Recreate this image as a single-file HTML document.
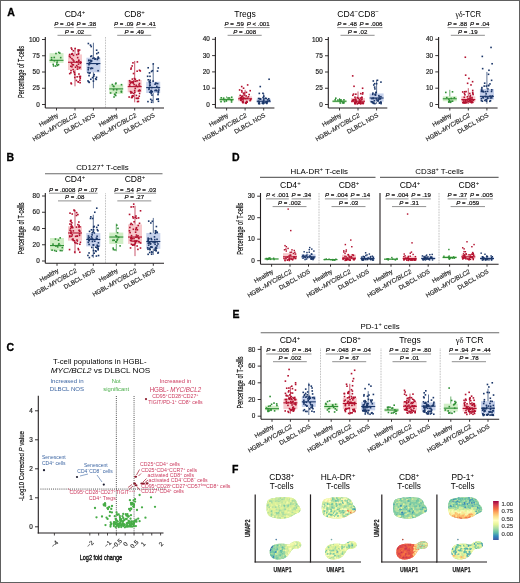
<!DOCTYPE html>
<html><head><meta charset="utf-8"><style>
html,body{margin:0;padding:0;background:#fff;}
body{width:520px;height:583px;overflow:hidden;}
svg{display:block;font-family:"Liberation Sans", sans-serif;will-change:transform;}
</style></head><body>
<svg width="520" height="583" viewBox="0 0 520 583">
<rect x="0" y="0" width="520" height="583" fill="#fff"/>
<defs><clipPath id="ctop"><path d="M13,500 C17,497.5 28,496.8 36,497.8 C40,498.5 42,501.5 42.5,505 C45.5,506.5 46.5,511 43.5,512.5 C41,513.5 39.5,514 37,516 C32,519 22,520 14,516 C10.5,513.5 10.5,503 13,500 Z"/></clipPath><clipPath id="cbot"><path d="M14.5,552 C14.5,547 18,544 24,543.8 C28,543.6 31,544 34,544.5 C36,542.5 38,541.2 41,541.2 C44.5,541.2 46.5,543 46,545.5 C45.5,548 42,549.2 38,549 C36,550 35,553 32.5,556 C30,558.5 26,559.6 22,559.5 C17.5,559.2 14.5,556.5 14.5,552 Z"/></clipPath><linearGradient id="cbar" x1="0" y1="1" x2="0" y2="0"><stop offset="0.0" stop-color="#3e56a3"/><stop offset="0.1" stop-color="#3288bd"/><stop offset="0.2" stop-color="#66c2a5"/><stop offset="0.3" stop-color="#abdda4"/><stop offset="0.4" stop-color="#e6f598"/><stop offset="0.5" stop-color="#ffffbf"/><stop offset="0.6" stop-color="#fee08b"/><stop offset="0.7" stop-color="#fdae61"/><stop offset="0.8" stop-color="#f46d43"/><stop offset="0.9" stop-color="#d53e4f"/><stop offset="1.0" stop-color="#9e0142"/></linearGradient></defs>
<text x="7.2" y="16" font-size="10.5" font-weight="bold" fill="#000" stroke="#000" stroke-width="0.3">A</text>
<text x="6.5" y="161" font-size="10.5" font-weight="bold" fill="#000" stroke="#000" stroke-width="0.3">B</text>
<text x="6.5" y="350.5" font-size="10.5" font-weight="bold" fill="#000" stroke="#000" stroke-width="0.3">C</text>
<text x="232" y="161" font-size="10.5" font-weight="bold" fill="#000" stroke="#000" stroke-width="0.3">D</text>
<text x="232.5" y="318" font-size="10.5" font-weight="bold" fill="#000" stroke="#000" stroke-width="0.3">E</text>
<text x="232" y="473" font-size="10.5" font-weight="bold" fill="#000" stroke="#000" stroke-width="0.3">F</text>
<line x1="45.3" y1="37" x2="45.3" y2="108" stroke="#231f20" stroke-width="1.1"/>
<line x1="42" y1="104.5" x2="45.3" y2="104.5" stroke="#231f20" stroke-width="0.9"/>
<text x="39.7" y="106.6" font-size="6.4" text-anchor="end" fill="#222" stroke="#222" stroke-width="0.18">0</text>
<line x1="42" y1="88.25" x2="45.3" y2="88.25" stroke="#231f20" stroke-width="0.9"/>
<text x="39.7" y="90.35" font-size="6.4" text-anchor="end" fill="#222" stroke="#222" stroke-width="0.18">25</text>
<line x1="42" y1="72" x2="45.3" y2="72" stroke="#231f20" stroke-width="0.9"/>
<text x="39.7" y="74.1" font-size="6.4" text-anchor="end" fill="#222" stroke="#222" stroke-width="0.18">50</text>
<line x1="42" y1="55.75" x2="45.3" y2="55.75" stroke="#231f20" stroke-width="0.9"/>
<text x="39.7" y="57.85" font-size="6.4" text-anchor="end" fill="#222" stroke="#222" stroke-width="0.18">75</text>
<line x1="42" y1="39.5" x2="45.3" y2="39.5" stroke="#231f20" stroke-width="0.9"/>
<text x="39.7" y="41.6" font-size="6.4" text-anchor="end" fill="#222" stroke="#222" stroke-width="0.18">100</text>
<line x1="45.3" y1="108" x2="164" y2="108" stroke="#231f20" stroke-width="1.1"/>
<line x1="56.5" y1="108" x2="56.5" y2="110.5" stroke="#231f20" stroke-width="0.9"/>
<line x1="75" y1="108" x2="75" y2="110.5" stroke="#231f20" stroke-width="0.9"/>
<line x1="93.4" y1="108" x2="93.4" y2="110.5" stroke="#231f20" stroke-width="0.9"/>
<line x1="116.2" y1="108" x2="116.2" y2="110.5" stroke="#231f20" stroke-width="0.9"/>
<line x1="134.7" y1="108" x2="134.7" y2="110.5" stroke="#231f20" stroke-width="0.9"/>
<line x1="153.2" y1="108" x2="153.2" y2="110.5" stroke="#231f20" stroke-width="0.9"/>
<line x1="105.5" y1="37" x2="105.5" y2="108" stroke="#6e6e6e" stroke-width="0.6" stroke-dasharray="0.7 0.9"/>
<text x="58.7" y="116.5" font-size="6.2" text-anchor="end" fill="#2a2a2a" transform="rotate(-30 58.7 116.5)" stroke="#2a2a2a" stroke-width="0.18">Healthy</text>
<text x="77.2" y="116.5" font-size="6.2" text-anchor="end" fill="#2a2a2a" transform="rotate(-30 77.2 116.5)" stroke="#2a2a2a" stroke-width="0.18">HGBL-<tspan font-style="italic">MYC/BLC2</tspan></text>
<text x="95.6" y="116.5" font-size="6.2" text-anchor="end" fill="#2a2a2a" transform="rotate(-30 95.6 116.5)" stroke="#2a2a2a" stroke-width="0.18">DLBCL NOS</text>
<text x="118.4" y="116.5" font-size="6.2" text-anchor="end" fill="#2a2a2a" transform="rotate(-30 118.4 116.5)" stroke="#2a2a2a" stroke-width="0.18">Healthy</text>
<text x="136.9" y="116.5" font-size="6.2" text-anchor="end" fill="#2a2a2a" transform="rotate(-30 136.9 116.5)" stroke="#2a2a2a" stroke-width="0.18">HGBL-<tspan font-style="italic">MYC/BLC2</tspan></text>
<text x="155.4" y="116.5" font-size="6.2" text-anchor="end" fill="#2a2a2a" transform="rotate(-30 155.4 116.5)" stroke="#2a2a2a" stroke-width="0.18">DLBCL NOS</text>
<text x="23.5" y="72" font-size="8.2" text-anchor="middle" fill="#111" transform="rotate(-90 23.5 72)" textLength="52" lengthAdjust="spacingAndGlyphs" stroke="#111" stroke-width="0.2">Percentage of T-cells</text>
<text x="75" y="16.6" font-size="8.6" text-anchor="middle">CD4<tspan baseline-shift="super" font-size="70%">+</tspan></text>
<text x="134.5" y="16.6" font-size="8.6" text-anchor="middle">CD8<tspan baseline-shift="super" font-size="70%">+</tspan></text>
<text x="73.8" y="26" font-size="6.1" text-anchor="end" stroke="#231f20" stroke-width="0.18"><tspan font-style="italic">P</tspan> = .04</text>
<text x="76.6" y="26" font-size="6.1" stroke="#231f20" stroke-width="0.18"><tspan font-style="italic">P</tspan> = .38</text>
<line x1="54.3" y1="27.6" x2="73.8" y2="27.6" stroke="#444" stroke-width="0.6"/>
<line x1="76.6" y1="27.6" x2="96.1" y2="27.6" stroke="#444" stroke-width="0.6"/>
<text x="74.45" y="33.6" font-size="6.1" text-anchor="middle" stroke="#231f20" stroke-width="0.18"><tspan font-style="italic">P</tspan> = .02</text>
<line x1="57.5" y1="35.3" x2="91.4" y2="35.3" stroke="#444" stroke-width="0.6"/>
<text x="133.5" y="26" font-size="6.1" text-anchor="end" stroke="#231f20" stroke-width="0.18"><tspan font-style="italic">P</tspan> = .09</text>
<text x="136.3" y="26" font-size="6.1" stroke="#231f20" stroke-width="0.18"><tspan font-style="italic">P</tspan> = .41</text>
<line x1="114" y1="27.6" x2="133.5" y2="27.6" stroke="#444" stroke-width="0.6"/>
<line x1="136.3" y1="27.6" x2="155.8" y2="27.6" stroke="#444" stroke-width="0.6"/>
<text x="134.2" y="33.6" font-size="6.1" text-anchor="middle" stroke="#231f20" stroke-width="0.18"><tspan font-style="italic">P</tspan> = .49</text>
<line x1="117.2" y1="35.3" x2="151.2" y2="35.3" stroke="#444" stroke-width="0.6"/>
<rect x="49.5" y="53.15" width="14" height="9.75" fill="#d0eec6"/>
<g fill="#2f8f35"><rect x="56.23" y="61.71" width="1.6" height="1.6"/><rect x="50.8" y="58.98" width="1.6" height="1.6"/><rect x="50.77" y="56.89" width="1.6" height="1.6"/><rect x="52.41" y="63.57" width="1.6" height="1.6"/><rect x="57.72" y="63.83" width="1.6" height="1.6"/><rect x="54.89" y="65.27" width="1.6" height="1.6"/><rect x="53.62" y="59.95" width="1.6" height="1.6"/><rect x="56.66" y="64.63" width="1.6" height="1.6"/><rect x="55.18" y="52.72" width="1.6" height="1.6"/><rect x="53.46" y="56.66" width="1.6" height="1.6"/><rect x="59" y="52.31" width="1.6" height="1.6"/><rect x="57.93" y="51.63" width="1.6" height="1.6"/><rect x="52.83" y="65.13" width="1.6" height="1.6"/><rect x="56.53" y="59.98" width="1.6" height="1.6"/><rect x="55.98" y="63.33" width="1.6" height="1.6"/><rect x="59.9" y="56.84" width="1.6" height="1.6"/></g>
<line x1="49.5" y1="60.3" x2="63.5" y2="60.3" stroke="#2f8f35" stroke-width="1.1"/>
<rect x="68" y="54.45" width="14" height="15.6" fill="#f7c8cc"/>
<line x1="75" y1="54.45" x2="75" y2="47.95" stroke="#b3102e" stroke-width="0.7"/>
<line x1="75" y1="70.05" x2="75" y2="86.3" stroke="#b3102e" stroke-width="0.7"/>
<g fill="#b3102e"><rect x="72.29" y="59.2" width="1.6" height="1.6"/><rect x="71.1" y="53.44" width="1.6" height="1.6"/><rect x="77.69" y="63.34" width="1.6" height="1.6"/><rect x="79.63" y="75.65" width="1.6" height="1.6"/><rect x="78.15" y="73.25" width="1.6" height="1.6"/><rect x="77.63" y="50.98" width="1.6" height="1.6"/><rect x="77.77" y="52.63" width="1.6" height="1.6"/><rect x="76.89" y="56.81" width="1.6" height="1.6"/><rect x="71.14" y="57.89" width="1.6" height="1.6"/><rect x="74.4" y="47.72" width="1.6" height="1.6"/><rect x="72.58" y="64.07" width="1.6" height="1.6"/><rect x="68.92" y="72.82" width="1.6" height="1.6"/><rect x="68.91" y="53.7" width="1.6" height="1.6"/><rect x="71.73" y="52.78" width="1.6" height="1.6"/><rect x="71.5" y="64.03" width="1.6" height="1.6"/><rect x="76.36" y="76.04" width="1.6" height="1.6"/><rect x="79.31" y="81.88" width="1.6" height="1.6"/><rect x="73.61" y="71.99" width="1.6" height="1.6"/><rect x="79.09" y="79.38" width="1.6" height="1.6"/><rect x="79.67" y="62.45" width="1.6" height="1.6"/><rect x="79.3" y="76.22" width="1.6" height="1.6"/><rect x="72.68" y="54.56" width="1.6" height="1.6"/><rect x="71.07" y="48.51" width="1.6" height="1.6"/><rect x="71.14" y="66.01" width="1.6" height="1.6"/><rect x="70.8" y="62.35" width="1.6" height="1.6"/><rect x="70.89" y="53.33" width="1.6" height="1.6"/><rect x="75.59" y="79.66" width="1.6" height="1.6"/><rect x="78.68" y="75.71" width="1.6" height="1.6"/><rect x="78.01" y="59.4" width="1.6" height="1.6"/><rect x="73.97" y="76.66" width="1.6" height="1.6"/><rect x="75.91" y="64.83" width="1.6" height="1.6"/><rect x="77.56" y="50.06" width="1.6" height="1.6"/><rect x="69.55" y="56.63" width="1.6" height="1.6"/><rect x="76" y="61.03" width="1.6" height="1.6"/><rect x="78.79" y="49.28" width="1.6" height="1.6"/><rect x="77.36" y="49.12" width="1.6" height="1.6"/><rect x="77" y="66.14" width="1.6" height="1.6"/><rect x="73.95" y="73.68" width="1.6" height="1.6"/><rect x="70.6" y="83.04" width="1.6" height="1.6"/><rect x="77.44" y="80.95" width="1.6" height="1.6"/><rect x="72.32" y="68.84" width="1.6" height="1.6"/><rect x="77.57" y="81.17" width="1.6" height="1.6"/><rect x="79.48" y="77.5" width="1.6" height="1.6"/><rect x="73.03" y="70.71" width="1.6" height="1.6"/><rect x="73.1" y="60.29" width="1.6" height="1.6"/><rect x="79.2" y="66.54" width="1.6" height="1.6"/><rect x="76.72" y="68.29" width="1.6" height="1.6"/><rect x="70.5" y="47.22" width="1.6" height="1.6"/><rect x="70.02" y="65.48" width="1.6" height="1.6"/><rect x="70.29" y="82.21" width="1.6" height="1.6"/><rect x="78.73" y="67.18" width="1.6" height="1.6"/><rect x="77.63" y="53.3" width="1.6" height="1.6"/><rect x="70.24" y="69.81" width="1.6" height="1.6"/><rect x="77.86" y="60.31" width="1.6" height="1.6"/><rect x="79.58" y="61.24" width="1.6" height="1.6"/><rect x="75.96" y="53.82" width="1.6" height="1.6"/><rect x="72.52" y="50.01" width="1.6" height="1.6"/><rect x="74.74" y="66.39" width="1.6" height="1.6"/><rect x="70.07" y="71.94" width="1.6" height="1.6"/><rect x="68.76" y="55.37" width="1.6" height="1.6"/></g>
<line x1="68" y1="62.25" x2="82" y2="62.25" stroke="#b3102e" stroke-width="1.1"/>
<rect x="86.4" y="57.7" width="14" height="14.62" fill="#c6d1eb"/>
<line x1="93.4" y1="57.7" x2="93.4" y2="42.75" stroke="#1a3669" stroke-width="0.7"/>
<line x1="93.4" y1="72.32" x2="93.4" y2="88.25" stroke="#1a3669" stroke-width="0.7"/>
<g fill="#1a3669"><rect x="95.83" y="49.4" width="1.6" height="1.6"/><rect x="97.88" y="57.29" width="1.6" height="1.6"/><rect x="88.17" y="63.88" width="1.6" height="1.6"/><rect x="89.97" y="55.66" width="1.6" height="1.6"/><rect x="87.44" y="68.95" width="1.6" height="1.6"/><rect x="95.72" y="76.49" width="1.6" height="1.6"/><rect x="90.03" y="67.85" width="1.6" height="1.6"/><rect x="88.45" y="72.54" width="1.6" height="1.6"/><rect x="91.73" y="67.5" width="1.6" height="1.6"/><rect x="97.21" y="57.46" width="1.6" height="1.6"/><rect x="96.17" y="63.47" width="1.6" height="1.6"/><rect x="89.9" y="59.64" width="1.6" height="1.6"/><rect x="88.67" y="62.64" width="1.6" height="1.6"/><rect x="97.29" y="69.92" width="1.6" height="1.6"/><rect x="93.39" y="73.84" width="1.6" height="1.6"/><rect x="94.84" y="78.01" width="1.6" height="1.6"/><rect x="88" y="59.49" width="1.6" height="1.6"/><rect x="87.64" y="66.98" width="1.6" height="1.6"/><rect x="94.71" y="58.16" width="1.6" height="1.6"/><rect x="91.76" y="76.83" width="1.6" height="1.6"/><rect x="87.81" y="80.97" width="1.6" height="1.6"/><rect x="97.51" y="51.85" width="1.6" height="1.6"/><rect x="94.11" y="58.3" width="1.6" height="1.6"/><rect x="95.98" y="52.83" width="1.6" height="1.6"/><rect x="87.94" y="59.79" width="1.6" height="1.6"/><rect x="96.59" y="58.7" width="1.6" height="1.6"/><rect x="87.75" y="66.85" width="1.6" height="1.6"/><rect x="96.66" y="63.26" width="1.6" height="1.6"/><rect x="92.08" y="57.62" width="1.6" height="1.6"/><rect x="90.8" y="55.17" width="1.6" height="1.6"/><rect x="93.19" y="57.23" width="1.6" height="1.6"/><rect x="97.38" y="56.28" width="1.6" height="1.6"/><rect x="90" y="78.46" width="1.6" height="1.6"/><rect x="88.45" y="81.57" width="1.6" height="1.6"/><rect x="92.9" y="75.42" width="1.6" height="1.6"/><rect x="89.67" y="44.34" width="1.6" height="1.6"/><rect x="88.23" y="74.84" width="1.6" height="1.6"/><rect x="88.81" y="61.91" width="1.6" height="1.6"/><rect x="87.56" y="42.72" width="1.6" height="1.6"/><rect x="89.26" y="72.06" width="1.6" height="1.6"/><rect x="90.49" y="67.25" width="1.6" height="1.6"/><rect x="90.42" y="45.75" width="1.6" height="1.6"/><rect x="95.51" y="78.61" width="1.6" height="1.6"/><rect x="90.25" y="60.77" width="1.6" height="1.6"/><rect x="92.6" y="80.3" width="1.6" height="1.6"/><rect x="88.99" y="62.64" width="1.6" height="1.6"/><rect x="90.89" y="60.17" width="1.6" height="1.6"/><rect x="87.2" y="80.1" width="1.6" height="1.6"/><rect x="89.81" y="59.75" width="1.6" height="1.6"/><rect x="87.17" y="71.69" width="1.6" height="1.6"/></g>
<line x1="86.4" y1="63.55" x2="100.4" y2="63.55" stroke="#1a3669" stroke-width="1.1"/>
<rect x="109.2" y="84.61" width="14" height="9.17" fill="#d0eec6"/>
<g fill="#2f8f35"><rect x="113.08" y="85.74" width="1.6" height="1.6"/><rect x="114.95" y="94.69" width="1.6" height="1.6"/><rect x="111.56" y="83.73" width="1.6" height="1.6"/><rect x="114.79" y="83.06" width="1.6" height="1.6"/><rect x="112.75" y="88.91" width="1.6" height="1.6"/><rect x="120.57" y="90.5" width="1.6" height="1.6"/><rect x="120.69" y="83.89" width="1.6" height="1.6"/><rect x="115.93" y="88.92" width="1.6" height="1.6"/><rect x="112.54" y="85.37" width="1.6" height="1.6"/><rect x="120.62" y="91.28" width="1.6" height="1.6"/><rect x="113.27" y="96.19" width="1.6" height="1.6"/><rect x="113.79" y="93.78" width="1.6" height="1.6"/><rect x="109.81" y="92.18" width="1.6" height="1.6"/><rect x="114.07" y="93.46" width="1.6" height="1.6"/><rect x="115.12" y="82.3" width="1.6" height="1.6"/><rect x="115.43" y="91.79" width="1.6" height="1.6"/></g>
<line x1="109.2" y1="88.9" x2="123.2" y2="88.9" stroke="#2f8f35" stroke-width="1.1"/>
<rect x="127.7" y="80" width="14" height="12.28" fill="#f7c8cc"/>
<line x1="134.7" y1="80" x2="134.7" y2="60.95" stroke="#b3102e" stroke-width="0.7"/>
<line x1="134.7" y1="92.28" x2="134.7" y2="102.29" stroke="#b3102e" stroke-width="0.7"/>
<g fill="#b3102e"><rect x="131.84" y="95.29" width="1.6" height="1.6"/><rect x="137.71" y="97.55" width="1.6" height="1.6"/><rect x="128.32" y="96.22" width="1.6" height="1.6"/><rect x="136.71" y="100.79" width="1.6" height="1.6"/><rect x="137.7" y="90.16" width="1.6" height="1.6"/><rect x="129.64" y="82.32" width="1.6" height="1.6"/><rect x="138.68" y="69.46" width="1.6" height="1.6"/><rect x="136.29" y="80" width="1.6" height="1.6"/><rect x="138.4" y="89.64" width="1.6" height="1.6"/><rect x="131.55" y="78.29" width="1.6" height="1.6"/><rect x="132.47" y="81.56" width="1.6" height="1.6"/><rect x="132.7" y="92.66" width="1.6" height="1.6"/><rect x="139.49" y="70.16" width="1.6" height="1.6"/><rect x="134.9" y="80.44" width="1.6" height="1.6"/><rect x="132.34" y="95.12" width="1.6" height="1.6"/><rect x="133.09" y="80.29" width="1.6" height="1.6"/><rect x="131.38" y="65.16" width="1.6" height="1.6"/><rect x="128.84" y="79.91" width="1.6" height="1.6"/><rect x="129.44" y="81.23" width="1.6" height="1.6"/><rect x="137.65" y="100.61" width="1.6" height="1.6"/><rect x="131.5" y="96.59" width="1.6" height="1.6"/><rect x="138.78" y="92.66" width="1.6" height="1.6"/><rect x="131.09" y="81.66" width="1.6" height="1.6"/><rect x="131.28" y="81.31" width="1.6" height="1.6"/><rect x="134.02" y="91.46" width="1.6" height="1.6"/><rect x="130.43" y="67.22" width="1.6" height="1.6"/><rect x="132.48" y="82.28" width="1.6" height="1.6"/><rect x="139.01" y="85.39" width="1.6" height="1.6"/><rect x="138.2" y="84.15" width="1.6" height="1.6"/><rect x="137.39" y="97.53" width="1.6" height="1.6"/><rect x="135.37" y="84.46" width="1.6" height="1.6"/><rect x="138.53" y="79.36" width="1.6" height="1.6"/><rect x="138.84" y="89.32" width="1.6" height="1.6"/><rect x="134.45" y="87.61" width="1.6" height="1.6"/><rect x="136.36" y="70.4" width="1.6" height="1.6"/><rect x="128.85" y="85.31" width="1.6" height="1.6"/><rect x="136.5" y="97.66" width="1.6" height="1.6"/><rect x="133.35" y="83.81" width="1.6" height="1.6"/><rect x="136.73" y="85.74" width="1.6" height="1.6"/><rect x="135.52" y="97.5" width="1.6" height="1.6"/><rect x="131.51" y="81.24" width="1.6" height="1.6"/><rect x="128.85" y="83.9" width="1.6" height="1.6"/><rect x="138.68" y="82.74" width="1.6" height="1.6"/><rect x="129.73" y="90.81" width="1.6" height="1.6"/><rect x="133.59" y="77.75" width="1.6" height="1.6"/><rect x="132.15" y="62.05" width="1.6" height="1.6"/><rect x="131.64" y="95.69" width="1.6" height="1.6"/><rect x="136.58" y="61.11" width="1.6" height="1.6"/><rect x="139.23" y="89.96" width="1.6" height="1.6"/><rect x="131.21" y="91.86" width="1.6" height="1.6"/><rect x="135.65" y="94.64" width="1.6" height="1.6"/><rect x="131.67" y="95.12" width="1.6" height="1.6"/><rect x="134.54" y="78.44" width="1.6" height="1.6"/><rect x="132.72" y="72.74" width="1.6" height="1.6"/><rect x="130.17" y="68.35" width="1.6" height="1.6"/><rect x="130.11" y="92.21" width="1.6" height="1.6"/><rect x="130.63" y="91.34" width="1.6" height="1.6"/><rect x="138.45" y="95.4" width="1.6" height="1.6"/><rect x="133.87" y="89.77" width="1.6" height="1.6"/><rect x="130.76" y="96.75" width="1.6" height="1.6"/></g>
<line x1="127.7" y1="86.62" x2="141.7" y2="86.62" stroke="#b3102e" stroke-width="1.1"/>
<rect x="146.2" y="81.75" width="14" height="11.25" fill="#c6d1eb"/>
<line x1="153.2" y1="81.75" x2="153.2" y2="63.81" stroke="#1a3669" stroke-width="0.7"/>
<line x1="153.2" y1="93" x2="153.2" y2="103.2" stroke="#1a3669" stroke-width="0.7"/>
<g fill="#1a3669"><rect x="152.45" y="63.11" width="1.6" height="1.6"/><rect x="149.1" y="91.44" width="1.6" height="1.6"/><rect x="157.66" y="100.5" width="1.6" height="1.6"/><rect x="150.29" y="91.7" width="1.6" height="1.6"/><rect x="155.98" y="98.44" width="1.6" height="1.6"/><rect x="149.39" y="81.61" width="1.6" height="1.6"/><rect x="149.28" y="84.39" width="1.6" height="1.6"/><rect x="155.32" y="89.37" width="1.6" height="1.6"/><rect x="150.1" y="90.37" width="1.6" height="1.6"/><rect x="157.46" y="98.24" width="1.6" height="1.6"/><rect x="152.35" y="80.3" width="1.6" height="1.6"/><rect x="148.9" y="83.12" width="1.6" height="1.6"/><rect x="149.3" y="79.41" width="1.6" height="1.6"/><rect x="151.47" y="90.85" width="1.6" height="1.6"/><rect x="154.25" y="89.79" width="1.6" height="1.6"/><rect x="157.43" y="67.15" width="1.6" height="1.6"/><rect x="148.44" y="80.91" width="1.6" height="1.6"/><rect x="151.21" y="94.37" width="1.6" height="1.6"/><rect x="149.19" y="75.53" width="1.6" height="1.6"/><rect x="157.71" y="86.8" width="1.6" height="1.6"/><rect x="148.39" y="87.19" width="1.6" height="1.6"/><rect x="147.38" y="66.98" width="1.6" height="1.6"/><rect x="147.47" y="79.02" width="1.6" height="1.6"/><rect x="151.21" y="99.64" width="1.6" height="1.6"/><rect x="156.86" y="82.81" width="1.6" height="1.6"/><rect x="156.7" y="70.3" width="1.6" height="1.6"/><rect x="155.01" y="82.33" width="1.6" height="1.6"/><rect x="157.97" y="89.22" width="1.6" height="1.6"/><rect x="157.23" y="93.81" width="1.6" height="1.6"/><rect x="150.49" y="92.77" width="1.6" height="1.6"/><rect x="148.88" y="85.02" width="1.6" height="1.6"/><rect x="157.28" y="98.51" width="1.6" height="1.6"/><rect x="155.16" y="82.71" width="1.6" height="1.6"/><rect x="147.16" y="100.81" width="1.6" height="1.6"/><rect x="154.24" y="83.39" width="1.6" height="1.6"/><rect x="151.04" y="90.99" width="1.6" height="1.6"/><rect x="150.99" y="86.74" width="1.6" height="1.6"/><rect x="150.52" y="89.71" width="1.6" height="1.6"/><rect x="148.7" y="72.06" width="1.6" height="1.6"/><rect x="146.83" y="75.49" width="1.6" height="1.6"/><rect x="149.93" y="98.56" width="1.6" height="1.6"/><rect x="150.74" y="70.7" width="1.6" height="1.6"/><rect x="157.5" y="92.08" width="1.6" height="1.6"/><rect x="148.19" y="88.56" width="1.6" height="1.6"/><rect x="157.6" y="90.81" width="1.6" height="1.6"/><rect x="149.12" y="81.39" width="1.6" height="1.6"/><rect x="150.79" y="101.44" width="1.6" height="1.6"/><rect x="156" y="89.93" width="1.6" height="1.6"/><rect x="156.01" y="85.64" width="1.6" height="1.6"/><rect x="151.64" y="69.89" width="1.6" height="1.6"/></g>
<line x1="146.2" y1="87.6" x2="160.2" y2="87.6" stroke="#1a3669" stroke-width="1.1"/>
<line x1="215.4" y1="37" x2="215.4" y2="108" stroke="#231f20" stroke-width="1.1"/>
<line x1="212.1" y1="104.5" x2="215.4" y2="104.5" stroke="#231f20" stroke-width="0.9"/>
<text x="209.8" y="106.6" font-size="6.4" text-anchor="end" fill="#222" stroke="#222" stroke-width="0.18">0</text>
<line x1="212.1" y1="88.2" x2="215.4" y2="88.2" stroke="#231f20" stroke-width="0.9"/>
<text x="209.8" y="90.3" font-size="6.4" text-anchor="end" fill="#222" stroke="#222" stroke-width="0.18">10</text>
<line x1="212.1" y1="71.9" x2="215.4" y2="71.9" stroke="#231f20" stroke-width="0.9"/>
<text x="209.8" y="74" font-size="6.4" text-anchor="end" fill="#222" stroke="#222" stroke-width="0.18">20</text>
<line x1="212.1" y1="55.6" x2="215.4" y2="55.6" stroke="#231f20" stroke-width="0.9"/>
<text x="209.8" y="57.7" font-size="6.4" text-anchor="end" fill="#222" stroke="#222" stroke-width="0.18">30</text>
<line x1="212.1" y1="39.3" x2="215.4" y2="39.3" stroke="#231f20" stroke-width="0.9"/>
<text x="209.8" y="41.4" font-size="6.4" text-anchor="end" fill="#222" stroke="#222" stroke-width="0.18">40</text>
<line x1="215.4" y1="108" x2="274.4" y2="108" stroke="#231f20" stroke-width="1.1"/>
<line x1="226.6" y1="108" x2="226.6" y2="110.5" stroke="#231f20" stroke-width="0.9"/>
<line x1="245.1" y1="108" x2="245.1" y2="110.5" stroke="#231f20" stroke-width="0.9"/>
<line x1="263.7" y1="108" x2="263.7" y2="110.5" stroke="#231f20" stroke-width="0.9"/>
<text x="228.8" y="116.5" font-size="6.2" text-anchor="end" fill="#2a2a2a" transform="rotate(-30 228.8 116.5)" stroke="#2a2a2a" stroke-width="0.18">Healthy</text>
<text x="247.3" y="116.5" font-size="6.2" text-anchor="end" fill="#2a2a2a" transform="rotate(-30 247.3 116.5)" stroke="#2a2a2a" stroke-width="0.18">HGBL-<tspan font-style="italic">MYC/BLC2</tspan></text>
<text x="265.9" y="116.5" font-size="6.2" text-anchor="end" fill="#2a2a2a" transform="rotate(-30 265.9 116.5)" stroke="#2a2a2a" stroke-width="0.18">DLBCL NOS</text>
<text x="245.1" y="16.7" font-size="8.6" text-anchor="middle">Tregs</text>
<text x="243.9" y="26" font-size="6.1" text-anchor="end" stroke="#231f20" stroke-width="0.18"><tspan font-style="italic">P</tspan> = .59</text>
<text x="246.7" y="26" font-size="6.1" stroke="#231f20" stroke-width="0.18"><tspan font-style="italic">P</tspan> &lt; .001</text>
<line x1="224.4" y1="27.6" x2="243.9" y2="27.6" stroke="#444" stroke-width="0.6"/>
<line x1="246.7" y1="27.6" x2="269.59" y2="27.6" stroke="#444" stroke-width="0.6"/>
<text x="244.65" y="33.6" font-size="6.1" text-anchor="middle" stroke="#231f20" stroke-width="0.18"><tspan font-style="italic">P</tspan> = .008</text>
<line x1="227.6" y1="35.3" x2="261.7" y2="35.3" stroke="#444" stroke-width="0.6"/>
<rect x="219.6" y="97.98" width="14" height="3.26" fill="#d0eec6"/>
<line x1="226.6" y1="97.98" x2="226.6" y2="96.35" stroke="#2f8f35" stroke-width="0.7"/>
<line x1="226.6" y1="101.24" x2="226.6" y2="102.06" stroke="#2f8f35" stroke-width="0.7"/>
<g fill="#2f8f35"><rect x="223.74" y="100.77" width="1.6" height="1.6"/><rect x="223.29" y="98.94" width="1.6" height="1.6"/><rect x="220.24" y="100.85" width="1.6" height="1.6"/><rect x="228.66" y="97.17" width="1.6" height="1.6"/><rect x="230.46" y="99.12" width="1.6" height="1.6"/><rect x="227.3" y="97.17" width="1.6" height="1.6"/><rect x="230.76" y="101.14" width="1.6" height="1.6"/><rect x="220.47" y="96.99" width="1.6" height="1.6"/><rect x="222.82" y="97.35" width="1.6" height="1.6"/><rect x="225.52" y="100" width="1.6" height="1.6"/><rect x="230.92" y="96.43" width="1.6" height="1.6"/><rect x="230.88" y="99.27" width="1.6" height="1.6"/></g>
<line x1="219.6" y1="99.61" x2="233.6" y2="99.61" stroke="#2f8f35" stroke-width="1.1"/>
<rect x="238.1" y="96.35" width="14" height="4.89" fill="#f7c8cc"/>
<line x1="245.1" y1="96.35" x2="245.1" y2="89.83" stroke="#b3102e" stroke-width="0.7"/>
<line x1="245.1" y1="101.24" x2="245.1" y2="103.69" stroke="#b3102e" stroke-width="0.7"/>
<g fill="#b3102e"><rect x="249.29" y="99.83" width="1.6" height="1.6"/><rect x="239.88" y="99.23" width="1.6" height="1.6"/><rect x="245.38" y="95.12" width="1.6" height="1.6"/><rect x="245.64" y="91.54" width="1.6" height="1.6"/><rect x="241.14" y="91.23" width="1.6" height="1.6"/><rect x="242.83" y="97.19" width="1.6" height="1.6"/><rect x="240.28" y="99.56" width="1.6" height="1.6"/><rect x="240.98" y="95.44" width="1.6" height="1.6"/><rect x="241.56" y="100.88" width="1.6" height="1.6"/><rect x="245.41" y="102.53" width="1.6" height="1.6"/><rect x="246" y="101.27" width="1.6" height="1.6"/><rect x="240.98" y="98.04" width="1.6" height="1.6"/><rect x="238.83" y="89.16" width="1.6" height="1.6"/><rect x="242.37" y="100.23" width="1.6" height="1.6"/><rect x="246.3" y="101.38" width="1.6" height="1.6"/><rect x="240.77" y="96.9" width="1.6" height="1.6"/><rect x="242.2" y="101.56" width="1.6" height="1.6"/><rect x="240.98" y="96.35" width="1.6" height="1.6"/><rect x="247.61" y="95.92" width="1.6" height="1.6"/><rect x="244.84" y="97.7" width="1.6" height="1.6"/><rect x="239.41" y="94.63" width="1.6" height="1.6"/><rect x="239.84" y="97.08" width="1.6" height="1.6"/><rect x="243.13" y="97.51" width="1.6" height="1.6"/><rect x="244.86" y="101.97" width="1.6" height="1.6"/><rect x="245.86" y="100.64" width="1.6" height="1.6"/><rect x="239.72" y="97.2" width="1.6" height="1.6"/><rect x="240.53" y="98.01" width="1.6" height="1.6"/><rect x="246.49" y="97.43" width="1.6" height="1.6"/><rect x="243.29" y="92.25" width="1.6" height="1.6"/><rect x="241.87" y="95.38" width="1.6" height="1.6"/><rect x="242.15" y="98.44" width="1.6" height="1.6"/><rect x="249.38" y="89.9" width="1.6" height="1.6"/><rect x="242.2" y="101.85" width="1.6" height="1.6"/><rect x="245.05" y="102.12" width="1.6" height="1.6"/><rect x="242.7" y="92.8" width="1.6" height="1.6"/><rect x="243.36" y="94.21" width="1.6" height="1.6"/><rect x="248.38" y="93.74" width="1.6" height="1.6"/><rect x="249.86" y="98.54" width="1.6" height="1.6"/><rect x="242.77" y="87.4" width="1.6" height="1.6"/><rect x="240.91" y="85.77" width="1.6" height="1.6"/><rect x="246.85" y="84.14" width="1.6" height="1.6"/><rect x="240.98" y="89.84" width="1.6" height="1.6"/></g>
<line x1="238.1" y1="98.8" x2="252.1" y2="98.8" stroke="#b3102e" stroke-width="1.1"/>
<rect x="256.7" y="98.8" width="14" height="4.08" fill="#c6d1eb"/>
<line x1="263.7" y1="98.8" x2="263.7" y2="93.09" stroke="#1a3669" stroke-width="0.7"/>
<line x1="263.7" y1="102.87" x2="263.7" y2="104.01" stroke="#1a3669" stroke-width="0.7"/>
<g fill="#1a3669"><rect x="262.3" y="102.15" width="1.6" height="1.6"/><rect x="262.21" y="100.73" width="1.6" height="1.6"/><rect x="257.56" y="100.63" width="1.6" height="1.6"/><rect x="264.23" y="101.81" width="1.6" height="1.6"/><rect x="262.78" y="102.46" width="1.6" height="1.6"/><rect x="259.93" y="98.22" width="1.6" height="1.6"/><rect x="265.85" y="102.39" width="1.6" height="1.6"/><rect x="266.04" y="101.25" width="1.6" height="1.6"/><rect x="262.43" y="102.74" width="1.6" height="1.6"/><rect x="259.31" y="98.18" width="1.6" height="1.6"/><rect x="262.6" y="102.52" width="1.6" height="1.6"/><rect x="258.5" y="92.59" width="1.6" height="1.6"/><rect x="258.74" y="102.94" width="1.6" height="1.6"/><rect x="262.12" y="92.51" width="1.6" height="1.6"/><rect x="258.33" y="101.98" width="1.6" height="1.6"/><rect x="262.25" y="96.74" width="1.6" height="1.6"/><rect x="263.01" y="95.34" width="1.6" height="1.6"/><rect x="257.76" y="97.69" width="1.6" height="1.6"/><rect x="264.43" y="97.48" width="1.6" height="1.6"/><rect x="258.22" y="100.69" width="1.6" height="1.6"/><rect x="265.51" y="97.62" width="1.6" height="1.6"/><rect x="266.01" y="102.61" width="1.6" height="1.6"/><rect x="263.03" y="99.5" width="1.6" height="1.6"/><rect x="257.91" y="102.78" width="1.6" height="1.6"/><rect x="262.94" y="98.25" width="1.6" height="1.6"/><rect x="261.53" y="102.45" width="1.6" height="1.6"/><rect x="267.95" y="97.96" width="1.6" height="1.6"/><rect x="258.83" y="97.81" width="1.6" height="1.6"/><rect x="266.9" y="99.1" width="1.6" height="1.6"/><rect x="268.46" y="99.69" width="1.6" height="1.6"/><rect x="265.5" y="101.12" width="1.6" height="1.6"/><rect x="266.43" y="101" width="1.6" height="1.6"/><rect x="259.47" y="85.77" width="1.6" height="1.6"/><rect x="268.3" y="78.44" width="1.6" height="1.6"/></g>
<line x1="256.7" y1="101.24" x2="270.7" y2="101.24" stroke="#1a3669" stroke-width="1.1"/>
<line x1="328.3" y1="37" x2="328.3" y2="108" stroke="#231f20" stroke-width="1.1"/>
<line x1="325" y1="104.5" x2="328.3" y2="104.5" stroke="#231f20" stroke-width="0.9"/>
<text x="322.7" y="106.6" font-size="6.4" text-anchor="end" fill="#222" stroke="#222" stroke-width="0.18">0</text>
<line x1="325" y1="88.25" x2="328.3" y2="88.25" stroke="#231f20" stroke-width="0.9"/>
<text x="322.7" y="90.35" font-size="6.4" text-anchor="end" fill="#222" stroke="#222" stroke-width="0.18">25</text>
<line x1="325" y1="72" x2="328.3" y2="72" stroke="#231f20" stroke-width="0.9"/>
<text x="322.7" y="74.1" font-size="6.4" text-anchor="end" fill="#222" stroke="#222" stroke-width="0.18">50</text>
<line x1="325" y1="55.75" x2="328.3" y2="55.75" stroke="#231f20" stroke-width="0.9"/>
<text x="322.7" y="57.85" font-size="6.4" text-anchor="end" fill="#222" stroke="#222" stroke-width="0.18">75</text>
<line x1="325" y1="39.5" x2="328.3" y2="39.5" stroke="#231f20" stroke-width="0.9"/>
<text x="322.7" y="41.6" font-size="6.4" text-anchor="end" fill="#222" stroke="#222" stroke-width="0.18">100</text>
<line x1="328.3" y1="108" x2="387.3" y2="108" stroke="#231f20" stroke-width="1.1"/>
<line x1="339.5" y1="108" x2="339.5" y2="110.5" stroke="#231f20" stroke-width="0.9"/>
<line x1="358" y1="108" x2="358" y2="110.5" stroke="#231f20" stroke-width="0.9"/>
<line x1="376.6" y1="108" x2="376.6" y2="110.5" stroke="#231f20" stroke-width="0.9"/>
<text x="341.7" y="116.5" font-size="6.2" text-anchor="end" fill="#2a2a2a" transform="rotate(-30 341.7 116.5)" stroke="#2a2a2a" stroke-width="0.18">Healthy</text>
<text x="360.2" y="116.5" font-size="6.2" text-anchor="end" fill="#2a2a2a" transform="rotate(-30 360.2 116.5)" stroke="#2a2a2a" stroke-width="0.18">HGBL-<tspan font-style="italic">MYC/BLC2</tspan></text>
<text x="378.8" y="116.5" font-size="6.2" text-anchor="end" fill="#2a2a2a" transform="rotate(-30 378.8 116.5)" stroke="#2a2a2a" stroke-width="0.18">DLBCL NOS</text>
<text x="358" y="16.7" font-size="8.6" text-anchor="middle">CD4<tspan baseline-shift="super" font-size="70%">−</tspan>CD8<tspan baseline-shift="super" font-size="70%">−</tspan></text>
<text x="356.8" y="26" font-size="6.1" text-anchor="end" stroke="#231f20" stroke-width="0.18"><tspan font-style="italic">P</tspan> = .48</text>
<text x="359.6" y="26" font-size="6.1" stroke="#231f20" stroke-width="0.18"><tspan font-style="italic">P</tspan> = .006</text>
<line x1="337.3" y1="27.6" x2="356.8" y2="27.6" stroke="#444" stroke-width="0.6"/>
<line x1="359.6" y1="27.6" x2="382.49" y2="27.6" stroke="#444" stroke-width="0.6"/>
<text x="357.55" y="33.6" font-size="6.1" text-anchor="middle" stroke="#231f20" stroke-width="0.18"><tspan font-style="italic">P</tspan> = .02</text>
<line x1="340.5" y1="35.3" x2="374.6" y2="35.3" stroke="#444" stroke-width="0.6"/>
<rect x="332.5" y="99.95" width="14" height="2.6" fill="#d0eec6"/>
<line x1="339.5" y1="99.95" x2="339.5" y2="98" stroke="#2f8f35" stroke-width="0.7"/>
<line x1="339.5" y1="102.55" x2="339.5" y2="103.2" stroke="#2f8f35" stroke-width="0.7"/>
<g fill="#2f8f35"><rect x="340.71" y="100.51" width="1.6" height="1.6"/><rect x="343.13" y="99.04" width="1.6" height="1.6"/><rect x="334.99" y="97.41" width="1.6" height="1.6"/><rect x="341.89" y="102.09" width="1.6" height="1.6"/><rect x="334.39" y="99.05" width="1.6" height="1.6"/><rect x="339.04" y="98.9" width="1.6" height="1.6"/><rect x="340.23" y="99.06" width="1.6" height="1.6"/><rect x="337.13" y="99.25" width="1.6" height="1.6"/><rect x="342.88" y="102.14" width="1.6" height="1.6"/><rect x="339.32" y="100.04" width="1.6" height="1.6"/><rect x="339.6" y="102.2" width="1.6" height="1.6"/><rect x="342.98" y="101.78" width="1.6" height="1.6"/></g>
<line x1="332.5" y1="101.25" x2="346.5" y2="101.25" stroke="#2f8f35" stroke-width="1.1"/>
<rect x="351" y="98" width="14" height="4.88" fill="#f7c8cc"/>
<line x1="358" y1="98" x2="358" y2="91.5" stroke="#b3102e" stroke-width="0.7"/>
<line x1="358" y1="102.88" x2="358" y2="104.17" stroke="#b3102e" stroke-width="0.7"/>
<g fill="#b3102e"><rect x="354.13" y="102.08" width="1.6" height="1.6"/><rect x="352.78" y="99.17" width="1.6" height="1.6"/><rect x="354.2" y="96.42" width="1.6" height="1.6"/><rect x="352.03" y="94.5" width="1.6" height="1.6"/><rect x="355.36" y="100.83" width="1.6" height="1.6"/><rect x="360" y="101.79" width="1.6" height="1.6"/><rect x="359.39" y="100.29" width="1.6" height="1.6"/><rect x="361.07" y="96.48" width="1.6" height="1.6"/><rect x="359.57" y="97.25" width="1.6" height="1.6"/><rect x="354.58" y="98.29" width="1.6" height="1.6"/><rect x="357.8" y="102.07" width="1.6" height="1.6"/><rect x="356.48" y="103.03" width="1.6" height="1.6"/><rect x="360.43" y="99.05" width="1.6" height="1.6"/><rect x="357.46" y="97.54" width="1.6" height="1.6"/><rect x="354.57" y="102.91" width="1.6" height="1.6"/><rect x="358.79" y="100.38" width="1.6" height="1.6"/><rect x="362.41" y="102.75" width="1.6" height="1.6"/><rect x="354.03" y="102.74" width="1.6" height="1.6"/><rect x="361.46" y="102.48" width="1.6" height="1.6"/><rect x="351.77" y="99.79" width="1.6" height="1.6"/><rect x="354.52" y="98.91" width="1.6" height="1.6"/><rect x="354.24" y="102.13" width="1.6" height="1.6"/><rect x="359.93" y="103.03" width="1.6" height="1.6"/><rect x="362.18" y="102.43" width="1.6" height="1.6"/><rect x="359.96" y="92.81" width="1.6" height="1.6"/><rect x="355.26" y="101.65" width="1.6" height="1.6"/><rect x="361.46" y="102.42" width="1.6" height="1.6"/><rect x="355.28" y="99.31" width="1.6" height="1.6"/><rect x="354.28" y="99.01" width="1.6" height="1.6"/><rect x="361.76" y="93.24" width="1.6" height="1.6"/><rect x="358.66" y="102.16" width="1.6" height="1.6"/><rect x="359.36" y="102.54" width="1.6" height="1.6"/><rect x="359.05" y="101.69" width="1.6" height="1.6"/><rect x="362.56" y="102.28" width="1.6" height="1.6"/><rect x="356.86" y="102.52" width="1.6" height="1.6"/><rect x="361" y="96.91" width="1.6" height="1.6"/><rect x="359.41" y="102.46" width="1.6" height="1.6"/><rect x="361.2" y="98.36" width="1.6" height="1.6"/><rect x="356.5" y="96.8" width="1.6" height="1.6"/><rect x="359.72" y="101.59" width="1.6" height="1.6"/><rect x="357.99" y="102.18" width="1.6" height="1.6"/><rect x="355.05" y="93.4" width="1.6" height="1.6"/><rect x="353.97" y="102.22" width="1.6" height="1.6"/><rect x="358.57" y="98.94" width="1.6" height="1.6"/><rect x="352.47" y="98.98" width="1.6" height="1.6"/><rect x="361.8" y="87.45" width="1.6" height="1.6"/><rect x="353.22" y="85.5" width="1.6" height="1.6"/><rect x="351.9" y="75.1" width="1.6" height="1.6"/><rect x="352.79" y="93.3" width="1.6" height="1.6"/><rect x="362" y="92" width="1.6" height="1.6"/></g>
<line x1="351" y1="101.25" x2="365" y2="101.25" stroke="#b3102e" stroke-width="1.1"/>
<rect x="369.6" y="93.45" width="14" height="8.12" fill="#c6d1eb"/>
<line x1="376.6" y1="93.45" x2="376.6" y2="79.8" stroke="#1a3669" stroke-width="0.7"/>
<line x1="376.6" y1="101.58" x2="376.6" y2="103.85" stroke="#1a3669" stroke-width="0.7"/>
<g fill="#1a3669"><rect x="377.23" y="100.27" width="1.6" height="1.6"/><rect x="374.18" y="102.8" width="1.6" height="1.6"/><rect x="374.69" y="94.32" width="1.6" height="1.6"/><rect x="374.62" y="93.85" width="1.6" height="1.6"/><rect x="380.17" y="101.48" width="1.6" height="1.6"/><rect x="371.17" y="97.85" width="1.6" height="1.6"/><rect x="380.15" y="81.3" width="1.6" height="1.6"/><rect x="370.48" y="100.99" width="1.6" height="1.6"/><rect x="372.51" y="80.2" width="1.6" height="1.6"/><rect x="373.15" y="102.3" width="1.6" height="1.6"/><rect x="380.29" y="102.83" width="1.6" height="1.6"/><rect x="375.81" y="82.87" width="1.6" height="1.6"/><rect x="374.45" y="93.45" width="1.6" height="1.6"/><rect x="380.1" y="95.89" width="1.6" height="1.6"/><rect x="372.82" y="102.6" width="1.6" height="1.6"/><rect x="375.36" y="91.57" width="1.6" height="1.6"/><rect x="376.15" y="99.26" width="1.6" height="1.6"/><rect x="378.65" y="102.17" width="1.6" height="1.6"/><rect x="378.63" y="98.22" width="1.6" height="1.6"/><rect x="377.44" y="99.63" width="1.6" height="1.6"/><rect x="374.1" y="88.09" width="1.6" height="1.6"/><rect x="373.86" y="86.33" width="1.6" height="1.6"/><rect x="371.94" y="101.83" width="1.6" height="1.6"/><rect x="379.64" y="98.01" width="1.6" height="1.6"/><rect x="377.62" y="98.26" width="1.6" height="1.6"/><rect x="378.51" y="96.21" width="1.6" height="1.6"/><rect x="372.1" y="92.36" width="1.6" height="1.6"/><rect x="375.11" y="91.85" width="1.6" height="1.6"/><rect x="378.86" y="102.31" width="1.6" height="1.6"/><rect x="376.69" y="79.48" width="1.6" height="1.6"/><rect x="371.61" y="101.67" width="1.6" height="1.6"/><rect x="375.37" y="97.93" width="1.6" height="1.6"/><rect x="380.11" y="101.66" width="1.6" height="1.6"/><rect x="372.86" y="97.8" width="1.6" height="1.6"/><rect x="372.35" y="97.4" width="1.6" height="1.6"/><rect x="373.58" y="100.01" width="1.6" height="1.6"/><rect x="378.08" y="94.93" width="1.6" height="1.6"/><rect x="379.65" y="101.39" width="1.6" height="1.6"/><rect x="371.93" y="101.12" width="1.6" height="1.6"/><rect x="371.95" y="93.62" width="1.6" height="1.6"/><rect x="372.97" y="84.2" width="1.6" height="1.6"/><rect x="373.86" y="82.9" width="1.6" height="1.6"/></g>
<line x1="369.6" y1="98" x2="383.6" y2="98" stroke="#1a3669" stroke-width="1.1"/>
<line x1="438.6" y1="37" x2="438.6" y2="108" stroke="#231f20" stroke-width="1.1"/>
<line x1="435.3" y1="104.5" x2="438.6" y2="104.5" stroke="#231f20" stroke-width="0.9"/>
<text x="433" y="106.6" font-size="6.4" text-anchor="end" fill="#222" stroke="#222" stroke-width="0.18">0</text>
<line x1="435.3" y1="88.2" x2="438.6" y2="88.2" stroke="#231f20" stroke-width="0.9"/>
<text x="433" y="90.3" font-size="6.4" text-anchor="end" fill="#222" stroke="#222" stroke-width="0.18">10</text>
<line x1="435.3" y1="71.9" x2="438.6" y2="71.9" stroke="#231f20" stroke-width="0.9"/>
<text x="433" y="74" font-size="6.4" text-anchor="end" fill="#222" stroke="#222" stroke-width="0.18">20</text>
<line x1="435.3" y1="55.6" x2="438.6" y2="55.6" stroke="#231f20" stroke-width="0.9"/>
<text x="433" y="57.7" font-size="6.4" text-anchor="end" fill="#222" stroke="#222" stroke-width="0.18">30</text>
<line x1="435.3" y1="39.3" x2="438.6" y2="39.3" stroke="#231f20" stroke-width="0.9"/>
<text x="433" y="41.4" font-size="6.4" text-anchor="end" fill="#222" stroke="#222" stroke-width="0.18">40</text>
<line x1="438.6" y1="108" x2="497.6" y2="108" stroke="#231f20" stroke-width="1.1"/>
<line x1="449.8" y1="108" x2="449.8" y2="110.5" stroke="#231f20" stroke-width="0.9"/>
<line x1="468.3" y1="108" x2="468.3" y2="110.5" stroke="#231f20" stroke-width="0.9"/>
<line x1="486.9" y1="108" x2="486.9" y2="110.5" stroke="#231f20" stroke-width="0.9"/>
<text x="452" y="116.5" font-size="6.2" text-anchor="end" fill="#2a2a2a" transform="rotate(-30 452 116.5)" stroke="#2a2a2a" stroke-width="0.18">Healthy</text>
<text x="470.5" y="116.5" font-size="6.2" text-anchor="end" fill="#2a2a2a" transform="rotate(-30 470.5 116.5)" stroke="#2a2a2a" stroke-width="0.18">HGBL-<tspan font-style="italic">MYC/BLC2</tspan></text>
<text x="489.1" y="116.5" font-size="6.2" text-anchor="end" fill="#2a2a2a" transform="rotate(-30 489.1 116.5)" stroke="#2a2a2a" stroke-width="0.18">DLBCL NOS</text>
<text x="468.3" y="16.7" font-size="8.6" text-anchor="middle" textLength="25.5" lengthAdjust="spacingAndGlyphs"><tspan font-family="Liberation Serif">γδ</tspan>-TCR</text>
<text x="467.1" y="26" font-size="6.1" text-anchor="end" stroke="#231f20" stroke-width="0.18"><tspan font-style="italic">P</tspan> = .88</text>
<text x="469.9" y="26" font-size="6.1" stroke="#231f20" stroke-width="0.18"><tspan font-style="italic">P</tspan> = .04</text>
<line x1="447.6" y1="27.6" x2="467.1" y2="27.6" stroke="#444" stroke-width="0.6"/>
<line x1="469.9" y1="27.6" x2="489.4" y2="27.6" stroke="#444" stroke-width="0.6"/>
<text x="467.85" y="33.6" font-size="6.1" text-anchor="middle" stroke="#231f20" stroke-width="0.18"><tspan font-style="italic">P</tspan> = .19</text>
<line x1="450.8" y1="35.3" x2="484.9" y2="35.3" stroke="#444" stroke-width="0.6"/>
<rect x="442.8" y="96.35" width="14" height="4.89" fill="#d0eec6"/>
<line x1="449.8" y1="96.35" x2="449.8" y2="89.83" stroke="#2f8f35" stroke-width="0.7"/>
<line x1="449.8" y1="101.24" x2="449.8" y2="102.87" stroke="#2f8f35" stroke-width="0.7"/>
<g fill="#2f8f35"><rect x="450.48" y="97.6" width="1.6" height="1.6"/><rect x="448.59" y="99.98" width="1.6" height="1.6"/><rect x="444.99" y="91.62" width="1.6" height="1.6"/><rect x="450.16" y="100.48" width="1.6" height="1.6"/><rect x="447.93" y="101.24" width="1.6" height="1.6"/><rect x="451.7" y="91.03" width="1.6" height="1.6"/><rect x="453.57" y="96.93" width="1.6" height="1.6"/><rect x="448.22" y="100.88" width="1.6" height="1.6"/><rect x="449.83" y="101.53" width="1.6" height="1.6"/><rect x="451.79" y="100.36" width="1.6" height="1.6"/><rect x="448.12" y="98.51" width="1.6" height="1.6"/><rect x="445.96" y="96.77" width="1.6" height="1.6"/></g>
<line x1="442.8" y1="98.8" x2="456.8" y2="98.8" stroke="#2f8f35" stroke-width="1.1"/>
<rect x="461.3" y="96.35" width="14" height="5.71" fill="#f7c8cc"/>
<line x1="468.3" y1="96.35" x2="468.3" y2="88.2" stroke="#b3102e" stroke-width="0.7"/>
<line x1="468.3" y1="102.06" x2="468.3" y2="104.01" stroke="#b3102e" stroke-width="0.7"/>
<g fill="#b3102e"><rect x="466.67" y="95.94" width="1.6" height="1.6"/><rect x="463.98" y="90.94" width="1.6" height="1.6"/><rect x="461.93" y="91.16" width="1.6" height="1.6"/><rect x="469.98" y="97.33" width="1.6" height="1.6"/><rect x="465.05" y="99.72" width="1.6" height="1.6"/><rect x="464.64" y="102.15" width="1.6" height="1.6"/><rect x="465.28" y="90.8" width="1.6" height="1.6"/><rect x="467.27" y="97.99" width="1.6" height="1.6"/><rect x="466.7" y="100.14" width="1.6" height="1.6"/><rect x="469.04" y="97.48" width="1.6" height="1.6"/><rect x="469.28" y="95.78" width="1.6" height="1.6"/><rect x="465.96" y="101.76" width="1.6" height="1.6"/><rect x="472.3" y="93.75" width="1.6" height="1.6"/><rect x="471.47" y="98.87" width="1.6" height="1.6"/><rect x="462.54" y="101.93" width="1.6" height="1.6"/><rect x="471.17" y="101.56" width="1.6" height="1.6"/><rect x="472.05" y="92.69" width="1.6" height="1.6"/><rect x="470.68" y="101.88" width="1.6" height="1.6"/><rect x="463.47" y="96.47" width="1.6" height="1.6"/><rect x="471.21" y="96.73" width="1.6" height="1.6"/><rect x="468.99" y="92.67" width="1.6" height="1.6"/><rect x="462.07" y="98.94" width="1.6" height="1.6"/><rect x="462.03" y="101.71" width="1.6" height="1.6"/><rect x="472.56" y="99.39" width="1.6" height="1.6"/><rect x="469.25" y="101.28" width="1.6" height="1.6"/><rect x="464.7" y="101.12" width="1.6" height="1.6"/><rect x="463.04" y="100.28" width="1.6" height="1.6"/><rect x="463.5" y="102.15" width="1.6" height="1.6"/><rect x="464.52" y="99.55" width="1.6" height="1.6"/><rect x="470.59" y="100.61" width="1.6" height="1.6"/><rect x="465.78" y="101.62" width="1.6" height="1.6"/><rect x="463.61" y="92.62" width="1.6" height="1.6"/><rect x="472.03" y="101.54" width="1.6" height="1.6"/><rect x="470.77" y="100.74" width="1.6" height="1.6"/><rect x="463.78" y="101.57" width="1.6" height="1.6"/><rect x="471.88" y="91.62" width="1.6" height="1.6"/><rect x="468.71" y="99.88" width="1.6" height="1.6"/><rect x="470.65" y="101.3" width="1.6" height="1.6"/><rect x="469.39" y="99.69" width="1.6" height="1.6"/><rect x="471.91" y="89.66" width="1.6" height="1.6"/><rect x="470.73" y="100.54" width="1.6" height="1.6"/><rect x="471.29" y="98.4" width="1.6" height="1.6"/><rect x="464.11" y="94" width="1.6" height="1.6"/><rect x="469.66" y="94.56" width="1.6" height="1.6"/><rect x="467.84" y="100.64" width="1.6" height="1.6"/><rect x="470.21" y="84.14" width="1.6" height="1.6"/><rect x="466.81" y="82.51" width="1.6" height="1.6"/><rect x="471.79" y="80.88" width="1.6" height="1.6"/><rect x="468.12" y="77.62" width="1.6" height="1.6"/><rect x="464.86" y="74.36" width="1.6" height="1.6"/><rect x="464.52" y="56.43" width="1.6" height="1.6"/></g>
<line x1="461.3" y1="99.61" x2="475.3" y2="99.61" stroke="#b3102e" stroke-width="1.1"/>
<rect x="479.9" y="89.02" width="14" height="10.59" fill="#c6d1eb"/>
<line x1="486.9" y1="89.02" x2="486.9" y2="71.9" stroke="#1a3669" stroke-width="0.7"/>
<line x1="486.9" y1="99.61" x2="486.9" y2="103.69" stroke="#1a3669" stroke-width="0.7"/>
<g fill="#1a3669"><rect x="485.63" y="100.4" width="1.6" height="1.6"/><rect x="489.04" y="100.49" width="1.6" height="1.6"/><rect x="481.64" y="100.41" width="1.6" height="1.6"/><rect x="482.53" y="97.05" width="1.6" height="1.6"/><rect x="480.91" y="88.21" width="1.6" height="1.6"/><rect x="489.17" y="83.14" width="1.6" height="1.6"/><rect x="490.74" y="90.67" width="1.6" height="1.6"/><rect x="487.84" y="84.65" width="1.6" height="1.6"/><rect x="484.63" y="95.68" width="1.6" height="1.6"/><rect x="489.71" y="99.91" width="1.6" height="1.6"/><rect x="489.31" y="95.34" width="1.6" height="1.6"/><rect x="486.8" y="90.54" width="1.6" height="1.6"/><rect x="483.39" y="85.3" width="1.6" height="1.6"/><rect x="483.88" y="82.38" width="1.6" height="1.6"/><rect x="485.22" y="95.88" width="1.6" height="1.6"/><rect x="484.07" y="99.65" width="1.6" height="1.6"/><rect x="485.32" y="93.07" width="1.6" height="1.6"/><rect x="487.69" y="84.79" width="1.6" height="1.6"/><rect x="490.96" y="97.1" width="1.6" height="1.6"/><rect x="481.11" y="86.8" width="1.6" height="1.6"/><rect x="486.86" y="97.43" width="1.6" height="1.6"/><rect x="480.94" y="89.49" width="1.6" height="1.6"/><rect x="481.83" y="96.11" width="1.6" height="1.6"/><rect x="489.58" y="97.17" width="1.6" height="1.6"/><rect x="486.94" y="97.16" width="1.6" height="1.6"/><rect x="490.79" y="79.53" width="1.6" height="1.6"/><rect x="485.5" y="85.3" width="1.6" height="1.6"/><rect x="480.66" y="97.83" width="1.6" height="1.6"/><rect x="484.84" y="90.89" width="1.6" height="1.6"/><rect x="487.13" y="88.12" width="1.6" height="1.6"/><rect x="491" y="89.05" width="1.6" height="1.6"/><rect x="491.48" y="95.19" width="1.6" height="1.6"/><rect x="485.83" y="98.79" width="1.6" height="1.6"/><rect x="485.12" y="99.04" width="1.6" height="1.6"/><rect x="481.64" y="90.72" width="1.6" height="1.6"/><rect x="487.72" y="73.5" width="1.6" height="1.6"/><rect x="482.88" y="91.03" width="1.6" height="1.6"/><rect x="482.2" y="90.44" width="1.6" height="1.6"/><rect x="480.67" y="90.56" width="1.6" height="1.6"/><rect x="480.55" y="99.82" width="1.6" height="1.6"/><rect x="488.16" y="69.47" width="1.6" height="1.6"/><rect x="481.86" y="67.84" width="1.6" height="1.6"/><rect x="491.32" y="62.95" width="1.6" height="1.6"/><rect x="481.49" y="55.62" width="1.6" height="1.6"/><rect x="490.24" y="46.65" width="1.6" height="1.6"/></g>
<line x1="479.9" y1="96.35" x2="493.9" y2="96.35" stroke="#1a3669" stroke-width="1.1"/>
<line x1="45.3" y1="193" x2="45.3" y2="263.3" stroke="#231f20" stroke-width="1.1"/>
<line x1="42" y1="261" x2="45.3" y2="261" stroke="#231f20" stroke-width="0.9"/>
<text x="39.7" y="263.1" font-size="6.4" text-anchor="end" fill="#222" stroke="#222" stroke-width="0.18">0</text>
<line x1="42" y1="244.75" x2="45.3" y2="244.75" stroke="#231f20" stroke-width="0.9"/>
<text x="39.7" y="246.85" font-size="6.4" text-anchor="end" fill="#222" stroke="#222" stroke-width="0.18">20</text>
<line x1="42" y1="228.5" x2="45.3" y2="228.5" stroke="#231f20" stroke-width="0.9"/>
<text x="39.7" y="230.6" font-size="6.4" text-anchor="end" fill="#222" stroke="#222" stroke-width="0.18">40</text>
<line x1="42" y1="212.25" x2="45.3" y2="212.25" stroke="#231f20" stroke-width="0.9"/>
<text x="39.7" y="214.35" font-size="6.4" text-anchor="end" fill="#222" stroke="#222" stroke-width="0.18">60</text>
<line x1="42" y1="196" x2="45.3" y2="196" stroke="#231f20" stroke-width="0.9"/>
<text x="39.7" y="198.1" font-size="6.4" text-anchor="end" fill="#222" stroke="#222" stroke-width="0.18">80</text>
<line x1="45.3" y1="263.3" x2="164" y2="263.3" stroke="#231f20" stroke-width="1.1"/>
<line x1="57" y1="263.3" x2="57" y2="265.8" stroke="#231f20" stroke-width="0.9"/>
<line x1="75" y1="263.3" x2="75" y2="265.8" stroke="#231f20" stroke-width="0.9"/>
<line x1="93.3" y1="263.3" x2="93.3" y2="265.8" stroke="#231f20" stroke-width="0.9"/>
<line x1="116.3" y1="263.3" x2="116.3" y2="265.8" stroke="#231f20" stroke-width="0.9"/>
<line x1="135" y1="263.3" x2="135" y2="265.8" stroke="#231f20" stroke-width="0.9"/>
<line x1="153.3" y1="263.3" x2="153.3" y2="265.8" stroke="#231f20" stroke-width="0.9"/>
<line x1="105.5" y1="193.5" x2="105.5" y2="263.3" stroke="#6e6e6e" stroke-width="0.6" stroke-dasharray="0.7 0.9"/>
<text x="59.2" y="271.8" font-size="6.2" text-anchor="end" fill="#2a2a2a" transform="rotate(-30 59.2 271.8)" stroke="#2a2a2a" stroke-width="0.18">Healthy</text>
<text x="77.2" y="271.8" font-size="6.2" text-anchor="end" fill="#2a2a2a" transform="rotate(-30 77.2 271.8)" stroke="#2a2a2a" stroke-width="0.18">HGBL-<tspan font-style="italic">MYC/BLC2</tspan></text>
<text x="95.5" y="271.8" font-size="6.2" text-anchor="end" fill="#2a2a2a" transform="rotate(-30 95.5 271.8)" stroke="#2a2a2a" stroke-width="0.18">DLBCL NOS</text>
<text x="118.5" y="271.8" font-size="6.2" text-anchor="end" fill="#2a2a2a" transform="rotate(-30 118.5 271.8)" stroke="#2a2a2a" stroke-width="0.18">Healthy</text>
<text x="137.2" y="271.8" font-size="6.2" text-anchor="end" fill="#2a2a2a" transform="rotate(-30 137.2 271.8)" stroke="#2a2a2a" stroke-width="0.18">HGBL-<tspan font-style="italic">MYC/BLC2</tspan></text>
<text x="155.5" y="271.8" font-size="6.2" text-anchor="end" fill="#2a2a2a" transform="rotate(-30 155.5 271.8)" stroke="#2a2a2a" stroke-width="0.18">DLBCL NOS</text>
<text x="23.5" y="228.5" font-size="8.2" text-anchor="middle" fill="#111" transform="rotate(-90 23.5 228.5)" textLength="52" lengthAdjust="spacingAndGlyphs" stroke="#111" stroke-width="0.2">Percentage of T-cells</text>
<text x="102.5" y="170" font-size="7.9" text-anchor="middle">CD127<tspan baseline-shift="super" font-size="70%">+</tspan> T-cells</text>
<line x1="45" y1="173.8" x2="162.5" y2="173.8" stroke="#6a6a6a" stroke-width="1.1"/>
<text x="75" y="182" font-size="8.6" text-anchor="middle">CD4<tspan baseline-shift="super" font-size="70%">+</tspan></text>
<text x="135" y="182" font-size="8.6" text-anchor="middle">CD8<tspan baseline-shift="super" font-size="70%">+</tspan></text>
<text x="75.3" y="191.6" font-size="6.1" text-anchor="end" stroke="#231f20" stroke-width="0.18"><tspan font-style="italic">P</tspan> = .0008</text>
<text x="78.1" y="191.6" font-size="6.1" stroke="#231f20" stroke-width="0.18"><tspan font-style="italic">P</tspan> = .07</text>
<line x1="49.02" y1="193.2" x2="75.3" y2="193.2" stroke="#444" stroke-width="0.6"/>
<line x1="78.1" y1="193.2" x2="97.6" y2="193.2" stroke="#444" stroke-width="0.6"/>
<text x="74.65" y="199.2" font-size="6.1" text-anchor="middle" stroke="#231f20" stroke-width="0.18"><tspan font-style="italic">P</tspan> = .08</text>
<line x1="58" y1="200.9" x2="91.3" y2="200.9" stroke="#444" stroke-width="0.6"/>
<text x="133.8" y="191.6" font-size="6.1" text-anchor="end" stroke="#231f20" stroke-width="0.18"><tspan font-style="italic">P</tspan> = .54</text>
<text x="136.6" y="191.6" font-size="6.1" stroke="#231f20" stroke-width="0.18"><tspan font-style="italic">P</tspan> = .03</text>
<line x1="114.3" y1="193.2" x2="133.8" y2="193.2" stroke="#444" stroke-width="0.6"/>
<line x1="136.6" y1="193.2" x2="156.1" y2="193.2" stroke="#444" stroke-width="0.6"/>
<text x="134.3" y="199.2" font-size="6.1" text-anchor="middle" stroke="#231f20" stroke-width="0.18"><tspan font-style="italic">P</tspan> = .27</text>
<line x1="117.3" y1="200.9" x2="151.3" y2="200.9" stroke="#444" stroke-width="0.6"/>
<rect x="50" y="238.01" width="14" height="12.43" fill="#d0eec6"/>
<g fill="#2f8f35"><rect x="55.51" y="250.4" width="1.6" height="1.6"/><rect x="58.18" y="242.93" width="1.6" height="1.6"/><rect x="52.22" y="243.35" width="1.6" height="1.6"/><rect x="59.53" y="249.77" width="1.6" height="1.6"/><rect x="54.67" y="238.3" width="1.6" height="1.6"/><rect x="57.82" y="244.13" width="1.6" height="1.6"/><rect x="57.65" y="239.4" width="1.6" height="1.6"/><rect x="55.28" y="245.09" width="1.6" height="1.6"/><rect x="54.92" y="244.94" width="1.6" height="1.6"/><rect x="59.41" y="244.68" width="1.6" height="1.6"/><rect x="61.18" y="249.85" width="1.6" height="1.6"/><rect x="59.39" y="237.11" width="1.6" height="1.6"/><rect x="56.95" y="246.08" width="1.6" height="1.6"/><rect x="53.87" y="249.72" width="1.6" height="1.6"/><rect x="51.28" y="249.35" width="1.6" height="1.6"/><rect x="61.51" y="246.83" width="1.6" height="1.6"/></g>
<line x1="50" y1="245.56" x2="64" y2="245.56" stroke="#2f8f35" stroke-width="1.1"/>
<rect x="68" y="226.22" width="14" height="14.46" fill="#f7c8cc"/>
<line x1="75" y1="226.22" x2="75" y2="209.81" stroke="#b3102e" stroke-width="0.7"/>
<line x1="75" y1="240.69" x2="75" y2="253.69" stroke="#b3102e" stroke-width="0.7"/>
<g fill="#b3102e"><rect x="71.08" y="226.59" width="1.6" height="1.6"/><rect x="69.03" y="235.21" width="1.6" height="1.6"/><rect x="71.47" y="213.21" width="1.6" height="1.6"/><rect x="72.54" y="230.09" width="1.6" height="1.6"/><rect x="78.71" y="233.03" width="1.6" height="1.6"/><rect x="78.73" y="234.6" width="1.6" height="1.6"/><rect x="77.98" y="226.13" width="1.6" height="1.6"/><rect x="69.13" y="223.24" width="1.6" height="1.6"/><rect x="77.41" y="247.78" width="1.6" height="1.6"/><rect x="76.55" y="235.36" width="1.6" height="1.6"/><rect x="75.84" y="211.87" width="1.6" height="1.6"/><rect x="79.64" y="241.45" width="1.6" height="1.6"/><rect x="69.22" y="212.36" width="1.6" height="1.6"/><rect x="70.22" y="230.32" width="1.6" height="1.6"/><rect x="77.06" y="213.78" width="1.6" height="1.6"/><rect x="79.12" y="226.01" width="1.6" height="1.6"/><rect x="76.18" y="239.23" width="1.6" height="1.6"/><rect x="71.95" y="226.79" width="1.6" height="1.6"/><rect x="75.22" y="242.26" width="1.6" height="1.6"/><rect x="77.09" y="223.82" width="1.6" height="1.6"/><rect x="69.78" y="227.6" width="1.6" height="1.6"/><rect x="72.23" y="238.29" width="1.6" height="1.6"/><rect x="71.48" y="234.09" width="1.6" height="1.6"/><rect x="69.99" y="220.69" width="1.6" height="1.6"/><rect x="73.99" y="241.7" width="1.6" height="1.6"/><rect x="70.49" y="223.83" width="1.6" height="1.6"/><rect x="71.27" y="226.12" width="1.6" height="1.6"/><rect x="70.2" y="219.63" width="1.6" height="1.6"/><rect x="76.19" y="235.34" width="1.6" height="1.6"/><rect x="68.74" y="248.79" width="1.6" height="1.6"/><rect x="76.63" y="242.75" width="1.6" height="1.6"/><rect x="70.79" y="235.53" width="1.6" height="1.6"/><rect x="69" y="235.9" width="1.6" height="1.6"/><rect x="78.99" y="251.41" width="1.6" height="1.6"/><rect x="71.07" y="222.02" width="1.6" height="1.6"/><rect x="79.06" y="243.45" width="1.6" height="1.6"/><rect x="78.31" y="224.58" width="1.6" height="1.6"/><rect x="78.55" y="229.84" width="1.6" height="1.6"/><rect x="70.17" y="232.03" width="1.6" height="1.6"/><rect x="73.61" y="239.97" width="1.6" height="1.6"/><rect x="69.69" y="220.25" width="1.6" height="1.6"/><rect x="79" y="230.4" width="1.6" height="1.6"/><rect x="78.03" y="221.24" width="1.6" height="1.6"/><rect x="75.64" y="214.68" width="1.6" height="1.6"/><rect x="73.67" y="209.96" width="1.6" height="1.6"/><rect x="72.41" y="239.6" width="1.6" height="1.6"/><rect x="77.82" y="248.96" width="1.6" height="1.6"/><rect x="73.95" y="251.27" width="1.6" height="1.6"/><rect x="75.64" y="226.3" width="1.6" height="1.6"/><rect x="70.2" y="232.58" width="1.6" height="1.6"/><rect x="71.08" y="225.22" width="1.6" height="1.6"/><rect x="69.24" y="229.49" width="1.6" height="1.6"/><rect x="76.59" y="240.26" width="1.6" height="1.6"/><rect x="74.8" y="235.53" width="1.6" height="1.6"/><rect x="70.22" y="225.72" width="1.6" height="1.6"/><rect x="78.35" y="229.52" width="1.6" height="1.6"/><rect x="71.58" y="238.65" width="1.6" height="1.6"/><rect x="73.21" y="209.23" width="1.6" height="1.6"/></g>
<line x1="68" y1="232.97" x2="82" y2="232.97" stroke="#b3102e" stroke-width="1.1"/>
<rect x="86.3" y="232.97" width="14" height="13.41" fill="#c6d1eb"/>
<line x1="93.3" y1="232.97" x2="93.3" y2="214.69" stroke="#1a3669" stroke-width="0.7"/>
<line x1="93.3" y1="246.38" x2="93.3" y2="257.75" stroke="#1a3669" stroke-width="0.7"/>
<g fill="#1a3669"><rect x="93.36" y="252.39" width="1.6" height="1.6"/><rect x="92.76" y="229" width="1.6" height="1.6"/><rect x="94.77" y="250.04" width="1.6" height="1.6"/><rect x="88.05" y="239.34" width="1.6" height="1.6"/><rect x="96.64" y="245.75" width="1.6" height="1.6"/><rect x="94.93" y="246.42" width="1.6" height="1.6"/><rect x="87.41" y="237.3" width="1.6" height="1.6"/><rect x="88.28" y="243.6" width="1.6" height="1.6"/><rect x="92.43" y="244.18" width="1.6" height="1.6"/><rect x="92.51" y="238.73" width="1.6" height="1.6"/><rect x="90.03" y="216.03" width="1.6" height="1.6"/><rect x="88.27" y="252.17" width="1.6" height="1.6"/><rect x="91.44" y="231.98" width="1.6" height="1.6"/><rect x="88.43" y="236.76" width="1.6" height="1.6"/><rect x="93.53" y="232.14" width="1.6" height="1.6"/><rect x="96.54" y="228.9" width="1.6" height="1.6"/><rect x="88.55" y="256.81" width="1.6" height="1.6"/><rect x="93.32" y="225.62" width="1.6" height="1.6"/><rect x="95.26" y="250.6" width="1.6" height="1.6"/><rect x="88.74" y="230.57" width="1.6" height="1.6"/><rect x="96.15" y="237.77" width="1.6" height="1.6"/><rect x="97.4" y="247.47" width="1.6" height="1.6"/><rect x="91.25" y="237.39" width="1.6" height="1.6"/><rect x="91.61" y="254.88" width="1.6" height="1.6"/><rect x="96.3" y="235.45" width="1.6" height="1.6"/><rect x="92.79" y="244.15" width="1.6" height="1.6"/><rect x="91.33" y="234.07" width="1.6" height="1.6"/><rect x="97.44" y="224.46" width="1.6" height="1.6"/><rect x="95.6" y="255.26" width="1.6" height="1.6"/><rect x="90.69" y="236.02" width="1.6" height="1.6"/><rect x="89.59" y="238.31" width="1.6" height="1.6"/><rect x="90.65" y="228.99" width="1.6" height="1.6"/><rect x="91.78" y="217.69" width="1.6" height="1.6"/><rect x="97.89" y="245.47" width="1.6" height="1.6"/><rect x="95.91" y="226.58" width="1.6" height="1.6"/><rect x="97.12" y="229.97" width="1.6" height="1.6"/><rect x="96.03" y="246.95" width="1.6" height="1.6"/><rect x="96.39" y="244.45" width="1.6" height="1.6"/><rect x="87.5" y="241.47" width="1.6" height="1.6"/><rect x="92.69" y="249.75" width="1.6" height="1.6"/><rect x="97.63" y="242.01" width="1.6" height="1.6"/><rect x="97.36" y="247.96" width="1.6" height="1.6"/><rect x="89.69" y="217.66" width="1.6" height="1.6"/><rect x="91.63" y="240.66" width="1.6" height="1.6"/><rect x="93.99" y="240.39" width="1.6" height="1.6"/><rect x="90.98" y="246.61" width="1.6" height="1.6"/><rect x="92.84" y="226.24" width="1.6" height="1.6"/><rect x="87.68" y="235.22" width="1.6" height="1.6"/><rect x="91.75" y="238.53" width="1.6" height="1.6"/><rect x="92.55" y="230.5" width="1.6" height="1.6"/><rect x="87.13" y="254.64" width="1.6" height="1.6"/><rect x="88.46" y="239.93" width="1.6" height="1.6"/><rect x="97.76" y="254.74" width="1.6" height="1.6"/><rect x="95.6" y="237.4" width="1.6" height="1.6"/><rect x="97.39" y="249" width="1.6" height="1.6"/><rect x="93.99" y="211.45" width="1.6" height="1.6"/><rect x="95.96" y="207.39" width="1.6" height="1.6"/></g>
<line x1="86.3" y1="239.47" x2="100.3" y2="239.47" stroke="#1a3669" stroke-width="1.1"/>
<rect x="109.3" y="232.56" width="14" height="11.38" fill="#d0eec6"/>
<line x1="116.3" y1="232.56" x2="116.3" y2="223.62" stroke="#2f8f35" stroke-width="0.7"/>
<line x1="116.3" y1="243.94" x2="116.3" y2="251.25" stroke="#2f8f35" stroke-width="0.7"/>
<g fill="#2f8f35"><rect x="116.02" y="224.42" width="1.6" height="1.6"/><rect x="119.31" y="245.09" width="1.6" height="1.6"/><rect x="116.73" y="238.45" width="1.6" height="1.6"/><rect x="116.29" y="239.39" width="1.6" height="1.6"/><rect x="117.18" y="227.59" width="1.6" height="1.6"/><rect x="112.15" y="239.54" width="1.6" height="1.6"/><rect x="117.86" y="236.57" width="1.6" height="1.6"/><rect x="115.06" y="241.03" width="1.6" height="1.6"/><rect x="116.04" y="235.69" width="1.6" height="1.6"/><rect x="116.76" y="231.96" width="1.6" height="1.6"/><rect x="115.15" y="235.03" width="1.6" height="1.6"/><rect x="113.38" y="239.45" width="1.6" height="1.6"/><rect x="112.61" y="248.75" width="1.6" height="1.6"/><rect x="112.38" y="247.35" width="1.6" height="1.6"/><rect x="115.64" y="241.15" width="1.6" height="1.6"/><rect x="114.19" y="249.12" width="1.6" height="1.6"/></g>
<line x1="109.3" y1="237.03" x2="123.3" y2="237.03" stroke="#2f8f35" stroke-width="1.1"/>
<rect x="128" y="224.44" width="14" height="19.5" fill="#f7c8cc"/>
<line x1="135" y1="224.44" x2="135" y2="205.75" stroke="#b3102e" stroke-width="0.7"/>
<line x1="135" y1="243.94" x2="135" y2="256.12" stroke="#b3102e" stroke-width="0.7"/>
<g fill="#b3102e"><rect x="136.33" y="236.08" width="1.6" height="1.6"/><rect x="137.79" y="237.19" width="1.6" height="1.6"/><rect x="139.69" y="247.24" width="1.6" height="1.6"/><rect x="138.55" y="241.17" width="1.6" height="1.6"/><rect x="133.31" y="220.98" width="1.6" height="1.6"/><rect x="130.35" y="222.66" width="1.6" height="1.6"/><rect x="131.85" y="244.26" width="1.6" height="1.6"/><rect x="134.33" y="242.71" width="1.6" height="1.6"/><rect x="134.25" y="240.1" width="1.6" height="1.6"/><rect x="130.71" y="234.86" width="1.6" height="1.6"/><rect x="130.64" y="243.49" width="1.6" height="1.6"/><rect x="135.66" y="234.29" width="1.6" height="1.6"/><rect x="135.36" y="240.7" width="1.6" height="1.6"/><rect x="132.56" y="228.47" width="1.6" height="1.6"/><rect x="139.73" y="210" width="1.6" height="1.6"/><rect x="135.73" y="226.93" width="1.6" height="1.6"/><rect x="129.07" y="226.66" width="1.6" height="1.6"/><rect x="133.21" y="237.72" width="1.6" height="1.6"/><rect x="137.42" y="224.71" width="1.6" height="1.6"/><rect x="132.04" y="244.26" width="1.6" height="1.6"/><rect x="136.34" y="245.22" width="1.6" height="1.6"/><rect x="128.64" y="229.96" width="1.6" height="1.6"/><rect x="132.01" y="215.99" width="1.6" height="1.6"/><rect x="138.03" y="237.73" width="1.6" height="1.6"/><rect x="135.17" y="215.22" width="1.6" height="1.6"/><rect x="136.08" y="240.01" width="1.6" height="1.6"/><rect x="130.8" y="238.14" width="1.6" height="1.6"/><rect x="134.18" y="240.44" width="1.6" height="1.6"/><rect x="134.8" y="231.39" width="1.6" height="1.6"/><rect x="131.58" y="237.7" width="1.6" height="1.6"/><rect x="135.84" y="217.48" width="1.6" height="1.6"/><rect x="134.55" y="241.87" width="1.6" height="1.6"/><rect x="139.77" y="242.14" width="1.6" height="1.6"/><rect x="135.03" y="228.91" width="1.6" height="1.6"/><rect x="133.2" y="243.83" width="1.6" height="1.6"/><rect x="129.96" y="237.31" width="1.6" height="1.6"/><rect x="130.36" y="206.17" width="1.6" height="1.6"/><rect x="137.11" y="248.61" width="1.6" height="1.6"/><rect x="129.79" y="223.62" width="1.6" height="1.6"/><rect x="129.72" y="247.15" width="1.6" height="1.6"/><rect x="130.51" y="236.78" width="1.6" height="1.6"/><rect x="134.45" y="216.7" width="1.6" height="1.6"/><rect x="137.82" y="217.13" width="1.6" height="1.6"/><rect x="135.47" y="227.6" width="1.6" height="1.6"/><rect x="137.63" y="240.67" width="1.6" height="1.6"/><rect x="129.3" y="231.81" width="1.6" height="1.6"/><rect x="128.74" y="213.64" width="1.6" height="1.6"/><rect x="137.23" y="234.98" width="1.6" height="1.6"/><rect x="132.22" y="240.37" width="1.6" height="1.6"/><rect x="136.61" y="229" width="1.6" height="1.6"/><rect x="132.56" y="206" width="1.6" height="1.6"/><rect x="130.5" y="240.1" width="1.6" height="1.6"/><rect x="131.59" y="223.69" width="1.6" height="1.6"/><rect x="129.71" y="239.48" width="1.6" height="1.6"/><rect x="138.72" y="222.53" width="1.6" height="1.6"/><rect x="135.12" y="236.38" width="1.6" height="1.6"/><rect x="132.51" y="217.22" width="1.6" height="1.6"/><rect x="133.64" y="244.05" width="1.6" height="1.6"/><rect x="132.92" y="203.32" width="1.6" height="1.6"/></g>
<line x1="128" y1="237.03" x2="142" y2="237.03" stroke="#b3102e" stroke-width="1.1"/>
<rect x="146.3" y="232.97" width="14" height="15.84" fill="#c6d1eb"/>
<line x1="153.3" y1="232.97" x2="153.3" y2="217.94" stroke="#1a3669" stroke-width="0.7"/>
<line x1="153.3" y1="248.81" x2="153.3" y2="254.91" stroke="#1a3669" stroke-width="0.7"/>
<g fill="#1a3669"><rect x="147.23" y="248.49" width="1.6" height="1.6"/><rect x="154.51" y="232.51" width="1.6" height="1.6"/><rect x="154.33" y="243.48" width="1.6" height="1.6"/><rect x="150.84" y="253.42" width="1.6" height="1.6"/><rect x="151.52" y="220.48" width="1.6" height="1.6"/><rect x="154.28" y="241.44" width="1.6" height="1.6"/><rect x="154.73" y="229.94" width="1.6" height="1.6"/><rect x="149.68" y="232.51" width="1.6" height="1.6"/><rect x="156.38" y="241.07" width="1.6" height="1.6"/><rect x="150.84" y="250.96" width="1.6" height="1.6"/><rect x="153.94" y="238.81" width="1.6" height="1.6"/><rect x="148.93" y="241.61" width="1.6" height="1.6"/><rect x="148.19" y="242.22" width="1.6" height="1.6"/><rect x="157.12" y="252.32" width="1.6" height="1.6"/><rect x="155.12" y="246.65" width="1.6" height="1.6"/><rect x="154.88" y="230.09" width="1.6" height="1.6"/><rect x="147.35" y="239.72" width="1.6" height="1.6"/><rect x="147.35" y="237.41" width="1.6" height="1.6"/><rect x="148.71" y="247.53" width="1.6" height="1.6"/><rect x="149.12" y="248.78" width="1.6" height="1.6"/><rect x="150.29" y="246.22" width="1.6" height="1.6"/><rect x="151.16" y="251.58" width="1.6" height="1.6"/><rect x="147.34" y="253.52" width="1.6" height="1.6"/><rect x="150.38" y="237.79" width="1.6" height="1.6"/><rect x="154.05" y="249.33" width="1.6" height="1.6"/><rect x="148.91" y="251.67" width="1.6" height="1.6"/><rect x="156.3" y="231.61" width="1.6" height="1.6"/><rect x="153.29" y="241.9" width="1.6" height="1.6"/><rect x="154.93" y="231.37" width="1.6" height="1.6"/><rect x="149.75" y="242.73" width="1.6" height="1.6"/><rect x="151.77" y="241" width="1.6" height="1.6"/><rect x="154.56" y="248.22" width="1.6" height="1.6"/><rect x="150.81" y="238.76" width="1.6" height="1.6"/><rect x="146.91" y="247.05" width="1.6" height="1.6"/><rect x="156.24" y="238.48" width="1.6" height="1.6"/><rect x="155.6" y="225.75" width="1.6" height="1.6"/><rect x="150.11" y="246.21" width="1.6" height="1.6"/><rect x="147.38" y="238.89" width="1.6" height="1.6"/><rect x="156.47" y="231.64" width="1.6" height="1.6"/><rect x="153.7" y="236.07" width="1.6" height="1.6"/><rect x="147.43" y="242.37" width="1.6" height="1.6"/><rect x="149.64" y="243.2" width="1.6" height="1.6"/><rect x="148.15" y="238.05" width="1.6" height="1.6"/><rect x="155.76" y="247.38" width="1.6" height="1.6"/><rect x="149.25" y="248.66" width="1.6" height="1.6"/><rect x="157.14" y="243.17" width="1.6" height="1.6"/><rect x="155.29" y="250.04" width="1.6" height="1.6"/><rect x="147.86" y="244.35" width="1.6" height="1.6"/><rect x="154.68" y="247.53" width="1.6" height="1.6"/><rect x="151.31" y="246.36" width="1.6" height="1.6"/><rect x="155.27" y="249.28" width="1.6" height="1.6"/><rect x="156.18" y="245.06" width="1.6" height="1.6"/><rect x="150.05" y="222.17" width="1.6" height="1.6"/><rect x="147.91" y="220.33" width="1.6" height="1.6"/><rect x="157.5" y="251.63" width="1.6" height="1.6"/></g>
<line x1="146.3" y1="241.5" x2="160.3" y2="241.5" stroke="#1a3669" stroke-width="1.1"/>
<line x1="260.5" y1="193" x2="260.5" y2="264.2" stroke="#231f20" stroke-width="1.1"/>
<line x1="257.2" y1="260.7" x2="260.5" y2="260.7" stroke="#231f20" stroke-width="0.9"/>
<text x="254.9" y="262.8" font-size="6.4" text-anchor="end" fill="#222" stroke="#222" stroke-width="0.18">0</text>
<line x1="257.2" y1="239.2" x2="260.5" y2="239.2" stroke="#231f20" stroke-width="0.9"/>
<text x="254.9" y="241.3" font-size="6.4" text-anchor="end" fill="#222" stroke="#222" stroke-width="0.18">10</text>
<line x1="257.2" y1="217.7" x2="260.5" y2="217.7" stroke="#231f20" stroke-width="0.9"/>
<text x="254.9" y="219.8" font-size="6.4" text-anchor="end" fill="#222" stroke="#222" stroke-width="0.18">20</text>
<line x1="257.2" y1="196.2" x2="260.5" y2="196.2" stroke="#231f20" stroke-width="0.9"/>
<text x="254.9" y="198.3" font-size="6.4" text-anchor="end" fill="#222" stroke="#222" stroke-width="0.18">30</text>
<line x1="380" y1="193" x2="380" y2="264.2" stroke="#231f20" stroke-width="1.1"/>
<line x1="260.5" y1="264.2" x2="498.6" y2="264.2" stroke="#231f20" stroke-width="1.1"/>
<line x1="271.6" y1="264.2" x2="271.6" y2="266.7" stroke="#231f20" stroke-width="0.9"/>
<line x1="290" y1="264.2" x2="290" y2="266.7" stroke="#231f20" stroke-width="0.9"/>
<line x1="308.5" y1="264.2" x2="308.5" y2="266.7" stroke="#231f20" stroke-width="0.9"/>
<line x1="330.5" y1="264.2" x2="330.5" y2="266.7" stroke="#231f20" stroke-width="0.9"/>
<line x1="349" y1="264.2" x2="349" y2="266.7" stroke="#231f20" stroke-width="0.9"/>
<line x1="367.5" y1="264.2" x2="367.5" y2="266.7" stroke="#231f20" stroke-width="0.9"/>
<line x1="391" y1="264.2" x2="391" y2="266.7" stroke="#231f20" stroke-width="0.9"/>
<line x1="409.7" y1="264.2" x2="409.7" y2="266.7" stroke="#231f20" stroke-width="0.9"/>
<line x1="428.2" y1="264.2" x2="428.2" y2="266.7" stroke="#231f20" stroke-width="0.9"/>
<line x1="449.6" y1="264.2" x2="449.6" y2="266.7" stroke="#231f20" stroke-width="0.9"/>
<line x1="468.3" y1="264.2" x2="468.3" y2="266.7" stroke="#231f20" stroke-width="0.9"/>
<line x1="487" y1="264.2" x2="487" y2="266.7" stroke="#231f20" stroke-width="0.9"/>
<line x1="319" y1="193" x2="319" y2="264.2" stroke="#6e6e6e" stroke-width="0.6" stroke-dasharray="0.7 0.9"/>
<line x1="439" y1="193" x2="439" y2="264.2" stroke="#6e6e6e" stroke-width="0.6" stroke-dasharray="0.7 0.9"/>
<text x="273.8" y="272.7" font-size="6.2" text-anchor="end" fill="#2a2a2a" transform="rotate(-30 273.8 272.7)" stroke="#2a2a2a" stroke-width="0.18">Healthy</text>
<text x="292.2" y="272.7" font-size="6.2" text-anchor="end" fill="#2a2a2a" transform="rotate(-30 292.2 272.7)" stroke="#2a2a2a" stroke-width="0.18">HGBL-<tspan font-style="italic">MYC/BLC2</tspan></text>
<text x="310.7" y="272.7" font-size="6.2" text-anchor="end" fill="#2a2a2a" transform="rotate(-30 310.7 272.7)" stroke="#2a2a2a" stroke-width="0.18">DLBCL NOS</text>
<text x="332.7" y="272.7" font-size="6.2" text-anchor="end" fill="#2a2a2a" transform="rotate(-30 332.7 272.7)" stroke="#2a2a2a" stroke-width="0.18">Healthy</text>
<text x="351.2" y="272.7" font-size="6.2" text-anchor="end" fill="#2a2a2a" transform="rotate(-30 351.2 272.7)" stroke="#2a2a2a" stroke-width="0.18">HGBL-<tspan font-style="italic">MYC/BLC2</tspan></text>
<text x="369.7" y="272.7" font-size="6.2" text-anchor="end" fill="#2a2a2a" transform="rotate(-30 369.7 272.7)" stroke="#2a2a2a" stroke-width="0.18">DLBCL NOS</text>
<text x="393.2" y="272.7" font-size="6.2" text-anchor="end" fill="#2a2a2a" transform="rotate(-30 393.2 272.7)" stroke="#2a2a2a" stroke-width="0.18">Healthy</text>
<text x="411.9" y="272.7" font-size="6.2" text-anchor="end" fill="#2a2a2a" transform="rotate(-30 411.9 272.7)" stroke="#2a2a2a" stroke-width="0.18">HGBL-<tspan font-style="italic">MYC/BLC2</tspan></text>
<text x="430.4" y="272.7" font-size="6.2" text-anchor="end" fill="#2a2a2a" transform="rotate(-30 430.4 272.7)" stroke="#2a2a2a" stroke-width="0.18">DLBCL NOS</text>
<text x="451.8" y="272.7" font-size="6.2" text-anchor="end" fill="#2a2a2a" transform="rotate(-30 451.8 272.7)" stroke="#2a2a2a" stroke-width="0.18">Healthy</text>
<text x="470.5" y="272.7" font-size="6.2" text-anchor="end" fill="#2a2a2a" transform="rotate(-30 470.5 272.7)" stroke="#2a2a2a" stroke-width="0.18">HGBL-<tspan font-style="italic">MYC/BLC2</tspan></text>
<text x="489.2" y="272.7" font-size="6.2" text-anchor="end" fill="#2a2a2a" transform="rotate(-30 489.2 272.7)" stroke="#2a2a2a" stroke-width="0.18">DLBCL NOS</text>
<text x="243.1" y="228.8" font-size="8.2" text-anchor="middle" fill="#111" transform="rotate(-90 243.1 228.8)" textLength="52" lengthAdjust="spacingAndGlyphs" stroke="#111" stroke-width="0.2">Percentage of T-cells</text>
<text x="319.2" y="174" font-size="7.9" text-anchor="middle">HLA-DR<tspan baseline-shift="super" font-size="70%">+</tspan> T-cells</text>
<text x="439.5" y="174" font-size="7.9" text-anchor="middle">CD38<tspan baseline-shift="super" font-size="70%">+</tspan> T-cells</text>
<line x1="260" y1="177.4" x2="375.5" y2="177.4" stroke="#6a6a6a" stroke-width="1.1"/>
<line x1="380" y1="177.4" x2="498.6" y2="177.4" stroke="#6a6a6a" stroke-width="1.1"/>
<text x="290.3" y="188" font-size="8.6" text-anchor="middle">CD4<tspan baseline-shift="super" font-size="70%">+</tspan></text>
<text x="349" y="188" font-size="8.6" text-anchor="middle">CD8<tspan baseline-shift="super" font-size="70%">+</tspan></text>
<text x="410" y="188" font-size="8.6" text-anchor="middle">CD4<tspan baseline-shift="super" font-size="70%">+</tspan></text>
<text x="468.8" y="188" font-size="8.6" text-anchor="middle">CD8<tspan baseline-shift="super" font-size="70%">+</tspan></text>
<text x="288.8" y="197.3" font-size="6.1" text-anchor="end" stroke="#231f20" stroke-width="0.18"><tspan font-style="italic">P</tspan> &lt; .001</text>
<text x="291.6" y="197.3" font-size="6.1" stroke="#231f20" stroke-width="0.18"><tspan font-style="italic">P</tspan> = .34</text>
<line x1="265.91" y1="198.9" x2="288.8" y2="198.9" stroke="#444" stroke-width="0.6"/>
<line x1="291.6" y1="198.9" x2="311.1" y2="198.9" stroke="#444" stroke-width="0.6"/>
<text x="289.55" y="204.9" font-size="6.1" text-anchor="middle" stroke="#231f20" stroke-width="0.18"><tspan font-style="italic">P</tspan> = .002</text>
<line x1="272.6" y1="206.6" x2="306.5" y2="206.6" stroke="#444" stroke-width="0.6"/>
<text x="347.8" y="197.3" font-size="6.1" text-anchor="end" stroke="#231f20" stroke-width="0.18"><tspan font-style="italic">P</tspan> = .004</text>
<text x="350.6" y="197.3" font-size="6.1" stroke="#231f20" stroke-width="0.18"><tspan font-style="italic">P</tspan> = .14</text>
<line x1="324.91" y1="198.9" x2="347.8" y2="198.9" stroke="#444" stroke-width="0.6"/>
<line x1="350.6" y1="198.9" x2="370.1" y2="198.9" stroke="#444" stroke-width="0.6"/>
<text x="348.5" y="204.9" font-size="6.1" text-anchor="middle" stroke="#231f20" stroke-width="0.18"><tspan font-style="italic">P</tspan> = .03</text>
<line x1="331.5" y1="206.6" x2="365.5" y2="206.6" stroke="#444" stroke-width="0.6"/>
<text x="408.5" y="197.3" font-size="6.1" text-anchor="end" stroke="#231f20" stroke-width="0.18"><tspan font-style="italic">P</tspan> = .004</text>
<text x="411.3" y="197.3" font-size="6.1" stroke="#231f20" stroke-width="0.18"><tspan font-style="italic">P</tspan> = .19</text>
<line x1="385.61" y1="198.9" x2="408.5" y2="198.9" stroke="#444" stroke-width="0.6"/>
<line x1="411.3" y1="198.9" x2="430.8" y2="198.9" stroke="#444" stroke-width="0.6"/>
<text x="409.1" y="204.9" font-size="6.1" text-anchor="middle" stroke="#231f20" stroke-width="0.18"><tspan font-style="italic">P</tspan> = .31</text>
<line x1="392" y1="206.6" x2="426.2" y2="206.6" stroke="#444" stroke-width="0.6"/>
<text x="467.1" y="197.3" font-size="6.1" text-anchor="end" stroke="#231f20" stroke-width="0.18"><tspan font-style="italic">P</tspan> = .37</text>
<text x="469.9" y="197.3" font-size="6.1" stroke="#231f20" stroke-width="0.18"><tspan font-style="italic">P</tspan> = .005</text>
<line x1="447.6" y1="198.9" x2="467.1" y2="198.9" stroke="#444" stroke-width="0.6"/>
<line x1="469.9" y1="198.9" x2="492.79" y2="198.9" stroke="#444" stroke-width="0.6"/>
<text x="467.8" y="204.9" font-size="6.1" text-anchor="middle" stroke="#231f20" stroke-width="0.18"><tspan font-style="italic">P</tspan> = .059</text>
<line x1="450.6" y1="206.6" x2="485" y2="206.6" stroke="#444" stroke-width="0.6"/>
<rect x="264.6" y="258.33" width="14" height="1.07" fill="#d0eec6"/>
<g fill="#2f8f35"><rect x="267.88" y="258.29" width="1.44" height="1.44"/><rect x="265.59" y="257.78" width="1.44" height="1.44"/><rect x="269.17" y="257.21" width="1.44" height="1.44"/><rect x="269.82" y="258.67" width="1.44" height="1.44"/><rect x="267.3" y="257.98" width="1.44" height="1.44"/><rect x="268.61" y="257.66" width="1.44" height="1.44"/><rect x="266.52" y="258.8" width="1.44" height="1.44"/><rect x="273.36" y="258.83" width="1.44" height="1.44"/><rect x="272.92" y="257.51" width="1.44" height="1.44"/><rect x="267.73" y="257.63" width="1.44" height="1.44"/><rect x="267.78" y="257.91" width="1.44" height="1.44"/></g>
<line x1="264.6" y1="258.98" x2="278.6" y2="258.98" stroke="#2f8f35" stroke-width="1.1"/>
<rect x="283" y="253.17" width="14" height="5.8" fill="#f7c8cc"/>
<g fill="#b3102e"><rect x="290.08" y="254.48" width="1.44" height="1.44"/><rect x="290.82" y="251.45" width="1.44" height="1.44"/><rect x="293.12" y="256.36" width="1.44" height="1.44"/><rect x="291.75" y="258.83" width="1.44" height="1.44"/><rect x="294.14" y="256.51" width="1.44" height="1.44"/><rect x="294.62" y="253.33" width="1.44" height="1.44"/><rect x="289.21" y="258.69" width="1.44" height="1.44"/><rect x="289.27" y="254.42" width="1.44" height="1.44"/><rect x="285.17" y="248.46" width="1.44" height="1.44"/><rect x="286.87" y="259.26" width="1.44" height="1.44"/><rect x="290.25" y="257.82" width="1.44" height="1.44"/><rect x="284.24" y="259.27" width="1.44" height="1.44"/><rect x="291.54" y="258.64" width="1.44" height="1.44"/><rect x="285.24" y="258.02" width="1.44" height="1.44"/><rect x="288.6" y="257.25" width="1.44" height="1.44"/><rect x="294.92" y="257.9" width="1.44" height="1.44"/><rect x="284.36" y="259.91" width="1.44" height="1.44"/><rect x="283.76" y="249.06" width="1.44" height="1.44"/><rect x="288.55" y="258.62" width="1.44" height="1.44"/><rect x="285.57" y="250.31" width="1.44" height="1.44"/><rect x="291.96" y="258.94" width="1.44" height="1.44"/><rect x="283.31" y="257.85" width="1.44" height="1.44"/><rect x="293.37" y="256.08" width="1.44" height="1.44"/><rect x="293.54" y="249.79" width="1.44" height="1.44"/><rect x="292.72" y="252.69" width="1.44" height="1.44"/><rect x="288.39" y="255.19" width="1.44" height="1.44"/><rect x="286.68" y="259.55" width="1.44" height="1.44"/><rect x="291.22" y="258.54" width="1.44" height="1.44"/><rect x="289.46" y="251.69" width="1.44" height="1.44"/><rect x="288.33" y="258.72" width="1.44" height="1.44"/><rect x="287.34" y="247.7" width="1.44" height="1.44"/><rect x="288.54" y="258.53" width="1.44" height="1.44"/><rect x="291.27" y="249.12" width="1.44" height="1.44"/><rect x="293.19" y="257.86" width="1.44" height="1.44"/><rect x="294.13" y="251.59" width="1.44" height="1.44"/><rect x="285.25" y="257.08" width="1.44" height="1.44"/><rect x="286.83" y="256.47" width="1.44" height="1.44"/><rect x="288.6" y="259.8" width="1.44" height="1.44"/><rect x="290.04" y="229.88" width="1.44" height="1.44"/><rect x="287.46" y="208.38" width="1.44" height="1.44"/><rect x="285.62" y="246" width="1.44" height="1.44"/><rect x="284.3" y="244.93" width="1.44" height="1.44"/></g>
<line x1="283" y1="256.83" x2="297" y2="256.83" stroke="#b3102e" stroke-width="1.1"/>
<rect x="301.5" y="254.25" width="14" height="4.3" fill="#c6d1eb"/>
<g fill="#1a3669"><rect x="313.3" y="257.04" width="1.44" height="1.44"/><rect x="308.54" y="248.92" width="1.44" height="1.44"/><rect x="311.08" y="248.37" width="1.44" height="1.44"/><rect x="303.42" y="251.03" width="1.44" height="1.44"/><rect x="311.09" y="253.47" width="1.44" height="1.44"/><rect x="302.47" y="254.54" width="1.44" height="1.44"/><rect x="304.62" y="256.85" width="1.44" height="1.44"/><rect x="306.25" y="251.86" width="1.44" height="1.44"/><rect x="301.96" y="255.34" width="1.44" height="1.44"/><rect x="308.91" y="256.31" width="1.44" height="1.44"/><rect x="304.34" y="258.87" width="1.44" height="1.44"/><rect x="305.38" y="254.96" width="1.44" height="1.44"/><rect x="310.27" y="258.21" width="1.44" height="1.44"/><rect x="306.89" y="256.83" width="1.44" height="1.44"/><rect x="312.44" y="256.92" width="1.44" height="1.44"/><rect x="309.23" y="255.09" width="1.44" height="1.44"/><rect x="312.25" y="258.88" width="1.44" height="1.44"/><rect x="308.54" y="251.48" width="1.44" height="1.44"/><rect x="312.79" y="257.98" width="1.44" height="1.44"/><rect x="312.23" y="257.67" width="1.44" height="1.44"/><rect x="303.8" y="255.46" width="1.44" height="1.44"/><rect x="310.73" y="256.88" width="1.44" height="1.44"/><rect x="305.88" y="258.32" width="1.44" height="1.44"/><rect x="310.94" y="258.39" width="1.44" height="1.44"/><rect x="309.95" y="255.9" width="1.44" height="1.44"/><rect x="311.69" y="257.7" width="1.44" height="1.44"/><rect x="303.25" y="256.34" width="1.44" height="1.44"/><rect x="306.26" y="254.27" width="1.44" height="1.44"/><rect x="310.63" y="253.36" width="1.44" height="1.44"/><rect x="313.16" y="250.34" width="1.44" height="1.44"/><rect x="310.44" y="258.01" width="1.44" height="1.44"/><rect x="302.3" y="257.54" width="1.44" height="1.44"/><rect x="309.03" y="246.86" width="1.44" height="1.44"/></g>
<line x1="301.5" y1="256.83" x2="315.5" y2="256.83" stroke="#1a3669" stroke-width="1.1"/>
<rect x="323.5" y="259.19" width="14" height="0.86" fill="#d0eec6"/>
<g fill="#2f8f35"><rect x="332.03" y="259.41" width="1.44" height="1.44"/><rect x="328.35" y="258.46" width="1.44" height="1.44"/><rect x="325.51" y="258.25" width="1.44" height="1.44"/><rect x="334.28" y="259.25" width="1.44" height="1.44"/><rect x="330.24" y="258.97" width="1.44" height="1.44"/><rect x="332.05" y="258.86" width="1.44" height="1.44"/><rect x="333.48" y="259.5" width="1.44" height="1.44"/><rect x="335.17" y="258.45" width="1.44" height="1.44"/><rect x="323.95" y="258.78" width="1.44" height="1.44"/></g>
<line x1="323.5" y1="259.62" x2="337.5" y2="259.62" stroke="#2f8f35" stroke-width="1.1"/>
<rect x="342" y="254.68" width="14" height="4.95" fill="#f7c8cc"/>
<g fill="#b3102e"><rect x="342.37" y="258.68" width="1.44" height="1.44"/><rect x="352.73" y="254.4" width="1.44" height="1.44"/><rect x="347.72" y="253.93" width="1.44" height="1.44"/><rect x="347.63" y="259.05" width="1.44" height="1.44"/><rect x="349.1" y="256.05" width="1.44" height="1.44"/><rect x="345.91" y="258.67" width="1.44" height="1.44"/><rect x="344.31" y="252.66" width="1.44" height="1.44"/><rect x="343.08" y="251.32" width="1.44" height="1.44"/><rect x="345.9" y="259.49" width="1.44" height="1.44"/><rect x="345.98" y="258.99" width="1.44" height="1.44"/><rect x="351" y="257.25" width="1.44" height="1.44"/><rect x="348.9" y="259.45" width="1.44" height="1.44"/><rect x="353.53" y="258.04" width="1.44" height="1.44"/><rect x="346.37" y="258.37" width="1.44" height="1.44"/><rect x="353.33" y="259.25" width="1.44" height="1.44"/><rect x="349.28" y="258.87" width="1.44" height="1.44"/><rect x="343.24" y="257.42" width="1.44" height="1.44"/><rect x="344.42" y="259.7" width="1.44" height="1.44"/><rect x="349.25" y="256.46" width="1.44" height="1.44"/><rect x="354.13" y="258.15" width="1.44" height="1.44"/><rect x="346.56" y="258.05" width="1.44" height="1.44"/><rect x="351.57" y="254.11" width="1.44" height="1.44"/><rect x="347.42" y="253.93" width="1.44" height="1.44"/><rect x="352.7" y="254.75" width="1.44" height="1.44"/><rect x="343.09" y="250.1" width="1.44" height="1.44"/><rect x="348.09" y="255.22" width="1.44" height="1.44"/><rect x="353.07" y="258.48" width="1.44" height="1.44"/><rect x="345.59" y="249.29" width="1.44" height="1.44"/><rect x="345.37" y="250.82" width="1.44" height="1.44"/><rect x="342.56" y="257.76" width="1.44" height="1.44"/><rect x="344.25" y="255.65" width="1.44" height="1.44"/><rect x="345.5" y="256.19" width="1.44" height="1.44"/><rect x="350.73" y="256" width="1.44" height="1.44"/><rect x="344.9" y="259.48" width="1.44" height="1.44"/><rect x="347.07" y="257.42" width="1.44" height="1.44"/><rect x="344.68" y="258.35" width="1.44" height="1.44"/><rect x="349.51" y="259.59" width="1.44" height="1.44"/><rect x="352.65" y="258.7" width="1.44" height="1.44"/><rect x="350.06" y="239.34" width="1.44" height="1.44"/><rect x="344.64" y="243.85" width="1.44" height="1.44"/><rect x="351.09" y="246" width="1.44" height="1.44"/></g>
<line x1="342" y1="258.12" x2="356" y2="258.12" stroke="#b3102e" stroke-width="1.1"/>
<rect x="360.5" y="256.4" width="14" height="3.23" fill="#c6d1eb"/>
<g fill="#1a3669"><rect x="368.64" y="253.3" width="1.44" height="1.44"/><rect x="370.07" y="258.99" width="1.44" height="1.44"/><rect x="365.13" y="254.72" width="1.44" height="1.44"/><rect x="372.65" y="259.35" width="1.44" height="1.44"/><rect x="363.52" y="255.95" width="1.44" height="1.44"/><rect x="369.86" y="255.85" width="1.44" height="1.44"/><rect x="361.86" y="259.26" width="1.44" height="1.44"/><rect x="361.12" y="256.43" width="1.44" height="1.44"/><rect x="362.39" y="258.18" width="1.44" height="1.44"/><rect x="361.5" y="258.84" width="1.44" height="1.44"/><rect x="366.8" y="258.86" width="1.44" height="1.44"/><rect x="367.44" y="257.11" width="1.44" height="1.44"/><rect x="362.96" y="258.26" width="1.44" height="1.44"/><rect x="372.06" y="258.41" width="1.44" height="1.44"/><rect x="365.17" y="258.94" width="1.44" height="1.44"/><rect x="362.57" y="255.71" width="1.44" height="1.44"/><rect x="362.91" y="259.09" width="1.44" height="1.44"/><rect x="369.63" y="257.12" width="1.44" height="1.44"/><rect x="371.84" y="259.37" width="1.44" height="1.44"/><rect x="362.72" y="259.01" width="1.44" height="1.44"/><rect x="361.13" y="258.99" width="1.44" height="1.44"/><rect x="370.12" y="258.33" width="1.44" height="1.44"/><rect x="363.69" y="256.64" width="1.44" height="1.44"/><rect x="372.57" y="256.54" width="1.44" height="1.44"/><rect x="366.77" y="258.11" width="1.44" height="1.44"/><rect x="368.41" y="258.14" width="1.44" height="1.44"/><rect x="364.91" y="252.1" width="1.44" height="1.44"/><rect x="370.39" y="258.07" width="1.44" height="1.44"/><rect x="366.3" y="254.17" width="1.44" height="1.44"/><rect x="364.67" y="258.34" width="1.44" height="1.44"/><rect x="371.62" y="255.47" width="1.44" height="1.44"/><rect x="362.07" y="259.17" width="1.44" height="1.44"/></g>
<line x1="360.5" y1="258.55" x2="374.5" y2="258.55" stroke="#1a3669" stroke-width="1.1"/>
<rect x="384" y="258.55" width="14" height="1.29" fill="#d0eec6"/>
<g fill="#2f8f35"><rect x="391.99" y="258.43" width="1.44" height="1.44"/><rect x="387.86" y="258.22" width="1.44" height="1.44"/><rect x="396.21" y="257.82" width="1.44" height="1.44"/><rect x="386.88" y="258.21" width="1.44" height="1.44"/><rect x="391.11" y="256.85" width="1.44" height="1.44"/><rect x="386.16" y="258.33" width="1.44" height="1.44"/><rect x="394.64" y="258.95" width="1.44" height="1.44"/><rect x="394.71" y="258.97" width="1.44" height="1.44"/><rect x="387.49" y="259.2" width="1.44" height="1.44"/></g>
<line x1="384" y1="259.19" x2="398" y2="259.19" stroke="#2f8f35" stroke-width="1.1"/>
<rect x="402.7" y="256.4" width="14" height="3.44" fill="#f7c8cc"/>
<g fill="#b3102e"><rect x="403.5" y="253.32" width="1.44" height="1.44"/><rect x="409.09" y="258.69" width="1.44" height="1.44"/><rect x="407.88" y="257.97" width="1.44" height="1.44"/><rect x="409.66" y="259.32" width="1.44" height="1.44"/><rect x="407.33" y="256.86" width="1.44" height="1.44"/><rect x="403.11" y="255.93" width="1.44" height="1.44"/><rect x="411.24" y="259.19" width="1.44" height="1.44"/><rect x="410.82" y="258.11" width="1.44" height="1.44"/><rect x="409.51" y="255.47" width="1.44" height="1.44"/><rect x="409.57" y="252.48" width="1.44" height="1.44"/><rect x="411.26" y="259.09" width="1.44" height="1.44"/><rect x="414.77" y="259.14" width="1.44" height="1.44"/><rect x="413.47" y="259.17" width="1.44" height="1.44"/><rect x="411.59" y="259.29" width="1.44" height="1.44"/><rect x="407.77" y="259.73" width="1.44" height="1.44"/><rect x="406.8" y="257.64" width="1.44" height="1.44"/><rect x="408.01" y="257.94" width="1.44" height="1.44"/><rect x="414.66" y="255.93" width="1.44" height="1.44"/><rect x="407.62" y="255.67" width="1.44" height="1.44"/><rect x="407.6" y="259.25" width="1.44" height="1.44"/><rect x="407.9" y="257.75" width="1.44" height="1.44"/><rect x="404.7" y="257.33" width="1.44" height="1.44"/><rect x="414.96" y="258.98" width="1.44" height="1.44"/><rect x="403.04" y="259.13" width="1.44" height="1.44"/><rect x="410.27" y="257.99" width="1.44" height="1.44"/><rect x="414.1" y="259.46" width="1.44" height="1.44"/><rect x="406.04" y="259.5" width="1.44" height="1.44"/><rect x="410.31" y="259.32" width="1.44" height="1.44"/><rect x="407.5" y="259.28" width="1.44" height="1.44"/><rect x="405.87" y="257.59" width="1.44" height="1.44"/><rect x="405.36" y="258.48" width="1.44" height="1.44"/><rect x="404.37" y="255.08" width="1.44" height="1.44"/><rect x="413.1" y="259.14" width="1.44" height="1.44"/><rect x="412.39" y="253.72" width="1.44" height="1.44"/><rect x="413.88" y="258.89" width="1.44" height="1.44"/><rect x="403.57" y="259.03" width="1.44" height="1.44"/><rect x="411.31" y="242.13" width="1.44" height="1.44"/><rect x="406.87" y="213.32" width="1.44" height="1.44"/><rect x="410.73" y="251.38" width="1.44" height="1.44"/></g>
<line x1="402.7" y1="258.55" x2="416.7" y2="258.55" stroke="#b3102e" stroke-width="1.1"/>
<rect x="421.2" y="256.83" width="14" height="2.8" fill="#c6d1eb"/>
<g fill="#1a3669"><rect x="426.87" y="257.29" width="1.44" height="1.44"/><rect x="427.22" y="256.11" width="1.44" height="1.44"/><rect x="431.06" y="256.36" width="1.44" height="1.44"/><rect x="430.59" y="256.81" width="1.44" height="1.44"/><rect x="423.28" y="255.81" width="1.44" height="1.44"/><rect x="429.64" y="256.55" width="1.44" height="1.44"/><rect x="425.88" y="258.14" width="1.44" height="1.44"/><rect x="427.73" y="258.34" width="1.44" height="1.44"/><rect x="424.33" y="256.67" width="1.44" height="1.44"/><rect x="425.93" y="258.23" width="1.44" height="1.44"/><rect x="425.56" y="257.45" width="1.44" height="1.44"/><rect x="426.05" y="257.37" width="1.44" height="1.44"/><rect x="421.69" y="255.2" width="1.44" height="1.44"/><rect x="423.89" y="256.93" width="1.44" height="1.44"/><rect x="428.33" y="258.67" width="1.44" height="1.44"/><rect x="422.17" y="258.93" width="1.44" height="1.44"/><rect x="423.62" y="256.93" width="1.44" height="1.44"/><rect x="430.1" y="256.43" width="1.44" height="1.44"/><rect x="424.78" y="259.21" width="1.44" height="1.44"/><rect x="425.37" y="255.24" width="1.44" height="1.44"/><rect x="424.38" y="256.41" width="1.44" height="1.44"/><rect x="431.49" y="253.71" width="1.44" height="1.44"/><rect x="422.58" y="259.12" width="1.44" height="1.44"/><rect x="429.11" y="253.93" width="1.44" height="1.44"/><rect x="431.79" y="259.22" width="1.44" height="1.44"/><rect x="423.9" y="258.79" width="1.44" height="1.44"/><rect x="426.56" y="258.04" width="1.44" height="1.44"/><rect x="430.99" y="257.05" width="1.44" height="1.44"/><rect x="428.89" y="259.11" width="1.44" height="1.44"/><rect x="425.94" y="254.43" width="1.44" height="1.44"/></g>
<line x1="421.2" y1="258.55" x2="435.2" y2="258.55" stroke="#1a3669" stroke-width="1.1"/>
<rect x="442.6" y="255.97" width="14" height="2.58" fill="#d0eec6"/>
<g fill="#2f8f35"><rect x="448.84" y="258.3" width="1.44" height="1.44"/><rect x="453.7" y="257.06" width="1.44" height="1.44"/><rect x="451.96" y="257.39" width="1.44" height="1.44"/><rect x="443.19" y="255.53" width="1.44" height="1.44"/><rect x="449.99" y="257.42" width="1.44" height="1.44"/><rect x="448.43" y="255.36" width="1.44" height="1.44"/><rect x="448.43" y="257.85" width="1.44" height="1.44"/><rect x="452.95" y="256.19" width="1.44" height="1.44"/><rect x="447.86" y="256.26" width="1.44" height="1.44"/><rect x="448.56" y="258.02" width="1.44" height="1.44"/><rect x="453.56" y="257.26" width="1.44" height="1.44"/><rect x="448.16" y="248.8" width="1.44" height="1.44"/></g>
<line x1="442.6" y1="257.47" x2="456.6" y2="257.47" stroke="#2f8f35" stroke-width="1.1"/>
<rect x="461.3" y="254.25" width="14" height="4.73" fill="#f7c8cc"/>
<g fill="#b3102e"><rect x="462.17" y="257.16" width="1.44" height="1.44"/><rect x="471.93" y="251.83" width="1.44" height="1.44"/><rect x="462.44" y="255.07" width="1.44" height="1.44"/><rect x="468.74" y="258.51" width="1.44" height="1.44"/><rect x="463.74" y="254.13" width="1.44" height="1.44"/><rect x="472.65" y="253.42" width="1.44" height="1.44"/><rect x="468.31" y="259.16" width="1.44" height="1.44"/><rect x="471.19" y="253.45" width="1.44" height="1.44"/><rect x="467.56" y="258.45" width="1.44" height="1.44"/><rect x="469.67" y="255.97" width="1.44" height="1.44"/><rect x="469.68" y="254.28" width="1.44" height="1.44"/><rect x="465.12" y="258.14" width="1.44" height="1.44"/><rect x="464.11" y="255.03" width="1.44" height="1.44"/><rect x="471.64" y="253.53" width="1.44" height="1.44"/><rect x="463.33" y="250.94" width="1.44" height="1.44"/><rect x="472.59" y="258.84" width="1.44" height="1.44"/><rect x="464.06" y="256.09" width="1.44" height="1.44"/><rect x="462.79" y="253.12" width="1.44" height="1.44"/><rect x="462.72" y="257.59" width="1.44" height="1.44"/><rect x="470.99" y="256.41" width="1.44" height="1.44"/><rect x="472.99" y="254.79" width="1.44" height="1.44"/><rect x="466.56" y="258.15" width="1.44" height="1.44"/><rect x="469.49" y="256.4" width="1.44" height="1.44"/><rect x="464.67" y="251.01" width="1.44" height="1.44"/><rect x="472.45" y="257.83" width="1.44" height="1.44"/><rect x="469.81" y="258.64" width="1.44" height="1.44"/><rect x="463.44" y="257.26" width="1.44" height="1.44"/><rect x="462.26" y="257" width="1.44" height="1.44"/><rect x="469.93" y="256.54" width="1.44" height="1.44"/><rect x="462.08" y="258.32" width="1.44" height="1.44"/><rect x="471.61" y="255.98" width="1.44" height="1.44"/><rect x="465.1" y="257.11" width="1.44" height="1.44"/><rect x="464.37" y="257.05" width="1.44" height="1.44"/><rect x="468.56" y="257.67" width="1.44" height="1.44"/><rect x="465.4" y="253.08" width="1.44" height="1.44"/><rect x="468.31" y="254.04" width="1.44" height="1.44"/><rect x="463.43" y="254.94" width="1.44" height="1.44"/><rect x="472.52" y="252.65" width="1.44" height="1.44"/><rect x="465.47" y="253.5" width="1.44" height="1.44"/><rect x="471.68" y="256.89" width="1.44" height="1.44"/><rect x="463.4" y="248.16" width="1.44" height="1.44"/><rect x="471.17" y="246" width="1.44" height="1.44"/><rect x="473.34" y="243.85" width="1.44" height="1.44"/><rect x="466.28" y="241.06" width="1.44" height="1.44"/><rect x="461.98" y="247.08" width="1.44" height="1.44"/></g>
<line x1="461.3" y1="256.83" x2="475.3" y2="256.83" stroke="#b3102e" stroke-width="1.1"/>
<rect x="480" y="256.83" width="14" height="2.8" fill="#c6d1eb"/>
<g fill="#1a3669"><rect x="484.51" y="258.22" width="1.44" height="1.44"/><rect x="484.78" y="259.13" width="1.44" height="1.44"/><rect x="488.24" y="259.17" width="1.44" height="1.44"/><rect x="482.25" y="257.09" width="1.44" height="1.44"/><rect x="482.32" y="257.63" width="1.44" height="1.44"/><rect x="491.58" y="256.02" width="1.44" height="1.44"/><rect x="484.26" y="253.55" width="1.44" height="1.44"/><rect x="490.39" y="255.19" width="1.44" height="1.44"/><rect x="490.76" y="258.53" width="1.44" height="1.44"/><rect x="486.04" y="255.27" width="1.44" height="1.44"/><rect x="482.07" y="256.05" width="1.44" height="1.44"/><rect x="481.41" y="257.98" width="1.44" height="1.44"/><rect x="490.83" y="256.9" width="1.44" height="1.44"/><rect x="481.68" y="259.39" width="1.44" height="1.44"/><rect x="486.23" y="257.94" width="1.44" height="1.44"/><rect x="486.71" y="255.87" width="1.44" height="1.44"/><rect x="481.69" y="256.1" width="1.44" height="1.44"/><rect x="485.89" y="256.17" width="1.44" height="1.44"/><rect x="482.25" y="257.89" width="1.44" height="1.44"/><rect x="486.71" y="257.74" width="1.44" height="1.44"/><rect x="486.36" y="258.42" width="1.44" height="1.44"/><rect x="484.68" y="259.03" width="1.44" height="1.44"/><rect x="482.65" y="259" width="1.44" height="1.44"/><rect x="485.12" y="258.83" width="1.44" height="1.44"/><rect x="482.72" y="257.67" width="1.44" height="1.44"/><rect x="481.81" y="256.47" width="1.44" height="1.44"/><rect x="483.16" y="257.04" width="1.44" height="1.44"/><rect x="490.74" y="259.15" width="1.44" height="1.44"/><rect x="486.3" y="259.07" width="1.44" height="1.44"/><rect x="490.97" y="259.11" width="1.44" height="1.44"/><rect x="480.46" y="252.45" width="1.44" height="1.44"/></g>
<line x1="480" y1="258.55" x2="494" y2="258.55" stroke="#1a3669" stroke-width="1.1"/>
<line x1="261" y1="346" x2="261" y2="419.3" stroke="#231f20" stroke-width="1.1"/>
<line x1="257.7" y1="416.2" x2="261" y2="416.2" stroke="#231f20" stroke-width="0.9"/>
<text x="255.4" y="418.3" font-size="6.4" text-anchor="end" fill="#222" stroke="#222" stroke-width="0.18">0</text>
<line x1="257.7" y1="399.5" x2="261" y2="399.5" stroke="#231f20" stroke-width="0.9"/>
<text x="255.4" y="401.6" font-size="6.4" text-anchor="end" fill="#222" stroke="#222" stroke-width="0.18">20</text>
<line x1="257.7" y1="382.8" x2="261" y2="382.8" stroke="#231f20" stroke-width="0.9"/>
<text x="255.4" y="384.9" font-size="6.4" text-anchor="end" fill="#222" stroke="#222" stroke-width="0.18">40</text>
<line x1="257.7" y1="366.1" x2="261" y2="366.1" stroke="#231f20" stroke-width="0.9"/>
<text x="255.4" y="368.2" font-size="6.4" text-anchor="end" fill="#222" stroke="#222" stroke-width="0.18">60</text>
<line x1="257.7" y1="349.4" x2="261" y2="349.4" stroke="#231f20" stroke-width="0.9"/>
<text x="255.4" y="351.5" font-size="6.4" text-anchor="end" fill="#222" stroke="#222" stroke-width="0.18">80</text>
<line x1="261" y1="419.3" x2="499.2" y2="419.3" stroke="#231f20" stroke-width="1.1"/>
<line x1="272" y1="419.3" x2="272" y2="421.8" stroke="#231f20" stroke-width="0.9"/>
<line x1="290.4" y1="419.3" x2="290.4" y2="421.8" stroke="#231f20" stroke-width="0.9"/>
<line x1="308.8" y1="419.3" x2="308.8" y2="421.8" stroke="#231f20" stroke-width="0.9"/>
<line x1="331.2" y1="419.3" x2="331.2" y2="421.8" stroke="#231f20" stroke-width="0.9"/>
<line x1="349.8" y1="419.3" x2="349.8" y2="421.8" stroke="#231f20" stroke-width="0.9"/>
<line x1="368.2" y1="419.3" x2="368.2" y2="421.8" stroke="#231f20" stroke-width="0.9"/>
<line x1="391.5" y1="419.3" x2="391.5" y2="421.8" stroke="#231f20" stroke-width="0.9"/>
<line x1="410" y1="419.3" x2="410" y2="421.8" stroke="#231f20" stroke-width="0.9"/>
<line x1="428.5" y1="419.3" x2="428.5" y2="421.8" stroke="#231f20" stroke-width="0.9"/>
<line x1="450.8" y1="419.3" x2="450.8" y2="421.8" stroke="#231f20" stroke-width="0.9"/>
<line x1="469.6" y1="419.3" x2="469.6" y2="421.8" stroke="#231f20" stroke-width="0.9"/>
<line x1="488" y1="419.3" x2="488" y2="421.8" stroke="#231f20" stroke-width="0.9"/>
<line x1="320.5" y1="348.7" x2="320.5" y2="419.3" stroke="#6e6e6e" stroke-width="0.6" stroke-dasharray="0.7 0.9"/>
<line x1="381" y1="348.7" x2="381" y2="419.3" stroke="#6e6e6e" stroke-width="0.6" stroke-dasharray="0.7 0.9"/>
<line x1="440.2" y1="348.7" x2="440.2" y2="419.3" stroke="#6e6e6e" stroke-width="0.6" stroke-dasharray="0.7 0.9"/>
<text x="274.2" y="427.8" font-size="6.2" text-anchor="end" fill="#2a2a2a" transform="rotate(-30 274.2 427.8)" stroke="#2a2a2a" stroke-width="0.18">Healthy</text>
<text x="292.6" y="427.8" font-size="6.2" text-anchor="end" fill="#2a2a2a" transform="rotate(-30 292.6 427.8)" stroke="#2a2a2a" stroke-width="0.18">HGBL-<tspan font-style="italic">MYC/BLC2</tspan></text>
<text x="311" y="427.8" font-size="6.2" text-anchor="end" fill="#2a2a2a" transform="rotate(-30 311 427.8)" stroke="#2a2a2a" stroke-width="0.18">DLBCL NOS</text>
<text x="333.4" y="427.8" font-size="6.2" text-anchor="end" fill="#2a2a2a" transform="rotate(-30 333.4 427.8)" stroke="#2a2a2a" stroke-width="0.18">Healthy</text>
<text x="352" y="427.8" font-size="6.2" text-anchor="end" fill="#2a2a2a" transform="rotate(-30 352 427.8)" stroke="#2a2a2a" stroke-width="0.18">HGBL-<tspan font-style="italic">MYC/BLC2</tspan></text>
<text x="370.4" y="427.8" font-size="6.2" text-anchor="end" fill="#2a2a2a" transform="rotate(-30 370.4 427.8)" stroke="#2a2a2a" stroke-width="0.18">DLBCL NOS</text>
<text x="393.7" y="427.8" font-size="6.2" text-anchor="end" fill="#2a2a2a" transform="rotate(-30 393.7 427.8)" stroke="#2a2a2a" stroke-width="0.18">Healthy</text>
<text x="412.2" y="427.8" font-size="6.2" text-anchor="end" fill="#2a2a2a" transform="rotate(-30 412.2 427.8)" stroke="#2a2a2a" stroke-width="0.18">HGBL-<tspan font-style="italic">MYC/BLC2</tspan></text>
<text x="430.7" y="427.8" font-size="6.2" text-anchor="end" fill="#2a2a2a" transform="rotate(-30 430.7 427.8)" stroke="#2a2a2a" stroke-width="0.18">DLBCL NOS</text>
<text x="453" y="427.8" font-size="6.2" text-anchor="end" fill="#2a2a2a" transform="rotate(-30 453 427.8)" stroke="#2a2a2a" stroke-width="0.18">Healthy</text>
<text x="471.8" y="427.8" font-size="6.2" text-anchor="end" fill="#2a2a2a" transform="rotate(-30 471.8 427.8)" stroke="#2a2a2a" stroke-width="0.18">HGBL-<tspan font-style="italic">MYC/BLC2</tspan></text>
<text x="490.2" y="427.8" font-size="6.2" text-anchor="end" fill="#2a2a2a" transform="rotate(-30 490.2 427.8)" stroke="#2a2a2a" stroke-width="0.18">DLBCL NOS</text>
<text x="243.1" y="382.5" font-size="8.2" text-anchor="middle" fill="#111" transform="rotate(-90 243.1 382.5)" textLength="52" lengthAdjust="spacingAndGlyphs" stroke="#111" stroke-width="0.2">Percentage of T-cells</text>
<text x="380" y="329.4" font-size="7.9" text-anchor="middle">PD-1<tspan baseline-shift="super" font-size="70%">+</tspan> cells</text>
<line x1="260.7" y1="332.7" x2="499.2" y2="332.7" stroke="#6a6a6a" stroke-width="1.1"/>
<text x="290" y="343" font-size="8.6" text-anchor="middle">CD4<tspan baseline-shift="super" font-size="70%">+</tspan></text>
<text x="350.5" y="343" font-size="8.6" text-anchor="middle">CD8<tspan baseline-shift="super" font-size="70%">+</tspan></text>
<text x="410" y="343" font-size="8.6" text-anchor="middle">Tregs</text>
<text x="469.6" y="343" font-size="8.6" text-anchor="middle"><tspan font-family="Liberation Serif">γδ</tspan> TCR</text>
<text x="289.2" y="352.4" font-size="6.1" text-anchor="end" stroke="#231f20" stroke-width="0.18"><tspan font-style="italic">P</tspan> = .006</text>
<text x="292" y="352.4" font-size="6.1" stroke="#231f20" stroke-width="0.18"><tspan font-style="italic">P</tspan> = .84</text>
<line x1="266.31" y1="354" x2="289.2" y2="354" stroke="#444" stroke-width="0.6"/>
<line x1="292" y1="354" x2="311.5" y2="354" stroke="#444" stroke-width="0.6"/>
<text x="289.9" y="360" font-size="6.1" text-anchor="middle" stroke="#231f20" stroke-width="0.18"><tspan font-style="italic">P</tspan> = .002</text>
<line x1="273" y1="361.7" x2="306.8" y2="361.7" stroke="#444" stroke-width="0.6"/>
<text x="348.6" y="352.4" font-size="6.1" text-anchor="end" stroke="#231f20" stroke-width="0.18"><tspan font-style="italic">P</tspan> = .048</text>
<text x="351.4" y="352.4" font-size="6.1" stroke="#231f20" stroke-width="0.18"><tspan font-style="italic">P</tspan> = .04</text>
<line x1="325.71" y1="354" x2="348.6" y2="354" stroke="#444" stroke-width="0.6"/>
<line x1="351.4" y1="354" x2="370.9" y2="354" stroke="#444" stroke-width="0.6"/>
<text x="349.2" y="360" font-size="6.1" text-anchor="middle" stroke="#231f20" stroke-width="0.18"><tspan font-style="italic">P</tspan> = .67</text>
<line x1="332.2" y1="361.7" x2="366.2" y2="361.7" stroke="#444" stroke-width="0.6"/>
<text x="408.8" y="352.4" font-size="6.1" text-anchor="end" stroke="#231f20" stroke-width="0.18"><tspan font-style="italic">P</tspan> = .02</text>
<text x="411.6" y="352.4" font-size="6.1" stroke="#231f20" stroke-width="0.18"><tspan font-style="italic">P</tspan> = .80</text>
<line x1="389.3" y1="354" x2="408.8" y2="354" stroke="#444" stroke-width="0.6"/>
<line x1="411.6" y1="354" x2="431.1" y2="354" stroke="#444" stroke-width="0.6"/>
<text x="409.5" y="360" font-size="6.1" text-anchor="middle" stroke="#231f20" stroke-width="0.18"><tspan font-style="italic">P</tspan> = .01</text>
<line x1="392.5" y1="361.7" x2="426.5" y2="361.7" stroke="#444" stroke-width="0.6"/>
<text x="468.4" y="352.4" font-size="6.1" text-anchor="end" stroke="#231f20" stroke-width="0.18"><tspan font-style="italic">P</tspan> = .94</text>
<text x="471.2" y="352.4" font-size="6.1" stroke="#231f20" stroke-width="0.18"><tspan font-style="italic">P</tspan> = .44</text>
<line x1="448.9" y1="354" x2="468.4" y2="354" stroke="#444" stroke-width="0.6"/>
<line x1="471.2" y1="354" x2="490.7" y2="354" stroke="#444" stroke-width="0.6"/>
<text x="468.9" y="360" font-size="6.1" text-anchor="middle" stroke="#231f20" stroke-width="0.18"><tspan font-style="italic">P</tspan> = .78</text>
<line x1="451.8" y1="361.7" x2="486" y2="361.7" stroke="#444" stroke-width="0.6"/>
<rect x="265" y="405.76" width="14" height="4.59" fill="#d0eec6"/>
<g fill="#2f8f35"><rect x="270.77" y="403.5" width="1.6" height="1.6"/><rect x="275.91" y="403.09" width="1.6" height="1.6"/><rect x="265.72" y="407.21" width="1.6" height="1.6"/><rect x="276.13" y="404.73" width="1.6" height="1.6"/><rect x="270.21" y="409.5" width="1.6" height="1.6"/><rect x="270.16" y="408.69" width="1.6" height="1.6"/><rect x="266.59" y="408.07" width="1.6" height="1.6"/><rect x="268.34" y="410.09" width="1.6" height="1.6"/><rect x="273.82" y="410.06" width="1.6" height="1.6"/><rect x="273.2" y="402.3" width="1.6" height="1.6"/><rect x="267.29" y="410.6" width="1.6" height="1.6"/><rect x="269.46" y="405.01" width="1.6" height="1.6"/><rect x="267.17" y="410.03" width="1.6" height="1.6"/><rect x="267.82" y="405.5" width="1.6" height="1.6"/><rect x="268.06" y="408.2" width="1.6" height="1.6"/><rect x="269.31" y="395.69" width="1.6" height="1.6"/></g>
<line x1="265" y1="408.69" x2="279" y2="408.69" stroke="#2f8f35" stroke-width="1.1"/>
<rect x="283.4" y="398.83" width="14" height="10.35" fill="#f7c8cc"/>
<line x1="290.4" y1="398.83" x2="290.4" y2="386.14" stroke="#b3102e" stroke-width="0.7"/>
<line x1="290.4" y1="409.19" x2="290.4" y2="413.69" stroke="#b3102e" stroke-width="0.7"/>
<g fill="#b3102e"><rect x="290.99" y="385.39" width="1.6" height="1.6"/><rect x="288.97" y="394.11" width="1.6" height="1.6"/><rect x="294.73" y="403.44" width="1.6" height="1.6"/><rect x="288.05" y="390" width="1.6" height="1.6"/><rect x="291.41" y="401.24" width="1.6" height="1.6"/><rect x="291.08" y="398.65" width="1.6" height="1.6"/><rect x="288.21" y="397.75" width="1.6" height="1.6"/><rect x="289.85" y="400.64" width="1.6" height="1.6"/><rect x="291.58" y="408.49" width="1.6" height="1.6"/><rect x="294.16" y="399.05" width="1.6" height="1.6"/><rect x="289.58" y="408.94" width="1.6" height="1.6"/><rect x="288.07" y="387.22" width="1.6" height="1.6"/><rect x="294.93" y="398.7" width="1.6" height="1.6"/><rect x="284.64" y="392.57" width="1.6" height="1.6"/><rect x="293.35" y="403.15" width="1.6" height="1.6"/><rect x="291.66" y="387.86" width="1.6" height="1.6"/><rect x="290.24" y="402.29" width="1.6" height="1.6"/><rect x="289.01" y="398.25" width="1.6" height="1.6"/><rect x="292.41" y="408.49" width="1.6" height="1.6"/><rect x="293.98" y="396.63" width="1.6" height="1.6"/><rect x="292.16" y="396.81" width="1.6" height="1.6"/><rect x="292.4" y="410.29" width="1.6" height="1.6"/><rect x="284.39" y="410.15" width="1.6" height="1.6"/><rect x="287.64" y="391.1" width="1.6" height="1.6"/><rect x="285.53" y="400.47" width="1.6" height="1.6"/><rect x="294.67" y="389.26" width="1.6" height="1.6"/><rect x="293.98" y="398.27" width="1.6" height="1.6"/><rect x="285.62" y="395.03" width="1.6" height="1.6"/><rect x="290.58" y="409.55" width="1.6" height="1.6"/><rect x="290.46" y="395.78" width="1.6" height="1.6"/><rect x="284.52" y="398.69" width="1.6" height="1.6"/><rect x="288.39" y="398.03" width="1.6" height="1.6"/><rect x="292.37" y="408.28" width="1.6" height="1.6"/><rect x="291.18" y="409" width="1.6" height="1.6"/><rect x="287.15" y="404.55" width="1.6" height="1.6"/><rect x="292.54" y="406.26" width="1.6" height="1.6"/><rect x="287.26" y="410.72" width="1.6" height="1.6"/><rect x="290.1" y="392.14" width="1.6" height="1.6"/><rect x="288.71" y="407.83" width="1.6" height="1.6"/><rect x="294.96" y="403.94" width="1.6" height="1.6"/><rect x="291.27" y="404.19" width="1.6" height="1.6"/><rect x="293.01" y="397.6" width="1.6" height="1.6"/><rect x="291.58" y="401.87" width="1.6" height="1.6"/><rect x="288.26" y="397.19" width="1.6" height="1.6"/><rect x="294.79" y="402.31" width="1.6" height="1.6"/><rect x="291.95" y="406.96" width="1.6" height="1.6"/><rect x="291.74" y="392.27" width="1.6" height="1.6"/><rect x="287.11" y="395.17" width="1.6" height="1.6"/><rect x="285.81" y="402.32" width="1.6" height="1.6"/><rect x="290.44" y="398.08" width="1.6" height="1.6"/><rect x="293.25" y="408.94" width="1.6" height="1.6"/><rect x="292.89" y="410.01" width="1.6" height="1.6"/><rect x="287.89" y="411.56" width="1.6" height="1.6"/><rect x="285.57" y="394.44" width="1.6" height="1.6"/><rect x="289.78" y="396.64" width="1.6" height="1.6"/><rect x="293.83" y="407.75" width="1.6" height="1.6"/><rect x="285.82" y="398.58" width="1.6" height="1.6"/><rect x="292.27" y="400.53" width="1.6" height="1.6"/><rect x="285.91" y="387.43" width="1.6" height="1.6"/><rect x="287.49" y="401.74" width="1.6" height="1.6"/><rect x="284.6" y="380.33" width="1.6" height="1.6"/><rect x="287.33" y="374.99" width="1.6" height="1.6"/><rect x="288.29" y="368.64" width="1.6" height="1.6"/><rect x="294.83" y="383.67" width="1.6" height="1.6"/><rect x="294.78" y="382" width="1.6" height="1.6"/></g>
<line x1="283.4" y1="402.84" x2="297.4" y2="402.84" stroke="#b3102e" stroke-width="1.1"/>
<rect x="301.8" y="396.49" width="14" height="10.44" fill="#c6d1eb"/>
<line x1="308.8" y1="396.49" x2="308.8" y2="382.8" stroke="#1a3669" stroke-width="0.7"/>
<line x1="308.8" y1="406.93" x2="308.8" y2="414.95" stroke="#1a3669" stroke-width="0.7"/>
<g fill="#1a3669"><rect x="304.91" y="410.62" width="1.6" height="1.6"/><rect x="303.45" y="394.67" width="1.6" height="1.6"/><rect x="309.97" y="403.9" width="1.6" height="1.6"/><rect x="313.32" y="411.02" width="1.6" height="1.6"/><rect x="311.38" y="404.17" width="1.6" height="1.6"/><rect x="306.43" y="394.04" width="1.6" height="1.6"/><rect x="310.23" y="406.65" width="1.6" height="1.6"/><rect x="303.21" y="401.87" width="1.6" height="1.6"/><rect x="311.79" y="396.88" width="1.6" height="1.6"/><rect x="306.04" y="405.36" width="1.6" height="1.6"/><rect x="302.44" y="391.6" width="1.6" height="1.6"/><rect x="309.45" y="397.45" width="1.6" height="1.6"/><rect x="303.95" y="393.95" width="1.6" height="1.6"/><rect x="305.48" y="401.46" width="1.6" height="1.6"/><rect x="303.06" y="399.5" width="1.6" height="1.6"/><rect x="307.39" y="399.65" width="1.6" height="1.6"/><rect x="308.62" y="395.61" width="1.6" height="1.6"/><rect x="311.44" y="390.18" width="1.6" height="1.6"/><rect x="302.84" y="401.34" width="1.6" height="1.6"/><rect x="311.67" y="404.89" width="1.6" height="1.6"/><rect x="303.64" y="408.88" width="1.6" height="1.6"/><rect x="304.91" y="388.34" width="1.6" height="1.6"/><rect x="309.45" y="402.02" width="1.6" height="1.6"/><rect x="306.21" y="410.64" width="1.6" height="1.6"/><rect x="306.11" y="395.87" width="1.6" height="1.6"/><rect x="308.77" y="397.34" width="1.6" height="1.6"/><rect x="304.84" y="392.6" width="1.6" height="1.6"/><rect x="311.29" y="387.19" width="1.6" height="1.6"/><rect x="304.74" y="404.13" width="1.6" height="1.6"/><rect x="311.8" y="393.14" width="1.6" height="1.6"/><rect x="311.46" y="406.87" width="1.6" height="1.6"/><rect x="308.42" y="398.25" width="1.6" height="1.6"/><rect x="302.74" y="396.22" width="1.6" height="1.6"/><rect x="311.11" y="410.39" width="1.6" height="1.6"/><rect x="302.72" y="409.83" width="1.6" height="1.6"/><rect x="308.05" y="396.49" width="1.6" height="1.6"/><rect x="307.15" y="397.95" width="1.6" height="1.6"/><rect x="303.11" y="403.21" width="1.6" height="1.6"/><rect x="309.46" y="401.83" width="1.6" height="1.6"/><rect x="310.51" y="385.37" width="1.6" height="1.6"/><rect x="308.95" y="408.08" width="1.6" height="1.6"/><rect x="306.88" y="391.17" width="1.6" height="1.6"/><rect x="308.14" y="384.15" width="1.6" height="1.6"/><rect x="308.99" y="396.65" width="1.6" height="1.6"/><rect x="304.93" y="396.34" width="1.6" height="1.6"/><rect x="312.12" y="407.88" width="1.6" height="1.6"/><rect x="313.55" y="397.77" width="1.6" height="1.6"/><rect x="311.41" y="405.79" width="1.6" height="1.6"/><rect x="313.17" y="396.63" width="1.6" height="1.6"/><rect x="306.09" y="405.05" width="1.6" height="1.6"/></g>
<line x1="301.8" y1="401.84" x2="315.8" y2="401.84" stroke="#1a3669" stroke-width="1.1"/>
<rect x="324.2" y="403.51" width="14" height="5.68" fill="#d0eec6"/>
<g fill="#2f8f35"><rect x="324.95" y="402.66" width="1.6" height="1.6"/><rect x="334.47" y="408.03" width="1.6" height="1.6"/><rect x="332.89" y="406.56" width="1.6" height="1.6"/><rect x="331.86" y="404.35" width="1.6" height="1.6"/><rect x="327.75" y="407.88" width="1.6" height="1.6"/><rect x="328.78" y="407.63" width="1.6" height="1.6"/><rect x="326.63" y="409.19" width="1.6" height="1.6"/><rect x="331.88" y="404.4" width="1.6" height="1.6"/><rect x="335.9" y="409.3" width="1.6" height="1.6"/><rect x="328.22" y="410.91" width="1.6" height="1.6"/><rect x="325.3" y="403.61" width="1.6" height="1.6"/><rect x="326.76" y="400.82" width="1.6" height="1.6"/><rect x="328.78" y="400.08" width="1.6" height="1.6"/><rect x="334.87" y="403.55" width="1.6" height="1.6"/><rect x="333.81" y="411.18" width="1.6" height="1.6"/></g>
<line x1="324.2" y1="406.51" x2="338.2" y2="406.51" stroke="#2f8f35" stroke-width="1.1"/>
<rect x="342.8" y="397.83" width="14" height="11.36" fill="#f7c8cc"/>
<line x1="349.8" y1="397.83" x2="349.8" y2="383.8" stroke="#b3102e" stroke-width="0.7"/>
<line x1="349.8" y1="409.19" x2="349.8" y2="414.95" stroke="#b3102e" stroke-width="0.7"/>
<g fill="#b3102e"><rect x="346.66" y="407.81" width="1.6" height="1.6"/><rect x="347.85" y="412.59" width="1.6" height="1.6"/><rect x="343.49" y="392.82" width="1.6" height="1.6"/><rect x="351.74" y="384.93" width="1.6" height="1.6"/><rect x="343.67" y="392.75" width="1.6" height="1.6"/><rect x="352.69" y="396.5" width="1.6" height="1.6"/><rect x="352.49" y="410.29" width="1.6" height="1.6"/><rect x="348.53" y="401.52" width="1.6" height="1.6"/><rect x="344.77" y="408.27" width="1.6" height="1.6"/><rect x="350.68" y="388.92" width="1.6" height="1.6"/><rect x="345.72" y="383.44" width="1.6" height="1.6"/><rect x="348.21" y="404.23" width="1.6" height="1.6"/><rect x="344.64" y="403.78" width="1.6" height="1.6"/><rect x="354.34" y="396.47" width="1.6" height="1.6"/><rect x="349.52" y="412.19" width="1.6" height="1.6"/><rect x="347.35" y="400.56" width="1.6" height="1.6"/><rect x="344.45" y="409.09" width="1.6" height="1.6"/><rect x="351.58" y="392.93" width="1.6" height="1.6"/><rect x="352.92" y="408.84" width="1.6" height="1.6"/><rect x="352.9" y="402.3" width="1.6" height="1.6"/><rect x="344.54" y="404.84" width="1.6" height="1.6"/><rect x="347.52" y="392.63" width="1.6" height="1.6"/><rect x="346.79" y="401.54" width="1.6" height="1.6"/><rect x="351.94" y="408.77" width="1.6" height="1.6"/><rect x="345.06" y="407.8" width="1.6" height="1.6"/><rect x="350.19" y="401.99" width="1.6" height="1.6"/><rect x="354.36" y="410.82" width="1.6" height="1.6"/><rect x="352.01" y="399.09" width="1.6" height="1.6"/><rect x="343.48" y="400.21" width="1.6" height="1.6"/><rect x="344.24" y="409.55" width="1.6" height="1.6"/><rect x="344.67" y="410.75" width="1.6" height="1.6"/><rect x="351.16" y="404.57" width="1.6" height="1.6"/><rect x="350.11" y="401.35" width="1.6" height="1.6"/><rect x="349.23" y="398.78" width="1.6" height="1.6"/><rect x="348.5" y="407.58" width="1.6" height="1.6"/><rect x="347.96" y="390.85" width="1.6" height="1.6"/><rect x="350.24" y="412.03" width="1.6" height="1.6"/><rect x="350.66" y="395.71" width="1.6" height="1.6"/><rect x="353.66" y="403.91" width="1.6" height="1.6"/><rect x="351.61" y="390.27" width="1.6" height="1.6"/><rect x="352.32" y="402.49" width="1.6" height="1.6"/><rect x="353.62" y="408.48" width="1.6" height="1.6"/><rect x="352.78" y="396.95" width="1.6" height="1.6"/><rect x="351.43" y="412.02" width="1.6" height="1.6"/><rect x="343.74" y="395.79" width="1.6" height="1.6"/><rect x="351.03" y="397.43" width="1.6" height="1.6"/><rect x="352.92" y="397.49" width="1.6" height="1.6"/><rect x="348.22" y="407.51" width="1.6" height="1.6"/><rect x="353.24" y="409.41" width="1.6" height="1.6"/><rect x="345.41" y="408.49" width="1.6" height="1.6"/><rect x="353.96" y="401.65" width="1.6" height="1.6"/><rect x="348.35" y="396.26" width="1.6" height="1.6"/><rect x="351.31" y="402.11" width="1.6" height="1.6"/><rect x="346.23" y="385.4" width="1.6" height="1.6"/><rect x="346.77" y="397.03" width="1.6" height="1.6"/><rect x="347.3" y="391.55" width="1.6" height="1.6"/><rect x="347.03" y="392.37" width="1.6" height="1.6"/><rect x="344.46" y="399.33" width="1.6" height="1.6"/><rect x="348.36" y="396.8" width="1.6" height="1.6"/><rect x="354.39" y="410.38" width="1.6" height="1.6"/><rect x="350.73" y="372.81" width="1.6" height="1.6"/><rect x="353.84" y="369.47" width="1.6" height="1.6"/><rect x="351.94" y="380.33" width="1.6" height="1.6"/><rect x="352.77" y="377.82" width="1.6" height="1.6"/></g>
<line x1="342.8" y1="403.51" x2="356.8" y2="403.51" stroke="#b3102e" stroke-width="1.1"/>
<rect x="361.2" y="401.84" width="14" height="8.52" fill="#c6d1eb"/>
<line x1="368.2" y1="401.84" x2="368.2" y2="391.15" stroke="#1a3669" stroke-width="0.7"/>
<line x1="368.2" y1="410.35" x2="368.2" y2="414.95" stroke="#1a3669" stroke-width="0.7"/>
<g fill="#1a3669"><rect x="368.18" y="394.25" width="1.6" height="1.6"/><rect x="364.3" y="408.6" width="1.6" height="1.6"/><rect x="362.53" y="409.47" width="1.6" height="1.6"/><rect x="361.97" y="409.93" width="1.6" height="1.6"/><rect x="371.35" y="399.24" width="1.6" height="1.6"/><rect x="363.26" y="393.93" width="1.6" height="1.6"/><rect x="372.59" y="393.64" width="1.6" height="1.6"/><rect x="365.87" y="405.22" width="1.6" height="1.6"/><rect x="369.89" y="399.37" width="1.6" height="1.6"/><rect x="363.35" y="404" width="1.6" height="1.6"/><rect x="370.63" y="401.2" width="1.6" height="1.6"/><rect x="364.62" y="411.2" width="1.6" height="1.6"/><rect x="365.9" y="403.2" width="1.6" height="1.6"/><rect x="367.66" y="398.5" width="1.6" height="1.6"/><rect x="363.05" y="395.14" width="1.6" height="1.6"/><rect x="364.58" y="400.81" width="1.6" height="1.6"/><rect x="370.71" y="412.23" width="1.6" height="1.6"/><rect x="365" y="401.03" width="1.6" height="1.6"/><rect x="366.06" y="406.81" width="1.6" height="1.6"/><rect x="370.37" y="400.37" width="1.6" height="1.6"/><rect x="364.31" y="406.92" width="1.6" height="1.6"/><rect x="363.97" y="402.23" width="1.6" height="1.6"/><rect x="364.25" y="399.89" width="1.6" height="1.6"/><rect x="366.1" y="409.45" width="1.6" height="1.6"/><rect x="365.89" y="404.74" width="1.6" height="1.6"/><rect x="368.98" y="405.85" width="1.6" height="1.6"/><rect x="367.08" y="402.95" width="1.6" height="1.6"/><rect x="371.54" y="402.92" width="1.6" height="1.6"/><rect x="362.37" y="404.29" width="1.6" height="1.6"/><rect x="369.23" y="413.46" width="1.6" height="1.6"/><rect x="371.17" y="411.89" width="1.6" height="1.6"/><rect x="364.43" y="413.15" width="1.6" height="1.6"/><rect x="362.13" y="405.83" width="1.6" height="1.6"/><rect x="366.71" y="404.44" width="1.6" height="1.6"/><rect x="363.1" y="400.36" width="1.6" height="1.6"/><rect x="366.95" y="412.16" width="1.6" height="1.6"/><rect x="369.77" y="406.91" width="1.6" height="1.6"/><rect x="362.85" y="406.76" width="1.6" height="1.6"/><rect x="363.12" y="409.77" width="1.6" height="1.6"/><rect x="367.17" y="406.36" width="1.6" height="1.6"/><rect x="363.75" y="410.12" width="1.6" height="1.6"/><rect x="364.38" y="410.03" width="1.6" height="1.6"/><rect x="366.73" y="395.4" width="1.6" height="1.6"/><rect x="363.13" y="409.52" width="1.6" height="1.6"/><rect x="362.56" y="409.87" width="1.6" height="1.6"/><rect x="365.84" y="410.72" width="1.6" height="1.6"/><rect x="367.05" y="402.62" width="1.6" height="1.6"/><rect x="372.29" y="412.97" width="1.6" height="1.6"/><rect x="368.01" y="409.61" width="1.6" height="1.6"/><rect x="362.6" y="407.05" width="1.6" height="1.6"/><rect x="364.29" y="387.84" width="1.6" height="1.6"/><rect x="370.14" y="385.34" width="1.6" height="1.6"/><rect x="368.1" y="383.67" width="1.6" height="1.6"/></g>
<line x1="361.2" y1="406.51" x2="375.2" y2="406.51" stroke="#1a3669" stroke-width="1.1"/>
<rect x="384.5" y="408.27" width="14" height="3.34" fill="#d0eec6"/>
<g fill="#2f8f35"><rect x="393.39" y="404.4" width="1.6" height="1.6"/><rect x="391.12" y="407.37" width="1.6" height="1.6"/><rect x="387.72" y="406.31" width="1.6" height="1.6"/><rect x="390.69" y="412.29" width="1.6" height="1.6"/><rect x="391.88" y="407.19" width="1.6" height="1.6"/><rect x="392.39" y="412.07" width="1.6" height="1.6"/><rect x="386.72" y="406.52" width="1.6" height="1.6"/><rect x="394.1" y="409.09" width="1.6" height="1.6"/><rect x="395.69" y="410.3" width="1.6" height="1.6"/><rect x="393.39" y="411.33" width="1.6" height="1.6"/><rect x="394.7" y="410.62" width="1.6" height="1.6"/><rect x="389.22" y="406.46" width="1.6" height="1.6"/><rect x="395.21" y="412.81" width="1.6" height="1.6"/><rect x="387.14" y="408.32" width="1.6" height="1.6"/><rect x="387.64" y="411.66" width="1.6" height="1.6"/></g>
<line x1="384.5" y1="410.02" x2="398.5" y2="410.02" stroke="#2f8f35" stroke-width="1.1"/>
<rect x="403" y="401.84" width="14" height="8.52" fill="#f7c8cc"/>
<line x1="410" y1="401.84" x2="410" y2="393.65" stroke="#b3102e" stroke-width="0.7"/>
<line x1="410" y1="410.35" x2="410" y2="413.69" stroke="#b3102e" stroke-width="0.7"/>
<g fill="#b3102e"><rect x="412.4" y="401.47" width="1.6" height="1.6"/><rect x="406.21" y="411.75" width="1.6" height="1.6"/><rect x="408.42" y="411.02" width="1.6" height="1.6"/><rect x="414.33" y="411.84" width="1.6" height="1.6"/><rect x="405.92" y="402.88" width="1.6" height="1.6"/><rect x="408.18" y="399.13" width="1.6" height="1.6"/><rect x="414.37" y="405.41" width="1.6" height="1.6"/><rect x="413.68" y="400.24" width="1.6" height="1.6"/><rect x="406.2" y="407.46" width="1.6" height="1.6"/><rect x="411.83" y="398.41" width="1.6" height="1.6"/><rect x="407.63" y="397.22" width="1.6" height="1.6"/><rect x="411.03" y="409.95" width="1.6" height="1.6"/><rect x="412.19" y="409.56" width="1.6" height="1.6"/><rect x="405.03" y="408.63" width="1.6" height="1.6"/><rect x="406.09" y="399.7" width="1.6" height="1.6"/><rect x="406.01" y="408.15" width="1.6" height="1.6"/><rect x="406.58" y="405.36" width="1.6" height="1.6"/><rect x="404" y="408.89" width="1.6" height="1.6"/><rect x="405.12" y="401.04" width="1.6" height="1.6"/><rect x="408.15" y="404.32" width="1.6" height="1.6"/><rect x="408.31" y="407.26" width="1.6" height="1.6"/><rect x="404.47" y="404.85" width="1.6" height="1.6"/><rect x="410.12" y="412.14" width="1.6" height="1.6"/><rect x="414.15" y="400.65" width="1.6" height="1.6"/><rect x="410.06" y="410.78" width="1.6" height="1.6"/><rect x="407.58" y="401.54" width="1.6" height="1.6"/><rect x="411.49" y="411.69" width="1.6" height="1.6"/><rect x="408.5" y="410.6" width="1.6" height="1.6"/><rect x="405.56" y="407.88" width="1.6" height="1.6"/><rect x="409" y="396.81" width="1.6" height="1.6"/><rect x="403.8" y="393.41" width="1.6" height="1.6"/><rect x="411.17" y="405.7" width="1.6" height="1.6"/><rect x="405.4" y="409.34" width="1.6" height="1.6"/><rect x="407.74" y="400.82" width="1.6" height="1.6"/><rect x="414.38" y="411.49" width="1.6" height="1.6"/><rect x="412.19" y="405.6" width="1.6" height="1.6"/><rect x="412.96" y="399" width="1.6" height="1.6"/><rect x="410.79" y="401.71" width="1.6" height="1.6"/><rect x="410.71" y="396.9" width="1.6" height="1.6"/><rect x="411.49" y="404.95" width="1.6" height="1.6"/><rect x="414.42" y="410.4" width="1.6" height="1.6"/><rect x="405.8" y="401.92" width="1.6" height="1.6"/><rect x="412.18" y="393.34" width="1.6" height="1.6"/><rect x="406.97" y="412.34" width="1.6" height="1.6"/><rect x="406.46" y="397.71" width="1.6" height="1.6"/><rect x="412.8" y="410.31" width="1.6" height="1.6"/><rect x="410.33" y="408.59" width="1.6" height="1.6"/><rect x="413.12" y="407.41" width="1.6" height="1.6"/><rect x="413.4" y="405.14" width="1.6" height="1.6"/><rect x="410.19" y="402.7" width="1.6" height="1.6"/><rect x="405.82" y="406.81" width="1.6" height="1.6"/><rect x="403.77" y="401.03" width="1.6" height="1.6"/><rect x="409.59" y="406.78" width="1.6" height="1.6"/><rect x="411.73" y="402.6" width="1.6" height="1.6"/><rect x="406.65" y="409.65" width="1.6" height="1.6"/><rect x="404.38" y="391.19" width="1.6" height="1.6"/><rect x="403.65" y="389.51" width="1.6" height="1.6"/><rect x="405.54" y="394.52" width="1.6" height="1.6"/></g>
<line x1="403" y1="406.26" x2="417" y2="406.26" stroke="#b3102e" stroke-width="1.1"/>
<rect x="421.5" y="402.42" width="14" height="7.93" fill="#c6d1eb"/>
<line x1="428.5" y1="402.42" x2="428.5" y2="394.49" stroke="#1a3669" stroke-width="0.7"/>
<line x1="428.5" y1="410.35" x2="428.5" y2="414.95" stroke="#1a3669" stroke-width="0.7"/>
<g fill="#1a3669"><rect x="426.43" y="405.37" width="1.6" height="1.6"/><rect x="427.52" y="412.33" width="1.6" height="1.6"/><rect x="424.93" y="401.67" width="1.6" height="1.6"/><rect x="429.59" y="413.14" width="1.6" height="1.6"/><rect x="424.59" y="394.07" width="1.6" height="1.6"/><rect x="425.66" y="412.01" width="1.6" height="1.6"/><rect x="427.44" y="404.18" width="1.6" height="1.6"/><rect x="430.08" y="407.56" width="1.6" height="1.6"/><rect x="430.73" y="409.33" width="1.6" height="1.6"/><rect x="426.26" y="412.86" width="1.6" height="1.6"/><rect x="427.1" y="410.85" width="1.6" height="1.6"/><rect x="432.49" y="404.39" width="1.6" height="1.6"/><rect x="432.56" y="396.84" width="1.6" height="1.6"/><rect x="429.03" y="407.5" width="1.6" height="1.6"/><rect x="423.28" y="409.79" width="1.6" height="1.6"/><rect x="427.2" y="405.19" width="1.6" height="1.6"/><rect x="429.23" y="410.6" width="1.6" height="1.6"/><rect x="425.22" y="406.56" width="1.6" height="1.6"/><rect x="422.52" y="410.23" width="1.6" height="1.6"/><rect x="433.09" y="401.44" width="1.6" height="1.6"/><rect x="432.29" y="404.66" width="1.6" height="1.6"/><rect x="423.54" y="402.36" width="1.6" height="1.6"/><rect x="427.32" y="400.86" width="1.6" height="1.6"/><rect x="429.04" y="410.7" width="1.6" height="1.6"/><rect x="425.46" y="404.86" width="1.6" height="1.6"/><rect x="422.87" y="411" width="1.6" height="1.6"/><rect x="430.51" y="410.81" width="1.6" height="1.6"/><rect x="430.73" y="412.37" width="1.6" height="1.6"/><rect x="427" y="407.33" width="1.6" height="1.6"/><rect x="423.06" y="405.26" width="1.6" height="1.6"/><rect x="426.51" y="404.55" width="1.6" height="1.6"/><rect x="423.15" y="406.88" width="1.6" height="1.6"/><rect x="432.89" y="403.07" width="1.6" height="1.6"/><rect x="422.67" y="401" width="1.6" height="1.6"/><rect x="425.33" y="406.79" width="1.6" height="1.6"/><rect x="430.7" y="408.9" width="1.6" height="1.6"/><rect x="423.61" y="410.32" width="1.6" height="1.6"/><rect x="423.29" y="396.97" width="1.6" height="1.6"/><rect x="422.89" y="396.13" width="1.6" height="1.6"/><rect x="423.94" y="408.24" width="1.6" height="1.6"/><rect x="428.06" y="405.17" width="1.6" height="1.6"/><rect x="431.43" y="405.05" width="1.6" height="1.6"/><rect x="423.99" y="411.27" width="1.6" height="1.6"/><rect x="424.05" y="409.78" width="1.6" height="1.6"/><rect x="430.67" y="399.32" width="1.6" height="1.6"/><rect x="426.87" y="413.11" width="1.6" height="1.6"/><rect x="425.89" y="403.42" width="1.6" height="1.6"/><rect x="423.48" y="406.56" width="1.6" height="1.6"/><rect x="424.82" y="402.47" width="1.6" height="1.6"/><rect x="432.98" y="413.43" width="1.6" height="1.6"/><rect x="423.41" y="392.02" width="1.6" height="1.6"/><rect x="425.01" y="390.02" width="1.6" height="1.6"/></g>
<line x1="421.5" y1="406.18" x2="435.5" y2="406.18" stroke="#1a3669" stroke-width="1.1"/>
<rect x="443.8" y="403.68" width="14" height="7.85" fill="#d0eec6"/>
<line x1="450.8" y1="403.68" x2="450.8" y2="396.49" stroke="#2f8f35" stroke-width="0.7"/>
<line x1="450.8" y1="411.52" x2="450.8" y2="414.11" stroke="#2f8f35" stroke-width="0.7"/>
<g fill="#2f8f35"><rect x="453.6" y="403.36" width="1.6" height="1.6"/><rect x="454.07" y="400.71" width="1.6" height="1.6"/><rect x="450.84" y="399.67" width="1.6" height="1.6"/><rect x="444.52" y="409.17" width="1.6" height="1.6"/><rect x="452.95" y="404.07" width="1.6" height="1.6"/><rect x="451.19" y="412.49" width="1.6" height="1.6"/><rect x="454.47" y="402.67" width="1.6" height="1.6"/><rect x="455.06" y="401.6" width="1.6" height="1.6"/><rect x="448.06" y="412.32" width="1.6" height="1.6"/><rect x="453.9" y="407.42" width="1.6" height="1.6"/><rect x="453.57" y="410.99" width="1.6" height="1.6"/><rect x="447.38" y="410.15" width="1.6" height="1.6"/><rect x="448.5" y="405.84" width="1.6" height="1.6"/><rect x="448.6" y="411.91" width="1.6" height="1.6"/><rect x="448.35" y="387.26" width="1.6" height="1.6"/></g>
<line x1="443.8" y1="408.18" x2="457.8" y2="408.18" stroke="#2f8f35" stroke-width="1.1"/>
<rect x="462.6" y="404.34" width="14" height="7.18" fill="#f7c8cc"/>
<line x1="469.6" y1="404.34" x2="469.6" y2="397.83" stroke="#b3102e" stroke-width="0.7"/>
<line x1="469.6" y1="411.52" x2="469.6" y2="414.95" stroke="#b3102e" stroke-width="0.7"/>
<g fill="#b3102e"><rect x="474.4" y="410.38" width="1.6" height="1.6"/><rect x="469.48" y="410.94" width="1.6" height="1.6"/><rect x="472.11" y="408.76" width="1.6" height="1.6"/><rect x="465.25" y="399.38" width="1.6" height="1.6"/><rect x="473.39" y="410.92" width="1.6" height="1.6"/><rect x="469.38" y="397.13" width="1.6" height="1.6"/><rect x="471.71" y="404.55" width="1.6" height="1.6"/><rect x="472.93" y="402.82" width="1.6" height="1.6"/><rect x="467.25" y="406.08" width="1.6" height="1.6"/><rect x="473.55" y="403.28" width="1.6" height="1.6"/><rect x="465.52" y="406.26" width="1.6" height="1.6"/><rect x="463.46" y="402.35" width="1.6" height="1.6"/><rect x="468.83" y="398.54" width="1.6" height="1.6"/><rect x="473.27" y="403.27" width="1.6" height="1.6"/><rect x="473.29" y="399.48" width="1.6" height="1.6"/><rect x="473.9" y="404.96" width="1.6" height="1.6"/><rect x="468.92" y="411.04" width="1.6" height="1.6"/><rect x="473.65" y="405.77" width="1.6" height="1.6"/><rect x="469.47" y="408.31" width="1.6" height="1.6"/><rect x="464.81" y="398.33" width="1.6" height="1.6"/><rect x="470.27" y="412.54" width="1.6" height="1.6"/><rect x="472.2" y="413.46" width="1.6" height="1.6"/><rect x="467.95" y="410.64" width="1.6" height="1.6"/><rect x="469.94" y="402.94" width="1.6" height="1.6"/><rect x="466.1" y="413.63" width="1.6" height="1.6"/><rect x="466.29" y="406.82" width="1.6" height="1.6"/><rect x="467.91" y="409.48" width="1.6" height="1.6"/><rect x="468.95" y="397.5" width="1.6" height="1.6"/><rect x="468.44" y="408.77" width="1.6" height="1.6"/><rect x="464.23" y="401.59" width="1.6" height="1.6"/><rect x="463.26" y="399.57" width="1.6" height="1.6"/><rect x="467.01" y="408.02" width="1.6" height="1.6"/><rect x="471.23" y="407.2" width="1.6" height="1.6"/><rect x="471.58" y="404.24" width="1.6" height="1.6"/><rect x="465.85" y="405.65" width="1.6" height="1.6"/><rect x="466.06" y="408" width="1.6" height="1.6"/><rect x="468.99" y="406.78" width="1.6" height="1.6"/><rect x="465.17" y="409.6" width="1.6" height="1.6"/><rect x="469.95" y="399.9" width="1.6" height="1.6"/><rect x="473.33" y="410.93" width="1.6" height="1.6"/><rect x="465.46" y="411.78" width="1.6" height="1.6"/><rect x="469.76" y="408.51" width="1.6" height="1.6"/><rect x="471.27" y="410.44" width="1.6" height="1.6"/><rect x="471.59" y="404.28" width="1.6" height="1.6"/><rect x="471.18" y="402.29" width="1.6" height="1.6"/><rect x="471.16" y="411.36" width="1.6" height="1.6"/><rect x="466.25" y="402.97" width="1.6" height="1.6"/><rect x="472.59" y="397.11" width="1.6" height="1.6"/><rect x="473.56" y="409.55" width="1.6" height="1.6"/><rect x="463.79" y="403.83" width="1.6" height="1.6"/><rect x="473.77" y="412.67" width="1.6" height="1.6"/><rect x="468.16" y="408.46" width="1.6" height="1.6"/><rect x="464.17" y="411.9" width="1.6" height="1.6"/><rect x="463.98" y="404.9" width="1.6" height="1.6"/><rect x="472.12" y="410.83" width="1.6" height="1.6"/><rect x="470.79" y="395.36" width="1.6" height="1.6"/><rect x="464.79" y="393.69" width="1.6" height="1.6"/><rect x="468.35" y="391.52" width="1.6" height="1.6"/></g>
<line x1="462.6" y1="408.43" x2="476.6" y2="408.43" stroke="#b3102e" stroke-width="1.1"/>
<rect x="481" y="401.17" width="14" height="12.52" fill="#c6d1eb"/>
<line x1="488" y1="401.17" x2="488" y2="388.64" stroke="#1a3669" stroke-width="0.7"/>
<line x1="488" y1="413.69" x2="488" y2="415.78" stroke="#1a3669" stroke-width="0.7"/>
<g fill="#1a3669"><rect x="489.81" y="400.39" width="1.6" height="1.6"/><rect x="489.67" y="408.67" width="1.6" height="1.6"/><rect x="491.8" y="414.31" width="1.6" height="1.6"/><rect x="492.21" y="413.86" width="1.6" height="1.6"/><rect x="487.77" y="405.26" width="1.6" height="1.6"/><rect x="491.93" y="414.26" width="1.6" height="1.6"/><rect x="482.6" y="414.32" width="1.6" height="1.6"/><rect x="491.96" y="410.11" width="1.6" height="1.6"/><rect x="486.46" y="413.73" width="1.6" height="1.6"/><rect x="483.76" y="407.53" width="1.6" height="1.6"/><rect x="489.98" y="407.69" width="1.6" height="1.6"/><rect x="491.22" y="411.8" width="1.6" height="1.6"/><rect x="485.92" y="406.37" width="1.6" height="1.6"/><rect x="482.64" y="414.65" width="1.6" height="1.6"/><rect x="491.38" y="400.6" width="1.6" height="1.6"/><rect x="490.04" y="410.94" width="1.6" height="1.6"/><rect x="488.29" y="410.96" width="1.6" height="1.6"/><rect x="492.54" y="404.64" width="1.6" height="1.6"/><rect x="482.03" y="413.1" width="1.6" height="1.6"/><rect x="482.23" y="407.34" width="1.6" height="1.6"/><rect x="482.99" y="392.83" width="1.6" height="1.6"/><rect x="481.84" y="409.42" width="1.6" height="1.6"/><rect x="489.53" y="397.46" width="1.6" height="1.6"/><rect x="488.66" y="411.25" width="1.6" height="1.6"/><rect x="482.86" y="402.74" width="1.6" height="1.6"/><rect x="483.41" y="400.73" width="1.6" height="1.6"/><rect x="483.63" y="413.95" width="1.6" height="1.6"/><rect x="488.42" y="391.76" width="1.6" height="1.6"/><rect x="489.13" y="402.63" width="1.6" height="1.6"/><rect x="492.46" y="407.69" width="1.6" height="1.6"/><rect x="485.64" y="404.56" width="1.6" height="1.6"/><rect x="492.56" y="414.52" width="1.6" height="1.6"/><rect x="486.47" y="391.6" width="1.6" height="1.6"/><rect x="485.98" y="414.04" width="1.6" height="1.6"/><rect x="484.44" y="410.16" width="1.6" height="1.6"/><rect x="484.21" y="407.96" width="1.6" height="1.6"/><rect x="492.52" y="409.96" width="1.6" height="1.6"/><rect x="492.74" y="394.25" width="1.6" height="1.6"/><rect x="489.51" y="411.06" width="1.6" height="1.6"/><rect x="483.56" y="409.54" width="1.6" height="1.6"/><rect x="483.61" y="398.91" width="1.6" height="1.6"/><rect x="483.31" y="410.76" width="1.6" height="1.6"/><rect x="485.53" y="407.86" width="1.6" height="1.6"/><rect x="489.86" y="405.45" width="1.6" height="1.6"/><rect x="482.26" y="408.37" width="1.6" height="1.6"/><rect x="487.54" y="413.37" width="1.6" height="1.6"/><rect x="489.22" y="414.32" width="1.6" height="1.6"/><rect x="481.98" y="413.19" width="1.6" height="1.6"/><rect x="486.52" y="414.24" width="1.6" height="1.6"/><rect x="490.46" y="414.16" width="1.6" height="1.6"/><rect x="488.05" y="386.17" width="1.6" height="1.6"/><rect x="486.66" y="383.67" width="1.6" height="1.6"/><rect x="491.47" y="382" width="1.6" height="1.6"/></g>
<line x1="481" y1="408.18" x2="495" y2="408.18" stroke="#1a3669" stroke-width="1.1"/>
<line x1="38.3" y1="395.8" x2="38.3" y2="533.5" stroke="#231f20" stroke-width="1.1"/>
<line x1="35" y1="526.8" x2="38.3" y2="526.8" stroke="#231f20" stroke-width="0.9"/>
<text x="32.8" y="529.1" font-size="6.4" text-anchor="end" fill="#222" stroke="#222" stroke-width="0.18">0</text>
<line x1="35" y1="497.8" x2="38.3" y2="497.8" stroke="#231f20" stroke-width="0.9"/>
<text x="32.8" y="500.1" font-size="6.4" text-anchor="end" fill="#222" stroke="#222" stroke-width="0.18">1</text>
<line x1="35" y1="468.8" x2="38.3" y2="468.8" stroke="#231f20" stroke-width="0.9"/>
<text x="32.8" y="471.1" font-size="6.4" text-anchor="end" fill="#222" stroke="#222" stroke-width="0.18">2</text>
<line x1="35" y1="439.8" x2="38.3" y2="439.8" stroke="#231f20" stroke-width="0.9"/>
<text x="32.8" y="442.1" font-size="6.4" text-anchor="end" fill="#222" stroke="#222" stroke-width="0.18">3</text>
<line x1="35" y1="410.8" x2="38.3" y2="410.8" stroke="#231f20" stroke-width="0.9"/>
<text x="32.8" y="413.1" font-size="6.4" text-anchor="end" fill="#222" stroke="#222" stroke-width="0.18">4</text>
<line x1="37.7" y1="533" x2="163.5" y2="533" stroke="#231f20" stroke-width="1.1"/>
<line x1="54.4" y1="533" x2="54.4" y2="535.5" stroke="#231f20" stroke-width="0.8"/>
<line x1="89.8" y1="533" x2="89.8" y2="535.5" stroke="#231f20" stroke-width="0.8"/>
<line x1="98.65" y1="533" x2="98.65" y2="535.5" stroke="#231f20" stroke-width="0.8"/>
<line x1="107.5" y1="533" x2="107.5" y2="535.5" stroke="#231f20" stroke-width="0.8"/>
<line x1="116.35" y1="533" x2="116.35" y2="535.5" stroke="#231f20" stroke-width="0.8"/>
<line x1="125.2" y1="533" x2="125.2" y2="535.5" stroke="#231f20" stroke-width="0.8"/>
<line x1="134.05" y1="533" x2="134.05" y2="535.5" stroke="#231f20" stroke-width="0.8"/>
<line x1="142.9" y1="533" x2="142.9" y2="535.5" stroke="#231f20" stroke-width="0.8"/>
<line x1="151.75" y1="533" x2="151.75" y2="535.5" stroke="#231f20" stroke-width="0.8"/>
<line x1="160.6" y1="533" x2="160.6" y2="535.5" stroke="#231f20" stroke-width="0.8"/>
<text x="56.2" y="545.6" font-size="6.2" text-anchor="middle" fill="#333" transform="rotate(-45 56.2 545.6)" stroke="#333" stroke-width="0.18">−4</text>
<text x="91.6" y="545.6" font-size="6.2" text-anchor="middle" fill="#333" transform="rotate(-45 91.6 545.6)" stroke="#333" stroke-width="0.18">−2</text>
<text x="109.3" y="545.6" font-size="6.2" text-anchor="middle" fill="#333" transform="rotate(-45 109.3 545.6)" stroke="#333" stroke-width="0.18">−1</text>
<text x="118.15" y="545.6" font-size="6.2" text-anchor="middle" fill="#333" transform="rotate(-45 118.15 545.6)" stroke="#333" stroke-width="0.18">−0.5</text>
<text x="127" y="545.6" font-size="6.2" text-anchor="middle" fill="#333" transform="rotate(-45 127 545.6)" stroke="#333" stroke-width="0.18">0</text>
<text x="135.85" y="545.6" font-size="6.2" text-anchor="middle" fill="#333" transform="rotate(-45 135.85 545.6)" stroke="#333" stroke-width="0.18">0.5</text>
<text x="144.7" y="545.6" font-size="6.2" text-anchor="middle" fill="#333" transform="rotate(-45 144.7 545.6)" stroke="#333" stroke-width="0.18">1</text>
<text x="162.4" y="545.6" font-size="6.2" text-anchor="middle" fill="#333" transform="rotate(-45 162.4 545.6)" stroke="#333" stroke-width="0.18">2</text>
<text x="100.9" y="559.8" font-size="7.3" text-anchor="middle" fill="#111" textLength="42.5" lengthAdjust="spacingAndGlyphs" stroke="#111" stroke-width="0.35">Log2 fold change</text>
<text x="24" y="466" font-size="7.8" text-anchor="middle" fill="#111" transform="rotate(-90 24 466)" textLength="70" lengthAdjust="spacingAndGlyphs" stroke="#111" stroke-width="0.2">-Log10 Corrected <tspan font-style="italic">P</tspan> value</text>
<line x1="116.35" y1="396" x2="116.35" y2="533" stroke="#111" stroke-width="0.8" stroke-dasharray="0.9 1.2"/>
<line x1="134.05" y1="396" x2="134.05" y2="533" stroke="#111" stroke-width="0.8" stroke-dasharray="0.9 1.2"/>
<line x1="40.5" y1="489.07" x2="166" y2="489.07" stroke="#111" stroke-width="0.8" stroke-dasharray="0.9 1.2"/>
<text x="99.7" y="363.8" font-size="7.6" text-anchor="middle" textLength="93.5" lengthAdjust="spacingAndGlyphs">T-cell populations in HGBL-</text>
<text x="100.5" y="373.3" font-size="7.6" text-anchor="middle" textLength="99.5" lengthAdjust="spacingAndGlyphs"><tspan font-style="italic">MYC/BCL2</tspan> vs DLBCL NOS</text>
<text x="67" y="383.3" font-size="6.1" text-anchor="middle" fill="#3d66a3">Increased in</text>
<text x="67" y="391.3" font-size="6.1" text-anchor="middle" fill="#3d66a3">DLBCL NOS</text>
<text x="116.2" y="383.3" font-size="5.8" text-anchor="middle" fill="#47ad47">Not</text>
<text x="116.2" y="391.3" font-size="5.8" text-anchor="middle" fill="#47ad47">significant</text>
<text x="175.4" y="383.3" font-size="5.8" text-anchor="middle" fill="#cc3a5e">Increased in</text>
<text x="175.4" y="391.6" font-size="6.6" text-anchor="middle" fill="#cc3a5e" textLength="51.5" lengthAdjust="spacingAndGlyphs">HGBL- <tspan font-style="italic">MYC/BCL2</tspan></text>
<g fill="#47ad47"><circle cx="117.02" cy="524.61" r="1.15"/><circle cx="136.43" cy="521.67" r="1.15"/><circle cx="118.64" cy="526.27" r="1.15"/><circle cx="113.96" cy="522.17" r="1.15"/><circle cx="126.73" cy="518.99" r="1.15"/><circle cx="135.91" cy="526.06" r="1.15"/><circle cx="117.77" cy="521.62" r="1.15"/><circle cx="106.51" cy="517.56" r="1.15"/><circle cx="131.85" cy="524" r="1.15"/><circle cx="118.26" cy="524.53" r="1.15"/><circle cx="125.96" cy="518.8" r="1.15"/><circle cx="133.93" cy="526.34" r="1.15"/><circle cx="122.78" cy="523.4" r="1.15"/><circle cx="130.56" cy="518.71" r="1.15"/><circle cx="119.83" cy="516.12" r="1.15"/><circle cx="133.92" cy="523.49" r="1.15"/><circle cx="123.18" cy="520.79" r="1.15"/><circle cx="115.72" cy="524.35" r="1.15"/><circle cx="133.59" cy="522.63" r="1.15"/><circle cx="121.89" cy="524.88" r="1.15"/><circle cx="111.22" cy="524.02" r="1.15"/><circle cx="121.16" cy="520.12" r="1.15"/><circle cx="110.51" cy="526.61" r="1.15"/><circle cx="119.08" cy="523.97" r="1.15"/><circle cx="138.23" cy="518.62" r="1.15"/><circle cx="113.75" cy="523.74" r="1.15"/><circle cx="122.94" cy="521.79" r="1.15"/><circle cx="107.56" cy="518.92" r="1.15"/><circle cx="131.67" cy="521.52" r="1.15"/><circle cx="121.43" cy="525.8" r="1.15"/><circle cx="110.59" cy="524.98" r="1.15"/><circle cx="117.74" cy="523.62" r="1.15"/><circle cx="123.27" cy="526.11" r="1.15"/><circle cx="135.02" cy="520.48" r="1.15"/><circle cx="130.69" cy="525.79" r="1.15"/><circle cx="120.13" cy="519.37" r="1.15"/><circle cx="126.88" cy="525.99" r="1.15"/><circle cx="124" cy="524.98" r="1.15"/><circle cx="115.71" cy="527.26" r="1.15"/><circle cx="130.19" cy="524.49" r="1.15"/><circle cx="122.48" cy="516.26" r="1.15"/><circle cx="131.1" cy="522.72" r="1.15"/><circle cx="123.9" cy="520.3" r="1.15"/><circle cx="127.47" cy="523.02" r="1.15"/><circle cx="134.13" cy="521.48" r="1.15"/><circle cx="122.32" cy="523.67" r="1.15"/><circle cx="130.98" cy="515.14" r="1.15"/><circle cx="128.57" cy="520.87" r="1.15"/><circle cx="118.74" cy="525.6" r="1.15"/><circle cx="113.91" cy="526.01" r="1.15"/><circle cx="116.08" cy="522.51" r="1.15"/><circle cx="118.72" cy="525.72" r="1.15"/><circle cx="109.69" cy="515.93" r="1.15"/><circle cx="128.8" cy="522.11" r="1.15"/><circle cx="115.41" cy="523.03" r="1.15"/><circle cx="127.49" cy="526.69" r="1.15"/><circle cx="120.24" cy="520.42" r="1.15"/><circle cx="133.31" cy="524.35" r="1.15"/><circle cx="132.6" cy="524.42" r="1.15"/><circle cx="129.76" cy="521.51" r="1.15"/><circle cx="117.49" cy="524.71" r="1.15"/><circle cx="123.23" cy="513.88" r="1.15"/><circle cx="132" cy="526.69" r="1.15"/><circle cx="118.74" cy="527.18" r="1.15"/><circle cx="116.96" cy="520.67" r="1.15"/><circle cx="133.78" cy="525.8" r="1.15"/><circle cx="124.88" cy="527.28" r="1.15"/><circle cx="128.88" cy="526.4" r="1.15"/><circle cx="130.26" cy="526.53" r="1.15"/><circle cx="110.67" cy="522.3" r="1.15"/><circle cx="123.88" cy="524.29" r="1.15"/><circle cx="136.46" cy="519.75" r="1.15"/><circle cx="129.1" cy="523.13" r="1.15"/><circle cx="129.97" cy="525.92" r="1.15"/><circle cx="135.38" cy="521.41" r="1.15"/><circle cx="132.05" cy="521.71" r="1.15"/><circle cx="126.77" cy="523.49" r="1.15"/><circle cx="145.45" cy="517.65" r="1.15"/><circle cx="114.7" cy="522.12" r="1.15"/><circle cx="121.08" cy="521.04" r="1.15"/><circle cx="127.16" cy="525.05" r="1.15"/><circle cx="124.83" cy="524.92" r="1.15"/><circle cx="123.89" cy="524.5" r="1.15"/><circle cx="113.92" cy="524.09" r="1.15"/><circle cx="121.24" cy="527.06" r="1.15"/><circle cx="117.63" cy="525.58" r="1.15"/><circle cx="123.21" cy="517.99" r="1.15"/><circle cx="129.64" cy="524.04" r="1.15"/><circle cx="115.97" cy="519.95" r="1.15"/><circle cx="115.64" cy="518.87" r="1.15"/><circle cx="105.49" cy="525.08" r="1.15"/><circle cx="123.7" cy="525.58" r="1.15"/><circle cx="120.91" cy="525.42" r="1.15"/><circle cx="116.79" cy="525.32" r="1.15"/><circle cx="127.68" cy="525.85" r="1.15"/><circle cx="120.24" cy="523.14" r="1.15"/><circle cx="120.34" cy="522.21" r="1.15"/><circle cx="126.18" cy="526.58" r="1.15"/><circle cx="119.88" cy="524.96" r="1.15"/><circle cx="130.83" cy="524.93" r="1.15"/><circle cx="127.45" cy="514.2" r="1.15"/><circle cx="126.33" cy="515.54" r="1.15"/><circle cx="128.8" cy="516.19" r="1.15"/><circle cx="116.78" cy="514.43" r="1.15"/><circle cx="103.88" cy="505.33" r="1.15"/><circle cx="117.39" cy="514.74" r="1.15"/><circle cx="114.78" cy="516.13" r="1.15"/><circle cx="103.7" cy="504.34" r="1.15"/><circle cx="125.82" cy="514.19" r="1.15"/><circle cx="130.01" cy="510.6" r="1.15"/><circle cx="121.05" cy="519.23" r="1.15"/><circle cx="133.03" cy="503.98" r="1.15"/><circle cx="133.73" cy="504.56" r="1.15"/><circle cx="127.2" cy="515.56" r="1.15"/><circle cx="109.2" cy="507" r="1.15"/><circle cx="105.05" cy="503.39" r="1.15"/><circle cx="132.24" cy="502.82" r="1.15"/><circle cx="135.08" cy="501.53" r="1.15"/><circle cx="111.27" cy="508.95" r="1.15"/><circle cx="132.63" cy="503.49" r="1.15"/><circle cx="129.92" cy="500.19" r="1.15"/><circle cx="131.24" cy="504.72" r="1.15"/><circle cx="111.91" cy="512.42" r="1.15"/><circle cx="131.29" cy="508.98" r="1.15"/><circle cx="129.09" cy="509.02" r="1.15"/><circle cx="128.07" cy="516.83" r="1.15"/><circle cx="131.5" cy="503.8" r="1.15"/><circle cx="133.53" cy="500.37" r="1.15"/><circle cx="130.94" cy="508.39" r="1.15"/><circle cx="107.49" cy="507.99" r="1.15"/><circle cx="116.56" cy="512.35" r="1.15"/><circle cx="118.74" cy="514.34" r="1.15"/><circle cx="131.99" cy="503.35" r="1.15"/><circle cx="124.66" cy="519.74" r="1.15"/><circle cx="133.85" cy="506.94" r="1.15"/><circle cx="119.95" cy="517.79" r="1.15"/><circle cx="107.92" cy="508.34" r="1.15"/><circle cx="133.21" cy="506.47" r="1.15"/><circle cx="105.24" cy="505.87" r="1.15"/><circle cx="105.13" cy="504.46" r="1.15"/><circle cx="95" cy="508" r="1.15"/><circle cx="96.5" cy="517.3" r="1.15"/><circle cx="102" cy="516.5" r="1.15"/><circle cx="139.6" cy="495" r="1.15"/><circle cx="151" cy="497.3" r="1.15"/><circle cx="155" cy="506.8" r="1.15"/><circle cx="142" cy="507.3" r="1.15"/><circle cx="139.6" cy="521.2" r="1.15"/><circle cx="135" cy="499.2" r="1.15"/><circle cx="105" cy="503.5" r="1.15"/><circle cx="108" cy="509" r="1.15"/><circle cx="112" cy="506" r="1.15"/><circle cx="110" cy="512" r="1.15"/><circle cx="131" cy="503" r="1.15"/><circle cx="134" cy="505" r="1.15"/><circle cx="137" cy="510" r="1.15"/></g>
<circle cx="44" cy="470.2" r="1.1" fill="#1a1a2e"/>
<circle cx="77" cy="477" r="1.1" fill="#1a1a2e"/>
<circle cx="103.8" cy="484.6" r="1.1" fill="#1a1a2e"/>
<text x="42" y="458.8" font-size="5.0" fill="#3d66a3">Senescent</text>
<text x="42" y="465" font-size="5.0" fill="#3d66a3">CD4<tspan baseline-shift="super" font-size="70%">+</tspan> cells</text>
<text x="84" y="467" font-size="5.0" fill="#3d66a3">Senescent</text>
<text x="77.3" y="473" font-size="5.0" fill="#3d66a3">CD4<tspan baseline-shift="super" font-size="70%">−</tspan>CD8<tspan baseline-shift="super" font-size="70%">−</tspan> cells</text>
<line x1="80" y1="476" x2="88" y2="474" stroke="#3d66a3" stroke-width="0.6"/>
<line x1="97" y1="475" x2="102" y2="482" stroke="#3d66a3" stroke-width="0.6"/>
<circle cx="146" cy="399.1" r="1.1" fill="#8b1a2b"/>
<text x="175.4" y="397.7" font-size="5.2" text-anchor="middle" fill="#cc3a5e">CD95<tspan baseline-shift="super" font-size="70%">+</tspan>CD28<tspan baseline-shift="super" font-size="70%">+</tspan>CD27<tspan baseline-shift="super" font-size="70%">+</tspan></text>
<text x="175.4" y="404" font-size="5.2" text-anchor="middle" fill="#cc3a5e">TIGIT/PD-1<tspan baseline-shift="super" font-size="70%">+</tspan> CD8<tspan baseline-shift="super" font-size="70%">+</tspan> cells</text>
<ellipse cx="135.6" cy="476.8" rx="1.5" ry="1" fill="#8b1a2b"/>
<ellipse cx="134.6" cy="483.6" rx="1.5" ry="1" fill="#8b1a2b"/>
<ellipse cx="141.8" cy="483.6" rx="1.5" ry="1" fill="#8b1a2b"/>
<ellipse cx="143.5" cy="483.6" rx="1.5" ry="1" fill="#8b1a2b"/>
<ellipse cx="147.1" cy="483.2" rx="1.5" ry="1" fill="#8b1a2b"/>
<ellipse cx="136" cy="485.2" rx="1.5" ry="1" fill="#8b1a2b"/>
<text x="140.1" y="465.6" font-size="5.2" fill="#cc3a5e">CD25<tspan baseline-shift="super" font-size="70%">+</tspan>CD4<tspan baseline-shift="super" font-size="70%">+</tspan> cells</text>
<text x="141.2" y="472" font-size="5.2" fill="#cc3a5e">CD25<tspan baseline-shift="super" font-size="70%">+</tspan>CD4<tspan baseline-shift="super" font-size="70%">+</tspan>CCR7<tspan baseline-shift="super" font-size="70%">+</tspan> cells</text>
<text x="147.5" y="477.2" font-size="5.2" fill="#cc3a5e">activated CD8<tspan baseline-shift="super" font-size="70%">+</tspan> cells</text>
<text x="148.6" y="481.9" font-size="5.2" fill="#cc3a5e">activated CD4<tspan baseline-shift="super" font-size="70%">−</tspan>CD8<tspan baseline-shift="super" font-size="70%">−</tspan> cells</text>
<text x="141.2" y="487.8" font-size="5.2" fill="#cc3a5e">CD95<tspan baseline-shift="super" font-size="70%">+</tspan>CD28<tspan baseline-shift="super" font-size="70%">+</tspan>CD27<tspan baseline-shift="super" font-size="70%">+</tspan>CD57<tspan baseline-shift="super" font-size="70%">low</tspan>CD8<tspan baseline-shift="super" font-size="70%">+</tspan> cells</text>
<text x="141.2" y="493" font-size="5.2" fill="#cc3a5e">CD127<tspan baseline-shift="super" font-size="70%">+</tspan>CD4<tspan baseline-shift="super" font-size="70%">+</tspan> cells</text>
<line x1="136.5" y1="475" x2="139.5" y2="469.5" stroke="#a0182e" stroke-width="0.7"/>
<line x1="138.5" y1="476" x2="141" y2="473.5" stroke="#a0182e" stroke-width="0.7"/>
<line x1="143" y1="482" x2="146.5" y2="478.5" stroke="#a0182e" stroke-width="0.7"/>
<line x1="145" y1="482.5" x2="148" y2="480" stroke="#a0182e" stroke-width="0.7"/>
<line x1="133" y1="486" x2="129" y2="489.5" stroke="#a0182e" stroke-width="0.7"/>
<line x1="137" y1="486.5" x2="140" y2="490.5" stroke="#a0182e" stroke-width="0.7"/>
<line x1="132" y1="484.5" x2="128" y2="487.5" stroke="#a0182e" stroke-width="0.7"/>
<text x="69.6" y="493.8" font-size="5.2" fill="#cc3a5e">CD95<tspan baseline-shift="super" font-size="70%">+</tspan>CD28<tspan baseline-shift="super" font-size="70%">+</tspan>CD27<tspan baseline-shift="super" font-size="70%">+</tspan>TIGIT<tspan baseline-shift="super" font-size="70%">+++</tspan></text>
<text x="88.8" y="500.4" font-size="5.2" fill="#cc3a5e">CD4<tspan baseline-shift="super" font-size="70%">+</tspan> Tregs</text>
<line x1="71" y1="491" x2="68" y2="488.5" stroke="#cc3a5e" stroke-width="0.6"/>
<g transform="translate(255.2,0)"><path d="M13,500 C17,497.5 28,496.8 36,497.8 C40,498.5 42,501.5 42.5,505 C45.5,506.5 46.5,511 43.5,512.5 C41,513.5 39.5,514 37,516 C32,519 22,520 14,516 C10.5,513.5 10.5,503 13,500 Z" fill="#d4ee9c"/><g clip-path="url(#ctop)"><circle cx="11.81" cy="495.8" r="1.1" fill="#97d5a4"/><circle cx="13.74" cy="496.44" r="1.1" fill="#ddf29a"/><circle cx="14.97" cy="496.06" r="1.1" fill="#c1e6a0"/><circle cx="16.32" cy="496.37" r="1.1" fill="#d8ef9b"/><circle cx="18.39" cy="496.06" r="1.1" fill="#ccea9d"/><circle cx="20.25" cy="496.56" r="1.1" fill="#a0d9a4"/><circle cx="21.53" cy="495.88" r="1.1" fill="#b4e1a2"/><circle cx="23.18" cy="495.79" r="1.1" fill="#cbea9e"/><circle cx="24.92" cy="496.14" r="1.1" fill="#dff299"/><circle cx="26.9" cy="496.59" r="1.1" fill="#e5f498"/><circle cx="29.09" cy="496.13" r="1.1" fill="#c7e89e"/><circle cx="29.39" cy="496.12" r="1.1" fill="#acdda4"/><circle cx="31.6" cy="495.63" r="1.1" fill="#ceeb9d"/><circle cx="33.71" cy="495.87" r="1.1" fill="#98d6a4"/><circle cx="35.5" cy="495.99" r="1.1" fill="#dbf09a"/><circle cx="37.18" cy="496.07" r="1.1" fill="#dbf09a"/><circle cx="38.65" cy="496.45" r="1.1" fill="#c1e6a0"/><circle cx="40.12" cy="495.98" r="1.1" fill="#e7f59a"/><circle cx="42.37" cy="495.8" r="1.1" fill="#e5f498"/><circle cx="43.84" cy="496.12" r="1.1" fill="#c3e79f"/><circle cx="45.36" cy="495.69" r="1.1" fill="#a9dca4"/><circle cx="9.9" cy="498.07" r="1.1" fill="#e6f598"/><circle cx="12.03" cy="497.32" r="1.1" fill="#cfec9d"/><circle cx="14.04" cy="497.38" r="1.1" fill="#ccea9d"/><circle cx="15.86" cy="497.74" r="1.1" fill="#92d3a4"/><circle cx="17.02" cy="497.71" r="1.1" fill="#a1d9a4"/><circle cx="18.98" cy="497.48" r="1.1" fill="#e8f69b"/><circle cx="20.93" cy="498.02" r="1.1" fill="#c6e89e"/><circle cx="22.04" cy="497.74" r="1.1" fill="#ceeb9d"/><circle cx="23.76" cy="497.58" r="1.1" fill="#cdeb9d"/><circle cx="25.33" cy="497.9" r="1.1" fill="#a0d9a4"/><circle cx="26.8" cy="497.95" r="1.1" fill="#dbf09a"/><circle cx="29.2" cy="497.65" r="1.1" fill="#aadda4"/><circle cx="30.89" cy="498.28" r="1.1" fill="#d6ef9b"/><circle cx="33.28" cy="497.76" r="1.1" fill="#e7f599"/><circle cx="33.77" cy="497.58" r="1.1" fill="#e8f69c"/><circle cx="36.33" cy="497.74" r="1.1" fill="#e8f69c"/><circle cx="37.89" cy="497.82" r="1.1" fill="#eef8a4"/><circle cx="39.96" cy="497.36" r="1.1" fill="#d1ec9c"/><circle cx="41.02" cy="498.37" r="1.1" fill="#84cea5"/><circle cx="43.43" cy="498.07" r="1.1" fill="#afdfa3"/><circle cx="44.85" cy="498.06" r="1.1" fill="#b6e2a2"/><circle cx="46.5" cy="498.41" r="1.1" fill="#e0f399"/><circle cx="10.38" cy="499.12" r="1.1" fill="#bae3a1"/><circle cx="11.94" cy="499.66" r="1.1" fill="#e6f598"/><circle cx="13.86" cy="498.79" r="1.1" fill="#f2faaa"/><circle cx="15.53" cy="498.96" r="1.1" fill="#e0f299"/><circle cx="17.57" cy="499.23" r="1.1" fill="#cdeb9d"/><circle cx="18.93" cy="499.12" r="1.1" fill="#def29a"/><circle cx="20.45" cy="499.14" r="1.1" fill="#c1e6a0"/><circle cx="22.36" cy="499.41" r="1.1" fill="#ccea9d"/><circle cx="23.69" cy="499.27" r="1.1" fill="#b0dfa3"/><circle cx="25.62" cy="499.98" r="1.1" fill="#ceeb9d"/><circle cx="27.06" cy="499.57" r="1.1" fill="#9cd7a4"/><circle cx="28.87" cy="499.59" r="1.1" fill="#b5e1a2"/><circle cx="30.75" cy="499.51" r="1.1" fill="#e3f499"/><circle cx="32.21" cy="499.46" r="1.1" fill="#cdeb9d"/><circle cx="34.97" cy="499.47" r="1.1" fill="#addea4"/><circle cx="35.64" cy="499.24" r="1.1" fill="#f2faaa"/><circle cx="37.65" cy="499.19" r="1.1" fill="#def29a"/><circle cx="39.27" cy="499.41" r="1.1" fill="#cdeb9d"/><circle cx="40.61" cy="499.25" r="1.1" fill="#acdda4"/><circle cx="42.99" cy="499.47" r="1.1" fill="#ecf7a1"/><circle cx="44.25" cy="499.42" r="1.1" fill="#daf09a"/><circle cx="46.29" cy="498.93" r="1.1" fill="#c4e79f"/><circle cx="10.55" cy="501.39" r="1.1" fill="#eaf79e"/><circle cx="12.39" cy="501.22" r="1.1" fill="#c1e6a0"/><circle cx="13.55" cy="501.21" r="1.1" fill="#eaf79e"/><circle cx="14.82" cy="501.3" r="1.1" fill="#94d4a4"/><circle cx="16.47" cy="501.45" r="1.1" fill="#a1d9a4"/><circle cx="18.31" cy="501.19" r="1.1" fill="#caea9e"/><circle cx="20.65" cy="501.24" r="1.1" fill="#aedea3"/><circle cx="21.8" cy="500.8" r="1.1" fill="#b5e1a2"/><circle cx="23.65" cy="501.55" r="1.1" fill="#a4daa4"/><circle cx="25.25" cy="500.73" r="1.1" fill="#bae3a1"/><circle cx="26.97" cy="500.94" r="1.1" fill="#c7e89e"/><circle cx="28.96" cy="500.85" r="1.1" fill="#d1ec9c"/><circle cx="30.58" cy="500.99" r="1.1" fill="#def29a"/><circle cx="32.17" cy="501.24" r="1.1" fill="#d6ef9b"/><circle cx="34.26" cy="501.35" r="1.1" fill="#c2e69f"/><circle cx="35.5" cy="501.19" r="1.1" fill="#ebf79f"/><circle cx="37.54" cy="500.84" r="1.1" fill="#a1d9a4"/><circle cx="39.41" cy="501.19" r="1.1" fill="#afdfa3"/><circle cx="40.81" cy="500.86" r="1.1" fill="#b8e2a1"/><circle cx="43.09" cy="500.86" r="1.1" fill="#c2e69f"/><circle cx="44.51" cy="501.17" r="1.1" fill="#c3e79f"/><circle cx="45.87" cy="501" r="1.1" fill="#a6dba4"/><circle cx="11.86" cy="502.84" r="1.1" fill="#ceeb9d"/><circle cx="13.39" cy="502.97" r="1.1" fill="#d6ef9b"/><circle cx="14.81" cy="502.78" r="1.1" fill="#e7f599"/><circle cx="16.7" cy="503.37" r="1.1" fill="#a0d9a4"/><circle cx="18.66" cy="502.7" r="1.1" fill="#daf09b"/><circle cx="20.5" cy="502.98" r="1.1" fill="#e1f399"/><circle cx="21.58" cy="502.8" r="1.1" fill="#d7ef9b"/><circle cx="23.4" cy="503.03" r="1.1" fill="#d4ee9c"/><circle cx="24.95" cy="502.81" r="1.1" fill="#d5ee9b"/><circle cx="26.82" cy="502.52" r="1.1" fill="#bee5a0"/><circle cx="29.2" cy="502.72" r="1.1" fill="#e7f59a"/><circle cx="30.43" cy="502.42" r="1.1" fill="#c2e69f"/><circle cx="32.11" cy="502.44" r="1.1" fill="#eff9a7"/><circle cx="33.65" cy="503.21" r="1.1" fill="#e4f498"/><circle cx="35.73" cy="503.05" r="1.1" fill="#b6e1a2"/><circle cx="37.04" cy="502.72" r="1.1" fill="#b8e2a1"/><circle cx="38.51" cy="502.93" r="1.1" fill="#ebf79f"/><circle cx="40.15" cy="503.02" r="1.1" fill="#afdfa3"/><circle cx="42.68" cy="502.69" r="1.1" fill="#eaf79f"/><circle cx="43.9" cy="503.29" r="1.1" fill="#7ecca5"/><circle cx="45.74" cy="502.64" r="1.1" fill="#daf09a"/><circle cx="11.51" cy="503.95" r="1.1" fill="#d2ed9c"/><circle cx="13.26" cy="504.82" r="1.1" fill="#aadda4"/><circle cx="15.01" cy="504.89" r="1.1" fill="#d5ee9c"/><circle cx="16.59" cy="504.29" r="1.1" fill="#e6f598"/><circle cx="17.87" cy="504.62" r="1.1" fill="#d7ef9b"/><circle cx="20.6" cy="504.5" r="1.1" fill="#e7f69a"/><circle cx="21.92" cy="504.78" r="1.1" fill="#daf09a"/><circle cx="23.06" cy="505.27" r="1.1" fill="#c8e99e"/><circle cx="25.35" cy="504.91" r="1.1" fill="#f6fbb1"/><circle cx="26.51" cy="504.14" r="1.1" fill="#d0ec9d"/><circle cx="28.31" cy="504.8" r="1.1" fill="#c2e69f"/><circle cx="30.12" cy="504.09" r="1.1" fill="#d2ed9c"/><circle cx="31.5" cy="504.39" r="1.1" fill="#f1f9a9"/><circle cx="33.2" cy="504.91" r="1.1" fill="#a9dca4"/><circle cx="35.62" cy="504.3" r="1.1" fill="#99d6a4"/><circle cx="36.78" cy="504.63" r="1.1" fill="#b3e0a2"/><circle cx="38.28" cy="503.92" r="1.1" fill="#b7e2a1"/><circle cx="39.87" cy="505.13" r="1.1" fill="#e9f69c"/><circle cx="41.81" cy="504.36" r="1.1" fill="#84cea5"/><circle cx="43.58" cy="504.52" r="1.1" fill="#b5e1a2"/><circle cx="44.84" cy="504.8" r="1.1" fill="#a8dca4"/><circle cx="11.03" cy="506.22" r="1.1" fill="#dcf19a"/><circle cx="12.23" cy="505.57" r="1.1" fill="#9ad6a4"/><circle cx="14.81" cy="506.26" r="1.1" fill="#d8ef9b"/><circle cx="16.98" cy="506.08" r="1.1" fill="#e9f69d"/><circle cx="17.95" cy="506.36" r="1.1" fill="#d7ef9b"/><circle cx="19.58" cy="506.45" r="1.1" fill="#ccea9d"/><circle cx="21.65" cy="505.81" r="1.1" fill="#eef8a4"/><circle cx="23.73" cy="506.16" r="1.1" fill="#b3e0a2"/><circle cx="24.81" cy="506.87" r="1.1" fill="#ecf7a1"/><circle cx="26.37" cy="506.06" r="1.1" fill="#bfe5a0"/><circle cx="28.14" cy="506.53" r="1.1" fill="#ddf19a"/><circle cx="29.17" cy="505.82" r="1.1" fill="#7acaa5"/><circle cx="31.61" cy="505.42" r="1.1" fill="#bde4a0"/><circle cx="32.97" cy="506.1" r="1.1" fill="#8bd1a4"/><circle cx="35.2" cy="506.13" r="1.1" fill="#c6e89f"/><circle cx="36.89" cy="505.99" r="1.1" fill="#d2ed9c"/><circle cx="38.12" cy="506.13" r="1.1" fill="#e0f299"/><circle cx="40.36" cy="505.47" r="1.1" fill="#a8dca4"/><circle cx="41.62" cy="506.65" r="1.1" fill="#c3e79f"/><circle cx="43.68" cy="506.18" r="1.1" fill="#b4e1a2"/><circle cx="45.62" cy="506.69" r="1.1" fill="#a1d9a4"/><circle cx="10.59" cy="508.05" r="1.1" fill="#e2f399"/><circle cx="12.24" cy="507.83" r="1.1" fill="#ceeb9d"/><circle cx="14.31" cy="507.4" r="1.1" fill="#a3daa4"/><circle cx="15.78" cy="507.91" r="1.1" fill="#f2faab"/><circle cx="17.53" cy="507.39" r="1.1" fill="#b6e1a2"/><circle cx="18.91" cy="508.4" r="1.1" fill="#d3ed9c"/><circle cx="20.64" cy="507.37" r="1.1" fill="#a2d9a4"/><circle cx="22.42" cy="507.86" r="1.1" fill="#d7ef9b"/><circle cx="24.13" cy="507.48" r="1.1" fill="#bee5a0"/><circle cx="25.93" cy="508.03" r="1.1" fill="#e1f399"/><circle cx="27.75" cy="507.74" r="1.1" fill="#def29a"/><circle cx="29.44" cy="508" r="1.1" fill="#bee5a0"/><circle cx="31.27" cy="508.01" r="1.1" fill="#ceeb9d"/><circle cx="32.7" cy="507.92" r="1.1" fill="#c2e69f"/><circle cx="34.36" cy="507.39" r="1.1" fill="#dcf19a"/><circle cx="35.99" cy="508.07" r="1.1" fill="#d6ef9b"/><circle cx="37.76" cy="508.12" r="1.1" fill="#d9f09b"/><circle cx="39.08" cy="508.36" r="1.1" fill="#9ed8a4"/><circle cx="41.43" cy="507.72" r="1.1" fill="#90d2a4"/><circle cx="43" cy="507.73" r="1.1" fill="#eaf79f"/><circle cx="44.25" cy="508.29" r="1.1" fill="#ecf8a2"/><circle cx="46.05" cy="507.53" r="1.1" fill="#a8dca4"/><circle cx="11.49" cy="509.92" r="1.1" fill="#a6dba4"/><circle cx="13.58" cy="509.45" r="1.1" fill="#f4faad"/><circle cx="14.58" cy="509.13" r="1.1" fill="#d3ed9c"/><circle cx="16.99" cy="509.15" r="1.1" fill="#e0f299"/><circle cx="18.37" cy="509.26" r="1.1" fill="#e2f399"/><circle cx="20.05" cy="509.47" r="1.1" fill="#e7f599"/><circle cx="21.43" cy="509.8" r="1.1" fill="#b5e1a2"/><circle cx="23.37" cy="509.71" r="1.1" fill="#d0ec9c"/><circle cx="24.36" cy="509.88" r="1.1" fill="#bbe4a1"/><circle cx="27.2" cy="510.23" r="1.1" fill="#ccea9d"/><circle cx="28.57" cy="509.86" r="1.1" fill="#c2e69f"/><circle cx="30.08" cy="509.52" r="1.1" fill="#9ad6a4"/><circle cx="32.1" cy="508.98" r="1.1" fill="#e6f598"/><circle cx="33.31" cy="509.51" r="1.1" fill="#dff299"/><circle cx="35.26" cy="509.33" r="1.1" fill="#eff8a5"/><circle cx="37.42" cy="509.76" r="1.1" fill="#b9e3a1"/><circle cx="38.69" cy="509.61" r="1.1" fill="#b2e0a3"/><circle cx="40.26" cy="509.67" r="1.1" fill="#a2daa4"/><circle cx="41.71" cy="509.74" r="1.1" fill="#e9f69c"/><circle cx="43.7" cy="509.35" r="1.1" fill="#e5f598"/><circle cx="45.4" cy="509.27" r="1.1" fill="#ebf7a0"/><circle cx="11.11" cy="511.26" r="1.1" fill="#d2ed9c"/><circle cx="12.74" cy="511.05" r="1.1" fill="#edf8a3"/><circle cx="14.44" cy="511.03" r="1.1" fill="#d5ee9c"/><circle cx="16.48" cy="511.27" r="1.1" fill="#84cea5"/><circle cx="18.26" cy="511.37" r="1.1" fill="#e1f399"/><circle cx="19.72" cy="511.81" r="1.1" fill="#ddf19a"/><circle cx="21.79" cy="511.42" r="1.1" fill="#dbf19a"/><circle cx="22.96" cy="511.74" r="1.1" fill="#d9f09b"/><circle cx="24.64" cy="510.86" r="1.1" fill="#9ed8a4"/><circle cx="26.36" cy="511.1" r="1.1" fill="#bbe4a1"/><circle cx="27.8" cy="511.7" r="1.1" fill="#d4ee9c"/><circle cx="30.16" cy="511.64" r="1.1" fill="#e9f69c"/><circle cx="31.25" cy="511.28" r="1.1" fill="#e7f69a"/><circle cx="33.19" cy="510.84" r="1.1" fill="#c3e79f"/><circle cx="34.93" cy="511.29" r="1.1" fill="#d8ef9b"/><circle cx="36.01" cy="511.57" r="1.1" fill="#d3ed9c"/><circle cx="38.93" cy="511.35" r="1.1" fill="#e5f498"/><circle cx="39.88" cy="511.41" r="1.1" fill="#ddf19a"/><circle cx="41.44" cy="511.38" r="1.1" fill="#daf09a"/><circle cx="43.01" cy="511.86" r="1.1" fill="#e0f399"/><circle cx="45.01" cy="511.44" r="1.1" fill="#95d4a4"/><circle cx="11.56" cy="512.95" r="1.1" fill="#ddf19a"/><circle cx="13.35" cy="512.76" r="1.1" fill="#b3e0a2"/><circle cx="14.68" cy="512.77" r="1.1" fill="#d2ed9c"/><circle cx="16.84" cy="513.06" r="1.1" fill="#bfe5a0"/><circle cx="18.55" cy="513.47" r="1.1" fill="#e8f69c"/><circle cx="20.15" cy="513.15" r="1.1" fill="#b9e3a1"/><circle cx="21.55" cy="513.26" r="1.1" fill="#73c7a5"/><circle cx="23.56" cy="512.87" r="1.1" fill="#8ad0a4"/><circle cx="25.41" cy="512.58" r="1.1" fill="#e5f598"/><circle cx="26.94" cy="512.96" r="1.1" fill="#a8dca4"/><circle cx="28.38" cy="512.72" r="1.1" fill="#addea4"/><circle cx="29.8" cy="513.36" r="1.1" fill="#e6f598"/><circle cx="31.84" cy="512.98" r="1.1" fill="#e2f399"/><circle cx="33.47" cy="512.72" r="1.1" fill="#f2faab"/><circle cx="35.71" cy="513.23" r="1.1" fill="#e7f59a"/><circle cx="37.29" cy="512.85" r="1.1" fill="#aedea3"/><circle cx="39.37" cy="513.12" r="1.1" fill="#e2f399"/><circle cx="40.9" cy="512.98" r="1.1" fill="#e6f598"/><circle cx="41.9" cy="512.66" r="1.1" fill="#eef8a4"/><circle cx="44.12" cy="513.01" r="1.1" fill="#a9dca4"/><circle cx="46.06" cy="512.83" r="1.1" fill="#e5f598"/><circle cx="11.08" cy="514.71" r="1.1" fill="#d1ec9c"/><circle cx="13.17" cy="514.48" r="1.1" fill="#def29a"/><circle cx="14.41" cy="514.39" r="1.1" fill="#dcf19a"/><circle cx="16.55" cy="514.69" r="1.1" fill="#91d3a4"/><circle cx="18.27" cy="514.92" r="1.1" fill="#d1ec9c"/><circle cx="20.08" cy="514.38" r="1.1" fill="#ebf7a0"/><circle cx="21.42" cy="514.5" r="1.1" fill="#b2e0a3"/><circle cx="23.28" cy="514.94" r="1.1" fill="#b9e2a1"/><circle cx="25" cy="514.84" r="1.1" fill="#c7e89e"/><circle cx="26.23" cy="514.28" r="1.1" fill="#d4ee9c"/><circle cx="27.98" cy="514.35" r="1.1" fill="#a9dca4"/><circle cx="29.8" cy="514.63" r="1.1" fill="#b3e0a2"/><circle cx="31.38" cy="514.59" r="1.1" fill="#c4e79f"/><circle cx="33.47" cy="514.68" r="1.1" fill="#c6e89f"/><circle cx="34.66" cy="514.83" r="1.1" fill="#d6ee9b"/><circle cx="37.24" cy="514.19" r="1.1" fill="#daf09a"/><circle cx="39.04" cy="514.93" r="1.1" fill="#c6e89f"/><circle cx="39.97" cy="514.19" r="1.1" fill="#b2e0a3"/><circle cx="42.02" cy="514.13" r="1.1" fill="#cdeb9d"/><circle cx="44.02" cy="514.66" r="1.1" fill="#c9e99e"/><circle cx="45.23" cy="514.59" r="1.1" fill="#dff299"/><circle cx="11.75" cy="516.23" r="1.1" fill="#79c9a5"/><circle cx="13.08" cy="517.09" r="1.1" fill="#c5e89f"/><circle cx="14.56" cy="516.73" r="1.1" fill="#bde4a0"/><circle cx="16.67" cy="516.84" r="1.1" fill="#b2e0a3"/><circle cx="17.98" cy="516.76" r="1.1" fill="#f8fcb4"/><circle cx="19.7" cy="516.19" r="1.1" fill="#bee5a0"/><circle cx="21.7" cy="516.63" r="1.1" fill="#eaf79e"/><circle cx="23.26" cy="516.8" r="1.1" fill="#c8e99e"/><circle cx="24.95" cy="516.72" r="1.1" fill="#ddf19a"/><circle cx="26.82" cy="516.55" r="1.1" fill="#b9e3a1"/><circle cx="28.09" cy="516.59" r="1.1" fill="#bbe3a1"/><circle cx="29.47" cy="516.71" r="1.1" fill="#e2f399"/><circle cx="31.65" cy="516.13" r="1.1" fill="#edf8a3"/><circle cx="33.18" cy="516.76" r="1.1" fill="#eff8a6"/><circle cx="35.3" cy="516.64" r="1.1" fill="#caea9e"/><circle cx="36.8" cy="516.09" r="1.1" fill="#afdfa3"/><circle cx="38.74" cy="516.06" r="1.1" fill="#d9f09b"/><circle cx="40.22" cy="516.67" r="1.1" fill="#daf09a"/><circle cx="42.3" cy="516.11" r="1.1" fill="#bae3a1"/><circle cx="43.66" cy="516.77" r="1.1" fill="#e7f599"/><circle cx="45.42" cy="517.25" r="1.1" fill="#99d6a4"/><circle cx="11.26" cy="518.68" r="1.1" fill="#fcfebb"/><circle cx="13.17" cy="517.94" r="1.1" fill="#ceeb9d"/><circle cx="15.11" cy="518.04" r="1.1" fill="#e7f599"/><circle cx="17.12" cy="518.55" r="1.1" fill="#addea4"/><circle cx="18.21" cy="518.4" r="1.1" fill="#cae99e"/><circle cx="19.48" cy="517.78" r="1.1" fill="#b1dfa3"/><circle cx="21.62" cy="518.22" r="1.1" fill="#eaf69e"/><circle cx="22.72" cy="517.94" r="1.1" fill="#bfe5a0"/><circle cx="24.91" cy="518.05" r="1.1" fill="#aadda4"/><circle cx="26.61" cy="517.95" r="1.1" fill="#e9f69d"/><circle cx="28.64" cy="518.39" r="1.1" fill="#eaf79e"/><circle cx="29.84" cy="517.88" r="1.1" fill="#a4daa4"/><circle cx="31.89" cy="518.31" r="1.1" fill="#e6f598"/><circle cx="33.42" cy="517.98" r="1.1" fill="#c3e79f"/><circle cx="35.53" cy="517.86" r="1.1" fill="#f3faad"/><circle cx="36.95" cy="518.26" r="1.1" fill="#e1f399"/><circle cx="38.17" cy="518.3" r="1.1" fill="#e7f59a"/><circle cx="40.36" cy="517.51" r="1.1" fill="#cfec9d"/><circle cx="41.78" cy="517.83" r="1.1" fill="#ebf7a0"/><circle cx="43.05" cy="518.23" r="1.1" fill="#ecf7a1"/><circle cx="45.26" cy="517.48" r="1.1" fill="#ceeb9d"/><circle cx="10.62" cy="519.42" r="1.1" fill="#85cea5"/><circle cx="12.38" cy="519.56" r="1.1" fill="#d3ed9c"/><circle cx="14.53" cy="519.93" r="1.1" fill="#eaf69e"/><circle cx="15.38" cy="520" r="1.1" fill="#bee5a0"/><circle cx="17.69" cy="520.14" r="1.1" fill="#e4f498"/><circle cx="19.19" cy="519.76" r="1.1" fill="#bee5a0"/><circle cx="21.01" cy="520.1" r="1.1" fill="#def29a"/><circle cx="22.9" cy="519.51" r="1.1" fill="#c1e6a0"/><circle cx="24.71" cy="519.67" r="1.1" fill="#c7e99e"/><circle cx="25.37" cy="519.84" r="1.1" fill="#a3daa4"/><circle cx="27.23" cy="519.92" r="1.1" fill="#ecf7a2"/><circle cx="29.94" cy="519.83" r="1.1" fill="#6dc5a5"/><circle cx="31.16" cy="520.02" r="1.1" fill="#7ccba5"/><circle cx="33.13" cy="519.78" r="1.1" fill="#bbe4a1"/><circle cx="34.16" cy="519.69" r="1.1" fill="#e1f399"/><circle cx="36.58" cy="519.49" r="1.1" fill="#d1ed9c"/><circle cx="37.58" cy="519.63" r="1.1" fill="#c7e89e"/><circle cx="39.56" cy="519.69" r="1.1" fill="#d5ee9b"/><circle cx="40.43" cy="520.21" r="1.1" fill="#d3ed9c"/><circle cx="42.91" cy="519.86" r="1.1" fill="#c1e6a0"/><circle cx="44.46" cy="520.23" r="1.1" fill="#ecf8a2"/><circle cx="46.26" cy="519.34" r="1.1" fill="#caea9e"/></g></g>
<g transform="translate(255.2,0)"><path d="M14.5,552 C14.5,547 18,544 24,543.8 C28,543.6 31,544 34,544.5 C36,542.5 38,541.2 41,541.2 C44.5,541.2 46.5,543 46,545.5 C45.5,548 42,549.2 38,549 C36,550 35,553 32.5,556 C30,558.5 26,559.6 22,559.5 C17.5,559.2 14.5,556.5 14.5,552 Z" fill="#bde4a0"/><g clip-path="url(#cbot)"><circle cx="14.31" cy="540.59" r="1.1" fill="#4098b6"/><circle cx="16.55" cy="540.18" r="1.1" fill="#9bd7a4"/><circle cx="18.14" cy="540.52" r="1.1" fill="#3d94b8"/><circle cx="19.97" cy="540.27" r="1.1" fill="#77c8a5"/><circle cx="21.91" cy="540.41" r="1.1" fill="#7ccba5"/><circle cx="23.92" cy="540.43" r="1.1" fill="#5ab5aa"/><circle cx="25.14" cy="540.44" r="1.1" fill="#a4daa4"/><circle cx="26.36" cy="540.8" r="1.1" fill="#b4e1a2"/><circle cx="28.34" cy="540.45" r="1.1" fill="#c4e79f"/><circle cx="29.82" cy="540.39" r="1.1" fill="#b6e2a2"/><circle cx="32.13" cy="540.7" r="1.1" fill="#fffbb8"/><circle cx="33.52" cy="540.18" r="1.1" fill="#feeb9e"/><circle cx="35.06" cy="540.86" r="1.1" fill="#e7f59a"/><circle cx="36.49" cy="540.71" r="1.1" fill="#b8e2a1"/><circle cx="38.13" cy="540.41" r="1.1" fill="#f1faaa"/><circle cx="39.87" cy="540.71" r="1.1" fill="#c0e6a0"/><circle cx="42.07" cy="540.67" r="1.1" fill="#fdfebc"/><circle cx="44.12" cy="540.52" r="1.1" fill="#d9f09b"/><circle cx="45.35" cy="540.9" r="1.1" fill="#fbfdb8"/><circle cx="47.18" cy="540.63" r="1.1" fill="#fefebd"/><circle cx="14.41" cy="542.46" r="1.1" fill="#388fba"/><circle cx="16.29" cy="542.45" r="1.1" fill="#459eb4"/><circle cx="17.51" cy="541.95" r="1.1" fill="#98d6a4"/><circle cx="18.9" cy="542.28" r="1.1" fill="#b8e2a1"/><circle cx="20.44" cy="542" r="1.1" fill="#8ed2a4"/><circle cx="22.41" cy="541.84" r="1.1" fill="#78c9a5"/><circle cx="24.74" cy="542.08" r="1.1" fill="#ceeb9d"/><circle cx="26.26" cy="542.19" r="1.1" fill="#bde4a0"/><circle cx="28.25" cy="542.01" r="1.1" fill="#80cca5"/><circle cx="29.91" cy="542.26" r="1.1" fill="#9ed8a4"/><circle cx="31.52" cy="542.13" r="1.1" fill="#f6fcb2"/><circle cx="33.17" cy="542.21" r="1.1" fill="#eff8a5"/><circle cx="34.52" cy="542.59" r="1.1" fill="#c8e99e"/><circle cx="36.04" cy="542.15" r="1.1" fill="#f2faaa"/><circle cx="38" cy="541.74" r="1.1" fill="#f0f9a7"/><circle cx="39.57" cy="542.01" r="1.1" fill="#f7fcb3"/><circle cx="41.3" cy="542.43" r="1.1" fill="#caea9e"/><circle cx="43.46" cy="542.21" r="1.1" fill="#ebf7a0"/><circle cx="44.89" cy="542.05" r="1.1" fill="#def29a"/><circle cx="46.33" cy="542.18" r="1.1" fill="#fafdb8"/><circle cx="14.51" cy="544.16" r="1.1" fill="#84cea5"/><circle cx="17.35" cy="543.56" r="1.1" fill="#a3daa4"/><circle cx="17.87" cy="544.65" r="1.1" fill="#bae3a1"/><circle cx="19.59" cy="543.91" r="1.1" fill="#c0e6a0"/><circle cx="21.74" cy="543.43" r="1.1" fill="#aadda4"/><circle cx="23.18" cy="543.76" r="1.1" fill="#9cd7a4"/><circle cx="25.22" cy="543.97" r="1.1" fill="#95d4a4"/><circle cx="26.76" cy="543.35" r="1.1" fill="#abdda4"/><circle cx="28.54" cy="544.07" r="1.1" fill="#68c3a5"/><circle cx="30.22" cy="544.26" r="1.1" fill="#c4e79f"/><circle cx="32.29" cy="543.69" r="1.1" fill="#e3f499"/><circle cx="34.5" cy="543.9" r="1.1" fill="#f2faab"/><circle cx="35.27" cy="543.77" r="1.1" fill="#f5fbb0"/><circle cx="36.91" cy="544.04" r="1.1" fill="#f8fcb4"/><circle cx="38.51" cy="544.05" r="1.1" fill="#f0f9a8"/><circle cx="40.43" cy="543.9" r="1.1" fill="#f9fcb5"/><circle cx="42.43" cy="543.33" r="1.1" fill="#bfe5a0"/><circle cx="43.68" cy="544.28" r="1.1" fill="#ebf7a0"/><circle cx="45.61" cy="543.92" r="1.1" fill="#e9f69d"/><circle cx="47.28" cy="543.72" r="1.1" fill="#d6ef9b"/><circle cx="13.57" cy="546.08" r="1.1" fill="#8ad0a4"/><circle cx="15.69" cy="545.69" r="1.1" fill="#6ac4a5"/><circle cx="17.22" cy="545.27" r="1.1" fill="#4da6b1"/><circle cx="19.01" cy="545.56" r="1.1" fill="#74c8a5"/><circle cx="21.22" cy="545.31" r="1.1" fill="#98d6a4"/><circle cx="22.72" cy="545.62" r="1.1" fill="#65c1a5"/><circle cx="24.31" cy="546" r="1.1" fill="#daf09a"/><circle cx="25.66" cy="545.77" r="1.1" fill="#9cd7a4"/><circle cx="27.6" cy="545.18" r="1.1" fill="#bae3a1"/><circle cx="29.1" cy="545.47" r="1.1" fill="#b8e2a1"/><circle cx="30.77" cy="545.62" r="1.1" fill="#d5ee9b"/><circle cx="32.86" cy="545.38" r="1.1" fill="#fffdbb"/><circle cx="34.45" cy="545.65" r="1.1" fill="#fafdb7"/><circle cx="36.07" cy="545.61" r="1.1" fill="#eef8a5"/><circle cx="37.6" cy="545.54" r="1.1" fill="#e9f69d"/><circle cx="39.53" cy="545.87" r="1.1" fill="#c3e79f"/><circle cx="41.45" cy="545.61" r="1.1" fill="#a3daa4"/><circle cx="43.3" cy="545.53" r="1.1" fill="#e8f69b"/><circle cx="44.82" cy="545.36" r="1.1" fill="#bae3a1"/><circle cx="46.84" cy="545.8" r="1.1" fill="#b0dfa3"/><circle cx="14.03" cy="547.93" r="1.1" fill="#53adae"/><circle cx="15.99" cy="547.44" r="1.1" fill="#3c5fa8"/><circle cx="17.41" cy="546.78" r="1.1" fill="#3679b5"/><circle cx="18.61" cy="547.41" r="1.1" fill="#99d6a4"/><circle cx="21.11" cy="547.36" r="1.1" fill="#94d4a4"/><circle cx="22.3" cy="547.34" r="1.1" fill="#8cd1a4"/><circle cx="23.92" cy="547.28" r="1.1" fill="#a9dca4"/><circle cx="26.16" cy="547.17" r="1.1" fill="#b1dfa3"/><circle cx="27.41" cy="547.38" r="1.1" fill="#5fbba8"/><circle cx="29.79" cy="546.69" r="1.1" fill="#a2d9a4"/><circle cx="30.92" cy="547.37" r="1.1" fill="#e4f498"/><circle cx="33.45" cy="547.17" r="1.1" fill="#e0f399"/><circle cx="34.58" cy="547.11" r="1.1" fill="#e2f399"/><circle cx="36.65" cy="547.58" r="1.1" fill="#eaf69e"/><circle cx="37.95" cy="547.39" r="1.1" fill="#d6ef9b"/><circle cx="39.34" cy="547.68" r="1.1" fill="#cdeb9d"/><circle cx="41.05" cy="547.14" r="1.1" fill="#ecf7a1"/><circle cx="43.11" cy="547.36" r="1.1" fill="#caea9e"/><circle cx="44.84" cy="547.18" r="1.1" fill="#fff2a9"/><circle cx="46.31" cy="547.21" r="1.1" fill="#7bcaa5"/><circle cx="13.91" cy="549" r="1.1" fill="#53adae"/><circle cx="15.97" cy="549.34" r="1.1" fill="#3e95b8"/><circle cx="16.94" cy="548.74" r="1.1" fill="#71c6a5"/><circle cx="18.9" cy="548.9" r="1.1" fill="#83cda5"/><circle cx="20.19" cy="549.61" r="1.1" fill="#8cd1a4"/><circle cx="22.15" cy="549.24" r="1.1" fill="#55afad"/><circle cx="23.84" cy="548.87" r="1.1" fill="#addea4"/><circle cx="25.61" cy="549.37" r="1.1" fill="#d3ed9c"/><circle cx="27.45" cy="549.36" r="1.1" fill="#72c7a5"/><circle cx="29.03" cy="549.18" r="1.1" fill="#85cea5"/><circle cx="31.25" cy="549.18" r="1.1" fill="#dff299"/><circle cx="32.14" cy="549.16" r="1.1" fill="#c5e89f"/><circle cx="34.15" cy="548.93" r="1.1" fill="#f3faad"/><circle cx="35.36" cy="548.7" r="1.1" fill="#feffbd"/><circle cx="37.6" cy="549.33" r="1.1" fill="#b2e0a2"/><circle cx="39.5" cy="549.4" r="1.1" fill="#f9fdb6"/><circle cx="41.13" cy="549.04" r="1.1" fill="#ffffbf"/><circle cx="43.09" cy="549.07" r="1.1" fill="#e9f69d"/><circle cx="44.78" cy="548.79" r="1.1" fill="#f5fbaf"/><circle cx="45.83" cy="548.57" r="1.1" fill="#eef8a4"/><circle cx="13.96" cy="550.35" r="1.1" fill="#6bc4a5"/><circle cx="14.9" cy="550.29" r="1.1" fill="#3a69ad"/><circle cx="17.25" cy="550.97" r="1.1" fill="#7ecba5"/><circle cx="18.76" cy="550.58" r="1.1" fill="#95d4a4"/><circle cx="20.86" cy="550.93" r="1.1" fill="#91d3a4"/><circle cx="21.88" cy="550.71" r="1.1" fill="#7fcca5"/><circle cx="23.43" cy="550.93" r="1.1" fill="#a3daa4"/><circle cx="25.77" cy="550.8" r="1.1" fill="#5cb7a9"/><circle cx="27.55" cy="550.88" r="1.1" fill="#85cea5"/><circle cx="28.7" cy="550.46" r="1.1" fill="#daf09a"/><circle cx="30.83" cy="550.89" r="1.1" fill="#f6fcb1"/><circle cx="32.05" cy="550.71" r="1.1" fill="#d9f09b"/><circle cx="34.7" cy="550.68" r="1.1" fill="#eef8a5"/><circle cx="35.9" cy="550.29" r="1.1" fill="#f5fbaf"/><circle cx="36.96" cy="550.57" r="1.1" fill="#cae99e"/><circle cx="39.69" cy="550.98" r="1.1" fill="#e8f69b"/><circle cx="41.1" cy="550.82" r="1.1" fill="#cfec9d"/><circle cx="42.62" cy="551.14" r="1.1" fill="#e8f69c"/><circle cx="44.19" cy="551.06" r="1.1" fill="#f2faaa"/><circle cx="46.44" cy="550.56" r="1.1" fill="#fbfdb8"/><circle cx="14.19" cy="552.31" r="1.1" fill="#a6dba4"/><circle cx="15.53" cy="552.17" r="1.1" fill="#60bba8"/><circle cx="17.6" cy="551.97" r="1.1" fill="#72c7a5"/><circle cx="19" cy="552.66" r="1.1" fill="#6ac4a5"/><circle cx="20.46" cy="552.22" r="1.1" fill="#3d94b8"/><circle cx="22.8" cy="551.7" r="1.1" fill="#e2f399"/><circle cx="24.01" cy="552.08" r="1.1" fill="#98d6a4"/><circle cx="26.07" cy="552.16" r="1.1" fill="#69c3a5"/><circle cx="28.37" cy="552.74" r="1.1" fill="#98d6a4"/><circle cx="29.2" cy="552.16" r="1.1" fill="#96d5a4"/><circle cx="30.95" cy="552.42" r="1.1" fill="#c9e99e"/><circle cx="33.47" cy="552.65" r="1.1" fill="#f3faad"/><circle cx="34.66" cy="552.59" r="1.1" fill="#eaf79e"/><circle cx="35.92" cy="552.61" r="1.1" fill="#b8e2a1"/><circle cx="37.65" cy="552.32" r="1.1" fill="#d3ed9c"/><circle cx="39.85" cy="552.29" r="1.1" fill="#ecf7a1"/><circle cx="41.17" cy="552.13" r="1.1" fill="#e8f69b"/><circle cx="42.93" cy="551.97" r="1.1" fill="#e1f399"/><circle cx="44.8" cy="552.57" r="1.1" fill="#f4fbae"/><circle cx="46.42" cy="552.59" r="1.1" fill="#f6fbb1"/><circle cx="13.6" cy="553.82" r="1.1" fill="#73c7a5"/><circle cx="14.97" cy="554.65" r="1.1" fill="#69c3a5"/><circle cx="17.34" cy="553.88" r="1.1" fill="#9cd7a4"/><circle cx="19.16" cy="554.43" r="1.1" fill="#74c7a5"/><circle cx="21.08" cy="553.9" r="1.1" fill="#e6f598"/><circle cx="21.93" cy="553.82" r="1.1" fill="#b7e2a2"/><circle cx="23.92" cy="554.25" r="1.1" fill="#97d5a4"/><circle cx="25.43" cy="553.99" r="1.1" fill="#92d3a4"/><circle cx="27.29" cy="554.21" r="1.1" fill="#6dc5a5"/><circle cx="29.15" cy="554.34" r="1.1" fill="#89d0a4"/><circle cx="31.16" cy="554.33" r="1.1" fill="#eef8a5"/><circle cx="32.15" cy="554.34" r="1.1" fill="#c6e89e"/><circle cx="33.9" cy="553.97" r="1.1" fill="#fff9b5"/><circle cx="35.55" cy="554.38" r="1.1" fill="#fffcba"/><circle cx="37.75" cy="554.43" r="1.1" fill="#fffebd"/><circle cx="38.55" cy="553.5" r="1.1" fill="#f7fcb3"/><circle cx="40.35" cy="554.14" r="1.1" fill="#fff2aa"/><circle cx="42.55" cy="554.17" r="1.1" fill="#bee5a0"/><circle cx="44.19" cy="553.71" r="1.1" fill="#eef8a5"/><circle cx="45.54" cy="554.48" r="1.1" fill="#c4e79f"/><circle cx="15.62" cy="555.66" r="1.1" fill="#6fc6a5"/><circle cx="16.71" cy="555.49" r="1.1" fill="#5fbaa8"/><circle cx="18.36" cy="555.75" r="1.1" fill="#62bda7"/><circle cx="20.53" cy="556.13" r="1.1" fill="#addea4"/><circle cx="21.36" cy="556.02" r="1.1" fill="#83cda5"/><circle cx="23.1" cy="555.87" r="1.1" fill="#96d5a4"/><circle cx="25.13" cy="555.43" r="1.1" fill="#6bc4a5"/><circle cx="27.24" cy="555.39" r="1.1" fill="#9ed8a4"/><circle cx="28.62" cy="555.65" r="1.1" fill="#c0e6a0"/><circle cx="30.01" cy="556.37" r="1.1" fill="#7dcba5"/><circle cx="31.83" cy="555.53" r="1.1" fill="#f2faab"/><circle cx="33.51" cy="556.17" r="1.1" fill="#fff2a9"/><circle cx="35.64" cy="556.28" r="1.1" fill="#f6fbb1"/><circle cx="37.12" cy="556.03" r="1.1" fill="#eef8a5"/><circle cx="38.98" cy="556.04" r="1.1" fill="#f1faaa"/><circle cx="40.39" cy="555.39" r="1.1" fill="#e8f69b"/><circle cx="41.95" cy="555.28" r="1.1" fill="#f3faac"/><circle cx="44.07" cy="555.52" r="1.1" fill="#eef8a4"/><circle cx="45.26" cy="556.04" r="1.1" fill="#c9e99e"/><circle cx="47.34" cy="556.02" r="1.1" fill="#f9fdb6"/><circle cx="15.14" cy="557.44" r="1.1" fill="#47a0b3"/><circle cx="16.8" cy="557.51" r="1.1" fill="#8cd1a4"/><circle cx="18.32" cy="557.15" r="1.1" fill="#3385bb"/><circle cx="20.35" cy="557.26" r="1.1" fill="#91d3a4"/><circle cx="21.88" cy="557.89" r="1.1" fill="#79caa5"/><circle cx="23.94" cy="557.8" r="1.1" fill="#8ad0a4"/><circle cx="24.75" cy="557.77" r="1.1" fill="#b9e3a1"/><circle cx="27.27" cy="557.54" r="1.1" fill="#73c7a5"/><circle cx="28.05" cy="557.57" r="1.1" fill="#aadda4"/><circle cx="30.23" cy="557.7" r="1.1" fill="#7fcca5"/><circle cx="31.92" cy="557.26" r="1.1" fill="#afdea3"/><circle cx="33.92" cy="557.74" r="1.1" fill="#fdfebc"/><circle cx="35.26" cy="557.42" r="1.1" fill="#ebf79f"/><circle cx="37.44" cy="557.02" r="1.1" fill="#c2e69f"/><circle cx="38.61" cy="557.19" r="1.1" fill="#cfec9d"/><circle cx="40.01" cy="557.28" r="1.1" fill="#f5fbb0"/><circle cx="42.19" cy="557.73" r="1.1" fill="#e1f399"/><circle cx="43.45" cy="557.48" r="1.1" fill="#c3e79f"/><circle cx="45.64" cy="557.82" r="1.1" fill="#c3e79f"/><circle cx="47.41" cy="556.99" r="1.1" fill="#f1f9a9"/><circle cx="15.33" cy="559.09" r="1.1" fill="#61bca7"/><circle cx="17.12" cy="559.54" r="1.1" fill="#52acae"/><circle cx="18.31" cy="558.95" r="1.1" fill="#6cc4a5"/><circle cx="19.67" cy="558.98" r="1.1" fill="#9ad6a4"/><circle cx="21.63" cy="559.14" r="1.1" fill="#6dc5a5"/><circle cx="23.32" cy="559.25" r="1.1" fill="#8ad0a4"/><circle cx="25.03" cy="559.54" r="1.1" fill="#81cda5"/><circle cx="26.83" cy="559.95" r="1.1" fill="#80cca5"/><circle cx="28.91" cy="558.89" r="1.1" fill="#72c7a5"/><circle cx="30.36" cy="559.08" r="1.1" fill="#b2e0a3"/><circle cx="32.29" cy="559.33" r="1.1" fill="#d4ee9c"/><circle cx="33.29" cy="559.11" r="1.1" fill="#e7f59a"/><circle cx="35.82" cy="559.58" r="1.1" fill="#eff9a6"/><circle cx="37.62" cy="558.57" r="1.1" fill="#ddf19a"/><circle cx="38.72" cy="559.2" r="1.1" fill="#f7fcb2"/><circle cx="40.67" cy="559.39" r="1.1" fill="#eef8a4"/><circle cx="42.24" cy="559.14" r="1.1" fill="#feffbe"/><circle cx="43.93" cy="559.09" r="1.1" fill="#c3e79f"/><circle cx="45.58" cy="559.11" r="1.1" fill="#d8ef9b"/><circle cx="47.17" cy="559.01" r="1.1" fill="#f9fdb6"/></g></g>
<g transform="translate(310.5,0)"><path d="M13,500 C17,497.5 28,496.8 36,497.8 C40,498.5 42,501.5 42.5,505 C45.5,506.5 46.5,511 43.5,512.5 C41,513.5 39.5,514 37,516 C32,519 22,520 14,516 C10.5,513.5 10.5,503 13,500 Z" fill="#ceeb9d"/><g clip-path="url(#ctop)"><circle cx="10.5" cy="495.66" r="1.1" fill="#fff9b5"/><circle cx="12.9" cy="495.66" r="1.1" fill="#fcfebb"/><circle cx="13.71" cy="496.02" r="1.1" fill="#f2faaa"/><circle cx="15.7" cy="495.98" r="1.1" fill="#f7fcb3"/><circle cx="17.94" cy="495.65" r="1.1" fill="#fff0a6"/><circle cx="18.97" cy="495.8" r="1.1" fill="#fffbb9"/><circle cx="20.49" cy="495.95" r="1.1" fill="#bce4a1"/><circle cx="22.5" cy="496.28" r="1.1" fill="#cdeb9d"/><circle cx="24.09" cy="496.34" r="1.1" fill="#aedea3"/><circle cx="25.67" cy="496.43" r="1.1" fill="#a4daa4"/><circle cx="27.57" cy="496.14" r="1.1" fill="#e7f59a"/><circle cx="29.53" cy="495.81" r="1.1" fill="#feefa5"/><circle cx="31.11" cy="496.16" r="1.1" fill="#94d4a4"/><circle cx="32.92" cy="496.46" r="1.1" fill="#c1e6a0"/><circle cx="34.63" cy="495.38" r="1.1" fill="#b4e1a2"/><circle cx="36.78" cy="496.62" r="1.1" fill="#7ecba5"/><circle cx="37.26" cy="496.39" r="1.1" fill="#e1f399"/><circle cx="40.2" cy="495.91" r="1.1" fill="#78c9a5"/><circle cx="41.78" cy="496.09" r="1.1" fill="#fdfebc"/><circle cx="43.57" cy="495.75" r="1.1" fill="#88cfa5"/><circle cx="45" cy="496.23" r="1.1" fill="#92d3a4"/><circle cx="10.85" cy="497.55" r="1.1" fill="#feeda1"/><circle cx="13.46" cy="497.98" r="1.1" fill="#fdfebd"/><circle cx="14.85" cy="497.93" r="1.1" fill="#eef8a5"/><circle cx="16.42" cy="497.53" r="1.1" fill="#fff9b5"/><circle cx="17.94" cy="497.75" r="1.1" fill="#ffffbe"/><circle cx="19.79" cy="497.52" r="1.1" fill="#fffdbc"/><circle cx="22.14" cy="497.73" r="1.1" fill="#67c2a5"/><circle cx="23.66" cy="497.5" r="1.1" fill="#acdea4"/><circle cx="24.67" cy="497.61" r="1.1" fill="#f7fcb3"/><circle cx="26.48" cy="498.16" r="1.1" fill="#72c7a5"/><circle cx="27.88" cy="497.65" r="1.1" fill="#d5ee9b"/><circle cx="29.73" cy="497.42" r="1.1" fill="#e9f69c"/><circle cx="31.25" cy="498.06" r="1.1" fill="#9dd7a4"/><circle cx="34.14" cy="498.45" r="1.1" fill="#ebf7a0"/><circle cx="35.04" cy="497.24" r="1.1" fill="#d2ed9c"/><circle cx="36.45" cy="497.19" r="1.1" fill="#a5dba4"/><circle cx="38.31" cy="497.44" r="1.1" fill="#82cda5"/><circle cx="40.35" cy="497.61" r="1.1" fill="#60bba8"/><circle cx="42.22" cy="497.6" r="1.1" fill="#fff2a9"/><circle cx="43.26" cy="497.93" r="1.1" fill="#8dd1a4"/><circle cx="45.37" cy="497.7" r="1.1" fill="#e6f598"/><circle cx="10.77" cy="499.26" r="1.1" fill="#fff8b4"/><circle cx="12.34" cy="499.39" r="1.1" fill="#fbfdb9"/><circle cx="14" cy="499.47" r="1.1" fill="#fff1a7"/><circle cx="15.91" cy="499.4" r="1.1" fill="#f5fbb0"/><circle cx="16.79" cy="499.16" r="1.1" fill="#fffdbc"/><circle cx="18.94" cy="499.33" r="1.1" fill="#fffebd"/><circle cx="20.73" cy="499.26" r="1.1" fill="#feec9f"/><circle cx="22.49" cy="499.35" r="1.1" fill="#67c2a5"/><circle cx="23.81" cy="499.38" r="1.1" fill="#9dd8a4"/><circle cx="26.14" cy="499.8" r="1.1" fill="#eef8a5"/><circle cx="27.42" cy="499.79" r="1.1" fill="#88cfa5"/><circle cx="30.11" cy="499.18" r="1.1" fill="#8ad0a4"/><circle cx="31.16" cy="499.34" r="1.1" fill="#fff9b4"/><circle cx="33.13" cy="499.58" r="1.1" fill="#fbfdb9"/><circle cx="34.74" cy="499.36" r="1.1" fill="#fffebe"/><circle cx="35.92" cy="499.57" r="1.1" fill="#f5fbaf"/><circle cx="38.21" cy="499.97" r="1.1" fill="#96d5a4"/><circle cx="40.12" cy="499.02" r="1.1" fill="#9bd7a4"/><circle cx="41.1" cy="499.92" r="1.1" fill="#d0ec9d"/><circle cx="42.68" cy="499.58" r="1.1" fill="#71c6a5"/><circle cx="45.06" cy="499.3" r="1.1" fill="#eaf79f"/><circle cx="46.46" cy="498.72" r="1.1" fill="#d5ee9b"/><circle cx="11.29" cy="501.34" r="1.1" fill="#fbfdb8"/><circle cx="13.05" cy="501.06" r="1.1" fill="#fff8b3"/><circle cx="14.84" cy="501.25" r="1.1" fill="#fff6b0"/><circle cx="15.71" cy="500.58" r="1.1" fill="#fffebd"/><circle cx="17.56" cy="500.93" r="1.1" fill="#feeb9e"/><circle cx="19.34" cy="501.39" r="1.1" fill="#fefebd"/><circle cx="21.57" cy="500.65" r="1.1" fill="#9bd7a4"/><circle cx="23.12" cy="501.24" r="1.1" fill="#9fd8a4"/><circle cx="25.33" cy="500.91" r="1.1" fill="#64c0a6"/><circle cx="26.37" cy="500.74" r="1.1" fill="#75c8a5"/><circle cx="28.18" cy="501.42" r="1.1" fill="#87cfa5"/><circle cx="29.4" cy="501.69" r="1.1" fill="#caea9e"/><circle cx="31.54" cy="500.99" r="1.1" fill="#83cea5"/><circle cx="33.49" cy="501.21" r="1.1" fill="#feefa4"/><circle cx="34.82" cy="500.71" r="1.1" fill="#90d3a4"/><circle cx="37.01" cy="500.88" r="1.1" fill="#7fcca5"/><circle cx="38.25" cy="501.3" r="1.1" fill="#fffdbb"/><circle cx="39.7" cy="501.05" r="1.1" fill="#a5dba4"/><circle cx="41.98" cy="501.48" r="1.1" fill="#fff8b3"/><circle cx="43.74" cy="501" r="1.1" fill="#97d5a4"/><circle cx="45.6" cy="501.51" r="1.1" fill="#fdfebc"/><circle cx="9.72" cy="502.49" r="1.1" fill="#edf8a3"/><circle cx="11.66" cy="502.85" r="1.1" fill="#ebf79f"/><circle cx="13.14" cy="502.46" r="1.1" fill="#cbea9e"/><circle cx="14.88" cy="503.21" r="1.1" fill="#b6e2a2"/><circle cx="17.36" cy="502.82" r="1.1" fill="#caea9e"/><circle cx="18.39" cy="503.26" r="1.1" fill="#ecf7a1"/><circle cx="20.26" cy="503.09" r="1.1" fill="#e4f498"/><circle cx="21.68" cy="502.45" r="1.1" fill="#ccea9d"/><circle cx="23.75" cy="502.84" r="1.1" fill="#d1ed9c"/><circle cx="25.49" cy="502.8" r="1.1" fill="#d2ed9c"/><circle cx="26.74" cy="502.78" r="1.1" fill="#fff5ae"/><circle cx="28.94" cy="502.72" r="1.1" fill="#fff4ac"/><circle cx="31" cy="502.69" r="1.1" fill="#ecf7a1"/><circle cx="32.56" cy="502.93" r="1.1" fill="#57b1ac"/><circle cx="33.88" cy="502.51" r="1.1" fill="#f3faac"/><circle cx="35.04" cy="502.86" r="1.1" fill="#f2faaa"/><circle cx="37.21" cy="502.66" r="1.1" fill="#7bcaa5"/><circle cx="39.3" cy="502.85" r="1.1" fill="#cbea9d"/><circle cx="40.64" cy="502.82" r="1.1" fill="#e9f69d"/><circle cx="42.57" cy="503.11" r="1.1" fill="#6dc5a5"/><circle cx="43.61" cy="502.74" r="1.1" fill="#5eb9a9"/><circle cx="45.85" cy="502.1" r="1.1" fill="#bfe5a0"/><circle cx="10.75" cy="504.21" r="1.1" fill="#cdeb9d"/><circle cx="12.15" cy="504.11" r="1.1" fill="#c3e79f"/><circle cx="13.95" cy="504.74" r="1.1" fill="#79caa5"/><circle cx="15.85" cy="504.66" r="1.1" fill="#f7fcb2"/><circle cx="17.11" cy="503.94" r="1.1" fill="#6cc5a5"/><circle cx="19.04" cy="504.65" r="1.1" fill="#8fd2a4"/><circle cx="21.61" cy="504.33" r="1.1" fill="#65c1a6"/><circle cx="22.02" cy="504.1" r="1.1" fill="#78c9a5"/><circle cx="24.03" cy="504.02" r="1.1" fill="#e7f599"/><circle cx="25.85" cy="503.97" r="1.1" fill="#7dcba5"/><circle cx="28.02" cy="504.5" r="1.1" fill="#aedea3"/><circle cx="29.58" cy="504.44" r="1.1" fill="#6ac3a5"/><circle cx="30.76" cy="504.59" r="1.1" fill="#9fd8a4"/><circle cx="32.44" cy="504.68" r="1.1" fill="#e7f599"/><circle cx="34.71" cy="503.9" r="1.1" fill="#fbfdb8"/><circle cx="35.82" cy="504.45" r="1.1" fill="#cceb9d"/><circle cx="37.85" cy="504.48" r="1.1" fill="#99d6a4"/><circle cx="39.34" cy="504.19" r="1.1" fill="#8ad0a4"/><circle cx="40.82" cy="504.55" r="1.1" fill="#98d6a4"/><circle cx="42.86" cy="504.01" r="1.1" fill="#b4e0a2"/><circle cx="44.46" cy="504.24" r="1.1" fill="#86cfa5"/><circle cx="46.11" cy="504.76" r="1.1" fill="#fcfeba"/><circle cx="11.61" cy="506.45" r="1.1" fill="#4da6b1"/><circle cx="12.73" cy="505.89" r="1.1" fill="#f7fcb3"/><circle cx="14.39" cy="505.99" r="1.1" fill="#a4daa4"/><circle cx="15.32" cy="506.42" r="1.1" fill="#bce4a0"/><circle cx="17.87" cy="505.91" r="1.1" fill="#ffffbe"/><circle cx="19.4" cy="505.94" r="1.1" fill="#cdeb9d"/><circle cx="21.22" cy="506.23" r="1.1" fill="#9bd7a4"/><circle cx="23.16" cy="506.01" r="1.1" fill="#b3e0a2"/><circle cx="24.42" cy="506.44" r="1.1" fill="#c8e99e"/><circle cx="26.39" cy="506.11" r="1.1" fill="#72c7a5"/><circle cx="27.87" cy="506.69" r="1.1" fill="#edf8a2"/><circle cx="29.73" cy="506.79" r="1.1" fill="#bee5a0"/><circle cx="31.71" cy="506.21" r="1.1" fill="#c5e79f"/><circle cx="33.09" cy="506.69" r="1.1" fill="#bae3a1"/><circle cx="34.77" cy="506.25" r="1.1" fill="#7fcca5"/><circle cx="35.9" cy="506" r="1.1" fill="#afdfa3"/><circle cx="37.68" cy="506.56" r="1.1" fill="#a7dba4"/><circle cx="39.59" cy="506.41" r="1.1" fill="#eaf79e"/><circle cx="41.63" cy="506.28" r="1.1" fill="#daf09a"/><circle cx="43.5" cy="506.13" r="1.1" fill="#7ecba5"/><circle cx="44.76" cy="506.55" r="1.1" fill="#66c2a5"/><circle cx="10.32" cy="507.97" r="1.1" fill="#5eb9a9"/><circle cx="12.12" cy="508.16" r="1.1" fill="#eaf69e"/><circle cx="14.13" cy="507.44" r="1.1" fill="#97d5a4"/><circle cx="15.16" cy="507.61" r="1.1" fill="#f0f9a7"/><circle cx="16.68" cy="508.15" r="1.1" fill="#8ed2a4"/><circle cx="18.83" cy="508.17" r="1.1" fill="#b9e3a1"/><circle cx="20" cy="507.66" r="1.1" fill="#bbe4a1"/><circle cx="21.88" cy="507.54" r="1.1" fill="#70c6a5"/><circle cx="23.56" cy="508.46" r="1.1" fill="#84cea5"/><circle cx="25.66" cy="508.22" r="1.1" fill="#f1faaa"/><circle cx="27.4" cy="507.69" r="1.1" fill="#c2e69f"/><circle cx="29.11" cy="507.44" r="1.1" fill="#c4e79f"/><circle cx="31.33" cy="508.11" r="1.1" fill="#ceeb9d"/><circle cx="31.87" cy="507.73" r="1.1" fill="#c8e99e"/><circle cx="33.53" cy="508" r="1.1" fill="#a4daa4"/><circle cx="35.59" cy="508.24" r="1.1" fill="#b7e2a2"/><circle cx="37.55" cy="507.69" r="1.1" fill="#def29a"/><circle cx="39.28" cy="507.6" r="1.1" fill="#cbea9e"/><circle cx="40.83" cy="507.41" r="1.1" fill="#97d5a4"/><circle cx="42.78" cy="508.27" r="1.1" fill="#fffbb8"/><circle cx="44.43" cy="508.23" r="1.1" fill="#90d3a4"/><circle cx="45.95" cy="508.03" r="1.1" fill="#e8f69b"/><circle cx="9.92" cy="509.64" r="1.1" fill="#74c8a5"/><circle cx="11.92" cy="509.57" r="1.1" fill="#f8fcb5"/><circle cx="13.78" cy="509.98" r="1.1" fill="#e4f498"/><circle cx="14.61" cy="509.56" r="1.1" fill="#fffdbc"/><circle cx="16.94" cy="509.76" r="1.1" fill="#81cda5"/><circle cx="18.48" cy="509.3" r="1.1" fill="#a8dca4"/><circle cx="20.59" cy="509.5" r="1.1" fill="#72c7a5"/><circle cx="22.47" cy="509.84" r="1.1" fill="#f0f9a8"/><circle cx="24.08" cy="509.56" r="1.1" fill="#dbf19a"/><circle cx="25.34" cy="509.17" r="1.1" fill="#eff9a6"/><circle cx="27.14" cy="509.73" r="1.1" fill="#70c6a5"/><circle cx="28.98" cy="509.35" r="1.1" fill="#75c8a5"/><circle cx="30.13" cy="509.78" r="1.1" fill="#f4fbae"/><circle cx="31.96" cy="509.21" r="1.1" fill="#f9fdb6"/><circle cx="33.96" cy="509.46" r="1.1" fill="#ffffbe"/><circle cx="35.43" cy="509.4" r="1.1" fill="#ffffbf"/><circle cx="37.53" cy="509.51" r="1.1" fill="#b3e0a2"/><circle cx="39.37" cy="509.27" r="1.1" fill="#e1f399"/><circle cx="41.02" cy="509.89" r="1.1" fill="#d5ee9c"/><circle cx="42.67" cy="509.18" r="1.1" fill="#5db8a9"/><circle cx="44.46" cy="509.42" r="1.1" fill="#4097b7"/><circle cx="46.12" cy="509.9" r="1.1" fill="#88cfa5"/><circle cx="10.77" cy="511.3" r="1.1" fill="#fff7b2"/><circle cx="12.46" cy="511.13" r="1.1" fill="#e8f69b"/><circle cx="13.61" cy="511.44" r="1.1" fill="#64c0a6"/><circle cx="15.4" cy="511.09" r="1.1" fill="#c4e79f"/><circle cx="17.27" cy="511.7" r="1.1" fill="#b7e2a1"/><circle cx="19.05" cy="510.94" r="1.1" fill="#ffffbe"/><circle cx="20.86" cy="511.41" r="1.1" fill="#65c1a5"/><circle cx="22.41" cy="511.02" r="1.1" fill="#daf09b"/><circle cx="24.43" cy="511.58" r="1.1" fill="#79c9a5"/><circle cx="25.48" cy="511.63" r="1.1" fill="#cbea9e"/><circle cx="27.25" cy="511.26" r="1.1" fill="#f1f9a8"/><circle cx="29.11" cy="511.24" r="1.1" fill="#7bcaa5"/><circle cx="30.35" cy="511.16" r="1.1" fill="#9ed8a4"/><circle cx="32.39" cy="510.78" r="1.1" fill="#74c7a5"/><circle cx="34.26" cy="511.55" r="1.1" fill="#99d6a4"/><circle cx="35.27" cy="511.2" r="1.1" fill="#c5e89f"/><circle cx="37.46" cy="511" r="1.1" fill="#f57245"/><circle cx="39.21" cy="510.57" r="1.1" fill="#fede89"/><circle cx="41.15" cy="511.15" r="1.1" fill="#fed17e"/><circle cx="42.41" cy="511.54" r="1.1" fill="#fff5ae"/><circle cx="44.17" cy="511.28" r="1.1" fill="#dcf19a"/><circle cx="45.81" cy="511.09" r="1.1" fill="#de4c4b"/><circle cx="11.53" cy="513.02" r="1.1" fill="#fffcb9"/><circle cx="12.77" cy="512.46" r="1.1" fill="#bbe4a1"/><circle cx="15.26" cy="512.96" r="1.1" fill="#fff9b5"/><circle cx="16.53" cy="512.89" r="1.1" fill="#72c7a5"/><circle cx="17.93" cy="513.21" r="1.1" fill="#f1faaa"/><circle cx="19.91" cy="513.03" r="1.1" fill="#c4e79f"/><circle cx="21.56" cy="513.05" r="1.1" fill="#d8ef9b"/><circle cx="23.5" cy="513.02" r="1.1" fill="#7acaa5"/><circle cx="24.55" cy="513.24" r="1.1" fill="#fafdb7"/><circle cx="26.68" cy="513.32" r="1.1" fill="#6ec5a5"/><circle cx="28.16" cy="512.91" r="1.1" fill="#e3f499"/><circle cx="30.31" cy="513.56" r="1.1" fill="#69c3a5"/><circle cx="31.4" cy="512.87" r="1.1" fill="#8cd1a4"/><circle cx="33.41" cy="513.1" r="1.1" fill="#5cb7a9"/><circle cx="34.95" cy="513.17" r="1.1" fill="#feeb9d"/><circle cx="36.62" cy="512.39" r="1.1" fill="#ffffbf"/><circle cx="38.47" cy="512.76" r="1.1" fill="#c1e6a0"/><circle cx="40.52" cy="512.84" r="1.1" fill="#f16944"/><circle cx="41.63" cy="513.02" r="1.1" fill="#fed784"/><circle cx="44.06" cy="512.63" r="1.1" fill="#ee6445"/><circle cx="45.93" cy="513.2" r="1.1" fill="#b7e2a2"/><circle cx="10.21" cy="514.88" r="1.1" fill="#bbe3a1"/><circle cx="12.12" cy="514.83" r="1.1" fill="#fee899"/><circle cx="13.77" cy="514.62" r="1.1" fill="#6cc5a5"/><circle cx="14.77" cy="514.91" r="1.1" fill="#fafdb7"/><circle cx="17.18" cy="514.41" r="1.1" fill="#e3f499"/><circle cx="18.48" cy="514.33" r="1.1" fill="#7ccba5"/><circle cx="20.43" cy="515.07" r="1.1" fill="#57b2ac"/><circle cx="21.77" cy="515.27" r="1.1" fill="#68c3a5"/><circle cx="23.45" cy="515.15" r="1.1" fill="#f4fbae"/><circle cx="25.33" cy="514.64" r="1.1" fill="#7acaa5"/><circle cx="27.05" cy="515.02" r="1.1" fill="#e8f69c"/><circle cx="28.83" cy="514.59" r="1.1" fill="#fffebd"/><circle cx="30.68" cy="514.33" r="1.1" fill="#f5fbaf"/><circle cx="32.11" cy="514.18" r="1.1" fill="#b0dfa3"/><circle cx="33.9" cy="514.42" r="1.1" fill="#f1f9a9"/><circle cx="35.48" cy="514.51" r="1.1" fill="#a9dca4"/><circle cx="37.24" cy="514.52" r="1.1" fill="#71c6a5"/><circle cx="39.33" cy="514.41" r="1.1" fill="#d1ed9c"/><circle cx="40.93" cy="514.64" r="1.1" fill="#82cda5"/><circle cx="42.29" cy="514.36" r="1.1" fill="#f47145"/><circle cx="44.2" cy="514.9" r="1.1" fill="#7ecba5"/><circle cx="46.16" cy="514.21" r="1.1" fill="#fedb87"/><circle cx="9.54" cy="516.65" r="1.1" fill="#f1f9a9"/><circle cx="11.91" cy="516.81" r="1.1" fill="#b4e1a2"/><circle cx="13.46" cy="516.24" r="1.1" fill="#fff9b4"/><circle cx="15.61" cy="516.45" r="1.1" fill="#f1f9aa"/><circle cx="16.82" cy="516.26" r="1.1" fill="#67c2a5"/><circle cx="18.49" cy="516.11" r="1.1" fill="#feffbe"/><circle cx="19.93" cy="516.53" r="1.1" fill="#e5f598"/><circle cx="22.07" cy="516.29" r="1.1" fill="#dff299"/><circle cx="23.46" cy="516.47" r="1.1" fill="#70c6a5"/><circle cx="25.72" cy="516.52" r="1.1" fill="#f8fcb4"/><circle cx="27.55" cy="516.17" r="1.1" fill="#7acaa5"/><circle cx="29.18" cy="516.58" r="1.1" fill="#f2faaa"/><circle cx="30.7" cy="516.26" r="1.1" fill="#eff9a6"/><circle cx="32.84" cy="515.87" r="1.1" fill="#aedea3"/><circle cx="33.55" cy="516.42" r="1.1" fill="#94d4a4"/><circle cx="35.42" cy="516.95" r="1.1" fill="#94d4a4"/><circle cx="37.02" cy="516.44" r="1.1" fill="#fed985"/><circle cx="38.48" cy="516.58" r="1.1" fill="#fbfdb9"/><circle cx="40.55" cy="516.46" r="1.1" fill="#f7fcb2"/><circle cx="41.72" cy="516.25" r="1.1" fill="#fedb87"/><circle cx="44.16" cy="516.11" r="1.1" fill="#6fc6a5"/><circle cx="45.61" cy="516.75" r="1.1" fill="#8bd0a4"/><circle cx="10.6" cy="518.37" r="1.1" fill="#f8fcb4"/><circle cx="12.39" cy="517.89" r="1.1" fill="#f0f9a7"/><circle cx="14.33" cy="518.3" r="1.1" fill="#fbfdb8"/><circle cx="15.86" cy="518.05" r="1.1" fill="#feea9c"/><circle cx="18.24" cy="518.44" r="1.1" fill="#feffbd"/><circle cx="18.82" cy="518.06" r="1.1" fill="#fee796"/><circle cx="21.12" cy="518.37" r="1.1" fill="#fff7b2"/><circle cx="22.83" cy="517.19" r="1.1" fill="#fffdbc"/><circle cx="24.69" cy="517.75" r="1.1" fill="#ffffbf"/><circle cx="27.22" cy="517.75" r="1.1" fill="#f6fbb1"/><circle cx="28.41" cy="518.33" r="1.1" fill="#f3faad"/><circle cx="29.84" cy="517.87" r="1.1" fill="#fff7b1"/><circle cx="31.07" cy="517.81" r="1.1" fill="#fdfebc"/><circle cx="32.98" cy="518.07" r="1.1" fill="#fee898"/><circle cx="35.1" cy="518.19" r="1.1" fill="#ee6445"/><circle cx="36.56" cy="517.82" r="1.1" fill="#f1f9a9"/><circle cx="38.17" cy="517.92" r="1.1" fill="#fff5ae"/><circle cx="39.35" cy="517.9" r="1.1" fill="#feea9b"/><circle cx="41.48" cy="517.91" r="1.1" fill="#fffbb8"/><circle cx="43.56" cy="518.86" r="1.1" fill="#fffebd"/><circle cx="45.38" cy="518.09" r="1.1" fill="#eaf79e"/><circle cx="10.46" cy="519.97" r="1.1" fill="#fffebe"/><circle cx="11.79" cy="519.6" r="1.1" fill="#ffffbf"/><circle cx="13.52" cy="519.83" r="1.1" fill="#fdfebc"/><circle cx="15.26" cy="519.99" r="1.1" fill="#fee696"/><circle cx="16.97" cy="519.76" r="1.1" fill="#fff4ad"/><circle cx="19.07" cy="519.31" r="1.1" fill="#eef8a4"/><circle cx="20.67" cy="519.85" r="1.1" fill="#fff7b2"/><circle cx="21.9" cy="520.15" r="1.1" fill="#f8fcb4"/><circle cx="23.78" cy="519.88" r="1.1" fill="#fffcba"/><circle cx="25.78" cy="519.32" r="1.1" fill="#fffebd"/><circle cx="27.37" cy="519.96" r="1.1" fill="#f5fbaf"/><circle cx="28.76" cy="519.69" r="1.1" fill="#fcfeba"/><circle cx="30.75" cy="519.48" r="1.1" fill="#feffbe"/><circle cx="32.55" cy="519.98" r="1.1" fill="#fff1a7"/><circle cx="34.14" cy="519.73" r="1.1" fill="#fff6b0"/><circle cx="35.54" cy="519.95" r="1.1" fill="#f9fdb6"/><circle cx="37.99" cy="519.47" r="1.1" fill="#e75948"/><circle cx="39.35" cy="519.58" r="1.1" fill="#fff7b1"/><circle cx="40.98" cy="520.03" r="1.1" fill="#f7804c"/><circle cx="42.84" cy="519.57" r="1.1" fill="#fff5ae"/><circle cx="44.23" cy="519.43" r="1.1" fill="#ef6645"/><circle cx="45.79" cy="520.12" r="1.1" fill="#f26a44"/></g></g>
<g transform="translate(310.5,0)"><path d="M14.5,552 C14.5,547 18,544 24,543.8 C28,543.6 31,544 34,544.5 C36,542.5 38,541.2 41,541.2 C44.5,541.2 46.5,543 46,545.5 C45.5,548 42,549.2 38,549 C36,550 35,553 32.5,556 C30,558.5 26,559.6 22,559.5 C17.5,559.2 14.5,556.5 14.5,552 Z" fill="#daf09a"/><g clip-path="url(#cbot)"><circle cx="13.58" cy="540.27" r="1.1" fill="#e0f399"/><circle cx="15.8" cy="540.8" r="1.1" fill="#9dd8a4"/><circle cx="16.87" cy="540.18" r="1.1" fill="#cfec9d"/><circle cx="18.5" cy="540.19" r="1.1" fill="#b3e0a2"/><circle cx="20.2" cy="540.56" r="1.1" fill="#e5f598"/><circle cx="22.65" cy="540.4" r="1.1" fill="#f4fbaf"/><circle cx="24.11" cy="540.28" r="1.1" fill="#6ac3a5"/><circle cx="26.01" cy="540.19" r="1.1" fill="#85cea5"/><circle cx="27.6" cy="541.24" r="1.1" fill="#5db7a9"/><circle cx="28.99" cy="540.14" r="1.1" fill="#9fd8a4"/><circle cx="30.6" cy="540.44" r="1.1" fill="#ecf7a1"/><circle cx="32.47" cy="540.95" r="1.1" fill="#cbea9d"/><circle cx="34.27" cy="540.75" r="1.1" fill="#e6f598"/><circle cx="35.88" cy="540.61" r="1.1" fill="#7ccaa5"/><circle cx="37.67" cy="540.49" r="1.1" fill="#e2f399"/><circle cx="39.56" cy="540.61" r="1.1" fill="#a0d9a4"/><circle cx="41.2" cy="540.46" r="1.1" fill="#eff9a6"/><circle cx="43.25" cy="540.42" r="1.1" fill="#f8fcb4"/><circle cx="44.67" cy="540.36" r="1.1" fill="#cfec9d"/><circle cx="45.78" cy="540.82" r="1.1" fill="#f1f9a9"/><circle cx="14.59" cy="542.41" r="1.1" fill="#daf09a"/><circle cx="16.3" cy="541.83" r="1.1" fill="#e9f69d"/><circle cx="18.23" cy="541.53" r="1.1" fill="#96d5a4"/><circle cx="19.31" cy="542.31" r="1.1" fill="#e7f599"/><circle cx="21.24" cy="542.34" r="1.1" fill="#f1faaa"/><circle cx="22.74" cy="542.09" r="1.1" fill="#87cfa5"/><circle cx="24.72" cy="542.2" r="1.1" fill="#9bd7a4"/><circle cx="26.71" cy="542.25" r="1.1" fill="#f8fcb3"/><circle cx="28.5" cy="541.52" r="1.1" fill="#e2f399"/><circle cx="29.52" cy="542.48" r="1.1" fill="#fffab6"/><circle cx="31.52" cy="542.52" r="1.1" fill="#ecf8a2"/><circle cx="33.47" cy="542.21" r="1.1" fill="#f4fbae"/><circle cx="34.41" cy="541.86" r="1.1" fill="#f5fbaf"/><circle cx="36.96" cy="542.13" r="1.1" fill="#58b2ac"/><circle cx="38.08" cy="541.79" r="1.1" fill="#6ec5a5"/><circle cx="39.99" cy="542.34" r="1.1" fill="#e9f69d"/><circle cx="41.59" cy="542.48" r="1.1" fill="#eff9a6"/><circle cx="43.09" cy="542.11" r="1.1" fill="#f7fcb3"/><circle cx="44.8" cy="542.18" r="1.1" fill="#f0f9a7"/><circle cx="46.76" cy="542.28" r="1.1" fill="#8bd1a4"/><circle cx="13.81" cy="544.03" r="1.1" fill="#f8fcb3"/><circle cx="16.18" cy="544.16" r="1.1" fill="#eff9a6"/><circle cx="17.62" cy="543.98" r="1.1" fill="#88cfa5"/><circle cx="19.39" cy="543.86" r="1.1" fill="#f1f9a8"/><circle cx="21.17" cy="543.1" r="1.1" fill="#d1ed9c"/><circle cx="22.94" cy="543.91" r="1.1" fill="#99d6a4"/><circle cx="24.34" cy="544.53" r="1.1" fill="#eff8a5"/><circle cx="26.3" cy="543.97" r="1.1" fill="#e8f69b"/><circle cx="27.82" cy="543.88" r="1.1" fill="#f6fbb1"/><circle cx="29.47" cy="543.45" r="1.1" fill="#68c3a5"/><circle cx="30.54" cy="544.07" r="1.1" fill="#e0f399"/><circle cx="32.56" cy="543.94" r="1.1" fill="#d4ee9c"/><circle cx="34.49" cy="544.23" r="1.1" fill="#addea4"/><circle cx="36.24" cy="544.08" r="1.1" fill="#f0f9a8"/><circle cx="37.99" cy="544.24" r="1.1" fill="#dbf19a"/><circle cx="39.66" cy="543.71" r="1.1" fill="#f7fcb2"/><circle cx="41.27" cy="543.62" r="1.1" fill="#a7dba4"/><circle cx="43.44" cy="544.02" r="1.1" fill="#e9f69c"/><circle cx="44.8" cy="544.06" r="1.1" fill="#e8f69b"/><circle cx="46.71" cy="544.02" r="1.1" fill="#ecf7a1"/><circle cx="14.65" cy="545.64" r="1.1" fill="#caea9e"/><circle cx="16.61" cy="545.73" r="1.1" fill="#aadda4"/><circle cx="18.43" cy="545.43" r="1.1" fill="#e9f69c"/><circle cx="20.24" cy="545.4" r="1.1" fill="#acdda4"/><circle cx="21.74" cy="545.69" r="1.1" fill="#f5fbb0"/><circle cx="23.75" cy="545.85" r="1.1" fill="#e4f499"/><circle cx="25.02" cy="545.48" r="1.1" fill="#e8f69a"/><circle cx="26.83" cy="544.91" r="1.1" fill="#edf8a3"/><circle cx="27.86" cy="546.2" r="1.1" fill="#ddf19a"/><circle cx="29.56" cy="545.63" r="1.1" fill="#fffdbb"/><circle cx="31.77" cy="545.37" r="1.1" fill="#c2e69f"/><circle cx="33.39" cy="545.8" r="1.1" fill="#e9f69c"/><circle cx="35.25" cy="545.28" r="1.1" fill="#d2ed9c"/><circle cx="36.65" cy="545.58" r="1.1" fill="#e7f599"/><circle cx="38.38" cy="545.41" r="1.1" fill="#7acaa5"/><circle cx="40.68" cy="545.38" r="1.1" fill="#aadda4"/><circle cx="41.98" cy="545.4" r="1.1" fill="#59b3ab"/><circle cx="43.62" cy="546.09" r="1.1" fill="#eaf69e"/><circle cx="45.03" cy="545.55" r="1.1" fill="#d5ee9c"/><circle cx="46.53" cy="545.8" r="1.1" fill="#86cfa5"/><circle cx="15.6" cy="547.48" r="1.1" fill="#f4fbae"/><circle cx="16.93" cy="547.53" r="1.1" fill="#eef8a4"/><circle cx="18.14" cy="547.47" r="1.1" fill="#86cea5"/><circle cx="20" cy="547.11" r="1.1" fill="#e5f598"/><circle cx="21.06" cy="546.72" r="1.1" fill="#d2ed9c"/><circle cx="23.18" cy="547.2" r="1.1" fill="#d3ed9c"/><circle cx="25.55" cy="547.2" r="1.1" fill="#98d6a4"/><circle cx="26.38" cy="546.72" r="1.1" fill="#d5ee9c"/><circle cx="29.01" cy="547.45" r="1.1" fill="#e4f498"/><circle cx="29.57" cy="547.32" r="1.1" fill="#e8f69c"/><circle cx="31.69" cy="546.96" r="1.1" fill="#87cfa5"/><circle cx="33.96" cy="547.23" r="1.1" fill="#78c9a5"/><circle cx="35.07" cy="547.66" r="1.1" fill="#f7fcb2"/><circle cx="36.48" cy="547.42" r="1.1" fill="#9ed8a4"/><circle cx="38.84" cy="546.92" r="1.1" fill="#75c8a5"/><circle cx="40.52" cy="547.75" r="1.1" fill="#e6f598"/><circle cx="41.25" cy="547.56" r="1.1" fill="#9ed8a4"/><circle cx="43.75" cy="546.97" r="1.1" fill="#bee5a0"/><circle cx="45.08" cy="547.37" r="1.1" fill="#ecf7a1"/><circle cx="46.99" cy="547.14" r="1.1" fill="#78c9a5"/><circle cx="14.81" cy="549.1" r="1.1" fill="#dff299"/><circle cx="16.99" cy="548.9" r="1.1" fill="#edf8a3"/><circle cx="17.9" cy="549.25" r="1.1" fill="#d0ec9d"/><circle cx="19.59" cy="548.94" r="1.1" fill="#d9f09b"/><circle cx="20.97" cy="548.93" r="1.1" fill="#e9f69d"/><circle cx="22.38" cy="549.4" r="1.1" fill="#cfec9d"/><circle cx="24.73" cy="548.72" r="1.1" fill="#acdda4"/><circle cx="26.69" cy="548.42" r="1.1" fill="#e7f599"/><circle cx="28.56" cy="549.36" r="1.1" fill="#6cc4a5"/><circle cx="30.12" cy="548.87" r="1.1" fill="#fffdbb"/><circle cx="31.56" cy="548.83" r="1.1" fill="#8dd1a4"/><circle cx="33.58" cy="548.73" r="1.1" fill="#eff9a6"/><circle cx="35.1" cy="549.46" r="1.1" fill="#fcfebb"/><circle cx="36.77" cy="549.25" r="1.1" fill="#def29a"/><circle cx="38.15" cy="549.27" r="1.1" fill="#9ed8a4"/><circle cx="40.8" cy="548.8" r="1.1" fill="#e8f69c"/><circle cx="41.78" cy="548.94" r="1.1" fill="#ddf19a"/><circle cx="44.03" cy="548.83" r="1.1" fill="#e7f59a"/><circle cx="45.25" cy="548.99" r="1.1" fill="#f4fbae"/><circle cx="46.82" cy="549.04" r="1.1" fill="#f5fbaf"/><circle cx="14.63" cy="550.34" r="1.1" fill="#ecf7a2"/><circle cx="16.24" cy="550.94" r="1.1" fill="#71c6a5"/><circle cx="17.65" cy="550.99" r="1.1" fill="#f9fdb5"/><circle cx="19.57" cy="550.58" r="1.1" fill="#a1d9a4"/><circle cx="21.5" cy="550.74" r="1.1" fill="#93d4a4"/><circle cx="22.95" cy="550.5" r="1.1" fill="#80cca5"/><circle cx="25.11" cy="550.97" r="1.1" fill="#e2f499"/><circle cx="26.3" cy="550.64" r="1.1" fill="#99d6a4"/><circle cx="28.29" cy="550.13" r="1.1" fill="#eaf69e"/><circle cx="29.73" cy="550.9" r="1.1" fill="#d5ee9b"/><circle cx="31.58" cy="550.44" r="1.1" fill="#eef8a5"/><circle cx="33.02" cy="550.71" r="1.1" fill="#e9f69d"/><circle cx="35.09" cy="550.63" r="1.1" fill="#f0f9a7"/><circle cx="36.87" cy="550.61" r="1.1" fill="#eaf69e"/><circle cx="38.28" cy="550.62" r="1.1" fill="#d5ee9b"/><circle cx="40.04" cy="550.25" r="1.1" fill="#ebf7a0"/><circle cx="42.28" cy="550.83" r="1.1" fill="#6dc5a5"/><circle cx="43.87" cy="551.33" r="1.1" fill="#74c8a5"/><circle cx="44.62" cy="550.46" r="1.1" fill="#eaf69d"/><circle cx="46.64" cy="550.53" r="1.1" fill="#7acaa5"/><circle cx="15.01" cy="552.09" r="1.1" fill="#81cda5"/><circle cx="16.73" cy="552.19" r="1.1" fill="#eaf79f"/><circle cx="18.51" cy="552.35" r="1.1" fill="#ffffbf"/><circle cx="20.02" cy="552.92" r="1.1" fill="#b3e0a2"/><circle cx="21.72" cy="552.48" r="1.1" fill="#ebf7a0"/><circle cx="23.16" cy="552.6" r="1.1" fill="#e9f69d"/><circle cx="25.39" cy="552.36" r="1.1" fill="#eaf79f"/><circle cx="27" cy="552.4" r="1.1" fill="#449cb5"/><circle cx="28.9" cy="552.67" r="1.1" fill="#eff9a7"/><circle cx="30.73" cy="552.13" r="1.1" fill="#f4fbae"/><circle cx="32.22" cy="552.38" r="1.1" fill="#9ad7a4"/><circle cx="33.91" cy="552.72" r="1.1" fill="#d5ee9b"/><circle cx="34.83" cy="552.26" r="1.1" fill="#b4e1a2"/><circle cx="37.37" cy="552.22" r="1.1" fill="#85cea5"/><circle cx="38.46" cy="552.82" r="1.1" fill="#eef8a4"/><circle cx="40.59" cy="552.09" r="1.1" fill="#e9f69d"/><circle cx="42.55" cy="551.95" r="1.1" fill="#7dcba5"/><circle cx="43.09" cy="552.86" r="1.1" fill="#e8f69c"/><circle cx="45.78" cy="552.61" r="1.1" fill="#80cca5"/><circle cx="47.2" cy="552.48" r="1.1" fill="#fdfebc"/><circle cx="13.89" cy="554.28" r="1.1" fill="#e2f399"/><circle cx="15.59" cy="553.76" r="1.1" fill="#f5fbb0"/><circle cx="17.1" cy="554.13" r="1.1" fill="#81cca5"/><circle cx="19.23" cy="554.54" r="1.1" fill="#eff8a5"/><circle cx="20.1" cy="554.22" r="1.1" fill="#72c7a5"/><circle cx="22.59" cy="554.32" r="1.1" fill="#9ad6a4"/><circle cx="23.44" cy="554.14" r="1.1" fill="#77c9a5"/><circle cx="24.94" cy="554.3" r="1.1" fill="#e9f69d"/><circle cx="26.8" cy="553.54" r="1.1" fill="#d4ee9c"/><circle cx="29.12" cy="554.28" r="1.1" fill="#eaf69e"/><circle cx="30.71" cy="553.83" r="1.1" fill="#c9e99e"/><circle cx="32.13" cy="554.11" r="1.1" fill="#81cda5"/><circle cx="33.99" cy="554.03" r="1.1" fill="#dff299"/><circle cx="35.44" cy="553.82" r="1.1" fill="#e3f499"/><circle cx="37.54" cy="554.12" r="1.1" fill="#ebf79f"/><circle cx="39.25" cy="554.41" r="1.1" fill="#f1f9a9"/><circle cx="40.93" cy="554.3" r="1.1" fill="#ebf7a0"/><circle cx="42.41" cy="554.2" r="1.1" fill="#ebf7a0"/><circle cx="44.58" cy="554.15" r="1.1" fill="#f8fcb4"/><circle cx="46.56" cy="554.06" r="1.1" fill="#f2faab"/><circle cx="14.16" cy="555.42" r="1.1" fill="#feea9d"/><circle cx="16.1" cy="555.77" r="1.1" fill="#fcfebb"/><circle cx="17.76" cy="555.6" r="1.1" fill="#ffffbe"/><circle cx="19.34" cy="556.38" r="1.1" fill="#e8f69a"/><circle cx="20.69" cy="555.26" r="1.1" fill="#fff6b0"/><circle cx="22.46" cy="555.52" r="1.1" fill="#f9fdb5"/><circle cx="24.5" cy="555.77" r="1.1" fill="#74c8a5"/><circle cx="26.33" cy="556.27" r="1.1" fill="#c0e5a0"/><circle cx="28.09" cy="556.08" r="1.1" fill="#98d6a4"/><circle cx="29.41" cy="555.59" r="1.1" fill="#bde4a0"/><circle cx="31.91" cy="555.93" r="1.1" fill="#f8fcb4"/><circle cx="33.38" cy="555.98" r="1.1" fill="#feeda2"/><circle cx="34.47" cy="555.56" r="1.1" fill="#fff7b2"/><circle cx="36.32" cy="555.89" r="1.1" fill="#b8e2a1"/><circle cx="38.26" cy="555.78" r="1.1" fill="#bce4a0"/><circle cx="39.59" cy="555.7" r="1.1" fill="#fefebd"/><circle cx="41.46" cy="555.92" r="1.1" fill="#fff2a8"/><circle cx="43.05" cy="556.16" r="1.1" fill="#d1ec9c"/><circle cx="44.79" cy="555.87" r="1.1" fill="#c7e89e"/><circle cx="46.7" cy="556.52" r="1.1" fill="#fff7b2"/><circle cx="14.84" cy="558.08" r="1.1" fill="#e1f399"/><circle cx="16.41" cy="558.02" r="1.1" fill="#fdfebd"/><circle cx="17.85" cy="557.42" r="1.1" fill="#c0e5a0"/><circle cx="20.37" cy="557.09" r="1.1" fill="#eef8a5"/><circle cx="21.04" cy="558.11" r="1.1" fill="#9fd8a4"/><circle cx="23.05" cy="557.26" r="1.1" fill="#b0dfa3"/><circle cx="24.91" cy="557.64" r="1.1" fill="#fcfeba"/><circle cx="26.38" cy="556.97" r="1.1" fill="#c1e6a0"/><circle cx="27.95" cy="557.83" r="1.1" fill="#bae3a1"/><circle cx="29.46" cy="557.66" r="1.1" fill="#c1e69f"/><circle cx="31.72" cy="557.54" r="1.1" fill="#b0dfa3"/><circle cx="33.58" cy="557.16" r="1.1" fill="#fff7b1"/><circle cx="34.81" cy="557.47" r="1.1" fill="#fff6b0"/><circle cx="36.5" cy="557.66" r="1.1" fill="#c7e89e"/><circle cx="38.84" cy="557.15" r="1.1" fill="#fffab7"/><circle cx="40.28" cy="557.58" r="1.1" fill="#afdfa3"/><circle cx="42" cy="556.94" r="1.1" fill="#c2e69f"/><circle cx="43.67" cy="557.27" r="1.1" fill="#fffdbb"/><circle cx="45.11" cy="557.65" r="1.1" fill="#b4e1a2"/><circle cx="47.1" cy="557.55" r="1.1" fill="#b1dfa3"/><circle cx="14.38" cy="559.35" r="1.1" fill="#9fd8a4"/><circle cx="15.56" cy="559.07" r="1.1" fill="#fffcbb"/><circle cx="17.99" cy="558.2" r="1.1" fill="#f2faab"/><circle cx="19.72" cy="558.85" r="1.1" fill="#a2d9a4"/><circle cx="21.1" cy="559.33" r="1.1" fill="#eaf79e"/><circle cx="23.27" cy="559.14" r="1.1" fill="#bde4a0"/><circle cx="24.69" cy="559.82" r="1.1" fill="#f3faad"/><circle cx="27" cy="558.44" r="1.1" fill="#f1faaa"/><circle cx="27.81" cy="559.29" r="1.1" fill="#eef8a5"/><circle cx="29.73" cy="558.92" r="1.1" fill="#fcfebb"/><circle cx="31.49" cy="558.69" r="1.1" fill="#fdfebc"/><circle cx="32.52" cy="559.19" r="1.1" fill="#fafdb8"/><circle cx="34.84" cy="559.29" r="1.1" fill="#f3faac"/><circle cx="36.12" cy="559.47" r="1.1" fill="#fff6af"/><circle cx="38.16" cy="559.42" r="1.1" fill="#feec9f"/><circle cx="40.27" cy="559.11" r="1.1" fill="#b7e2a1"/><circle cx="41.61" cy="559.71" r="1.1" fill="#fee594"/><circle cx="43.05" cy="559.15" r="1.1" fill="#bbe4a1"/><circle cx="45.24" cy="559.47" r="1.1" fill="#fdfebd"/><circle cx="46.77" cy="559.33" r="1.1" fill="#f6fbb1"/></g></g>
<g transform="translate(381.8,0)"><path d="M13,500 C17,497.5 28,496.8 36,497.8 C40,498.5 42,501.5 42.5,505 C45.5,506.5 46.5,511 43.5,512.5 C41,513.5 39.5,514 37,516 C32,519 22,520 14,516 C10.5,513.5 10.5,503 13,500 Z" fill="#96d5a4"/><g clip-path="url(#ctop)"><circle cx="11.46" cy="496.63" r="1.1" fill="#81cda5"/><circle cx="13.24" cy="495.96" r="1.1" fill="#94d4a4"/><circle cx="14.66" cy="496.25" r="1.1" fill="#84cea5"/><circle cx="16.67" cy="496.49" r="1.1" fill="#68c3a5"/><circle cx="18.37" cy="495.74" r="1.1" fill="#4aa2b2"/><circle cx="19.69" cy="495.21" r="1.1" fill="#85cea5"/><circle cx="21.68" cy="495.79" r="1.1" fill="#bbe3a1"/><circle cx="23.26" cy="496.22" r="1.1" fill="#5ab5aa"/><circle cx="24.64" cy="496.3" r="1.1" fill="#8fd2a4"/><circle cx="27.1" cy="495.8" r="1.1" fill="#b6e1a2"/><circle cx="28.38" cy="495.78" r="1.1" fill="#b6e2a2"/><circle cx="30.2" cy="496.27" r="1.1" fill="#4097b7"/><circle cx="31.76" cy="495.77" r="1.1" fill="#d6ef9b"/><circle cx="33.64" cy="496.15" r="1.1" fill="#a1d9a4"/><circle cx="35.03" cy="496" r="1.1" fill="#afdfa3"/><circle cx="36.02" cy="495.8" r="1.1" fill="#3775b3"/><circle cx="38.55" cy="495.57" r="1.1" fill="#a5dba4"/><circle cx="40.15" cy="497.02" r="1.1" fill="#6ec5a5"/><circle cx="42.02" cy="495.91" r="1.1" fill="#a8dca4"/><circle cx="43.34" cy="496.11" r="1.1" fill="#9bd7a4"/><circle cx="45.28" cy="496.08" r="1.1" fill="#93d4a4"/><circle cx="10.47" cy="497.43" r="1.1" fill="#b3e0a2"/><circle cx="12.02" cy="497.76" r="1.1" fill="#81cca5"/><circle cx="13.4" cy="497.57" r="1.1" fill="#90d2a4"/><circle cx="15.32" cy="497.38" r="1.1" fill="#69c3a5"/><circle cx="16.92" cy="497.82" r="1.1" fill="#8dd1a4"/><circle cx="18.78" cy="497.51" r="1.1" fill="#3385bb"/><circle cx="20.66" cy="497.57" r="1.1" fill="#59b3ab"/><circle cx="22" cy="497.49" r="1.1" fill="#7acaa5"/><circle cx="24.31" cy="497.19" r="1.1" fill="#b3e0a2"/><circle cx="25.32" cy="498.68" r="1.1" fill="#54aead"/><circle cx="27.37" cy="497.1" r="1.1" fill="#64c0a6"/><circle cx="28.39" cy="497.3" r="1.1" fill="#5ab5ab"/><circle cx="30.7" cy="497.18" r="1.1" fill="#b4e1a2"/><circle cx="31.71" cy="497.63" r="1.1" fill="#8cd1a4"/><circle cx="33.4" cy="497.52" r="1.1" fill="#b7e2a2"/><circle cx="35.65" cy="497.67" r="1.1" fill="#94d4a4"/><circle cx="37.29" cy="497.8" r="1.1" fill="#6ec5a5"/><circle cx="38.93" cy="497.88" r="1.1" fill="#82cda5"/><circle cx="40.79" cy="497.94" r="1.1" fill="#8ed2a4"/><circle cx="42.45" cy="497.84" r="1.1" fill="#daf09a"/><circle cx="44.01" cy="497.61" r="1.1" fill="#8ad0a4"/><circle cx="45.67" cy="497.7" r="1.1" fill="#90d2a4"/><circle cx="10.32" cy="499.88" r="1.1" fill="#83cda5"/><circle cx="12.24" cy="499.42" r="1.1" fill="#bae3a1"/><circle cx="13.76" cy="499.18" r="1.1" fill="#73c7a5"/><circle cx="15.33" cy="498.84" r="1.1" fill="#b7e2a2"/><circle cx="17.27" cy="499.85" r="1.1" fill="#daf09a"/><circle cx="18.9" cy="499.65" r="1.1" fill="#72c7a5"/><circle cx="20.72" cy="499.3" r="1.1" fill="#cfec9d"/><circle cx="22.58" cy="499.15" r="1.1" fill="#8cd1a4"/><circle cx="24.39" cy="499.5" r="1.1" fill="#85cea5"/><circle cx="25.24" cy="499.6" r="1.1" fill="#d8ef9b"/><circle cx="27.44" cy="498.93" r="1.1" fill="#99d6a4"/><circle cx="29.22" cy="499.51" r="1.1" fill="#88cfa5"/><circle cx="30.77" cy="499.25" r="1.1" fill="#dcf19a"/><circle cx="32.01" cy="499.25" r="1.1" fill="#b0dfa3"/><circle cx="34.41" cy="499.63" r="1.1" fill="#b4e1a2"/><circle cx="36.11" cy="499.83" r="1.1" fill="#84cea5"/><circle cx="37.8" cy="499.82" r="1.1" fill="#a4daa4"/><circle cx="39.47" cy="499.74" r="1.1" fill="#a1d9a4"/><circle cx="41.27" cy="499.75" r="1.1" fill="#86cea5"/><circle cx="43.26" cy="498.79" r="1.1" fill="#6ec5a5"/><circle cx="44.59" cy="499.29" r="1.1" fill="#b5e1a2"/><circle cx="45.97" cy="499.64" r="1.1" fill="#a0d9a4"/><circle cx="10.94" cy="501.26" r="1.1" fill="#7dcba5"/><circle cx="12.69" cy="500.8" r="1.1" fill="#8ed2a4"/><circle cx="14.26" cy="500.94" r="1.1" fill="#9bd7a4"/><circle cx="15.64" cy="501.37" r="1.1" fill="#8ed2a4"/><circle cx="18.07" cy="501.05" r="1.1" fill="#83cea5"/><circle cx="19.79" cy="501.12" r="1.1" fill="#79c9a5"/><circle cx="21.19" cy="501.35" r="1.1" fill="#93d4a4"/><circle cx="23.01" cy="501.05" r="1.1" fill="#9dd7a4"/><circle cx="24.95" cy="500.72" r="1.1" fill="#b6e1a2"/><circle cx="26.5" cy="501.06" r="1.1" fill="#57b2ac"/><circle cx="28.29" cy="501.4" r="1.1" fill="#67c2a5"/><circle cx="29.68" cy="501.17" r="1.1" fill="#a9dca4"/><circle cx="31.3" cy="501.15" r="1.1" fill="#a4daa4"/><circle cx="32.94" cy="501.79" r="1.1" fill="#b2e0a2"/><circle cx="35.05" cy="500.92" r="1.1" fill="#72c7a5"/><circle cx="36.16" cy="500.68" r="1.1" fill="#72c7a5"/><circle cx="38.25" cy="500.94" r="1.1" fill="#a9dca4"/><circle cx="39.43" cy="501.6" r="1.1" fill="#bce4a1"/><circle cx="41.57" cy="501.14" r="1.1" fill="#54aead"/><circle cx="43.91" cy="501.6" r="1.1" fill="#80cca5"/><circle cx="45.08" cy="501.17" r="1.1" fill="#95d4a4"/><circle cx="10.44" cy="503.15" r="1.1" fill="#97d5a4"/><circle cx="11.85" cy="503.02" r="1.1" fill="#9ad6a4"/><circle cx="13.76" cy="502.88" r="1.1" fill="#7ecba5"/><circle cx="15.24" cy="502.85" r="1.1" fill="#c7e89e"/><circle cx="17.52" cy="502.21" r="1.1" fill="#c9e99e"/><circle cx="18.93" cy="502.5" r="1.1" fill="#bae3a1"/><circle cx="20.84" cy="502.95" r="1.1" fill="#b3e0a2"/><circle cx="21.91" cy="502.67" r="1.1" fill="#94d4a4"/><circle cx="23.8" cy="502.93" r="1.1" fill="#79c9a5"/><circle cx="24.94" cy="502.68" r="1.1" fill="#9fd8a4"/><circle cx="27.26" cy="502.92" r="1.1" fill="#b5e1a2"/><circle cx="28.97" cy="502.72" r="1.1" fill="#7ccaa5"/><circle cx="30.78" cy="503.07" r="1.1" fill="#7bcaa5"/><circle cx="32.21" cy="502.55" r="1.1" fill="#83cda5"/><circle cx="34.58" cy="502.63" r="1.1" fill="#6cc4a5"/><circle cx="35.78" cy="502.93" r="1.1" fill="#8ed2a4"/><circle cx="37.66" cy="503.21" r="1.1" fill="#d0ec9c"/><circle cx="39.21" cy="503.18" r="1.1" fill="#74c8a5"/><circle cx="41.38" cy="502.52" r="1.1" fill="#80cca5"/><circle cx="42.55" cy="502.56" r="1.1" fill="#b2e0a3"/><circle cx="44.46" cy="503.43" r="1.1" fill="#a3daa4"/><circle cx="46.46" cy="502.78" r="1.1" fill="#81cca5"/><circle cx="9.99" cy="504.91" r="1.1" fill="#75c8a5"/><circle cx="11.91" cy="504.44" r="1.1" fill="#4fa9af"/><circle cx="14.07" cy="503.73" r="1.1" fill="#b5e1a2"/><circle cx="15.35" cy="504.22" r="1.1" fill="#7ccba5"/><circle cx="17.04" cy="504.6" r="1.1" fill="#bbe4a1"/><circle cx="18.9" cy="504.62" r="1.1" fill="#a3daa4"/><circle cx="20.52" cy="504.36" r="1.1" fill="#88cfa5"/><circle cx="22.02" cy="504.4" r="1.1" fill="#e1f399"/><circle cx="23.99" cy="504.67" r="1.1" fill="#a5dba4"/><circle cx="25.85" cy="504.52" r="1.1" fill="#bbe3a1"/><circle cx="27.6" cy="504.49" r="1.1" fill="#b8e2a1"/><circle cx="28.47" cy="504.35" r="1.1" fill="#5fbaa8"/><circle cx="30.62" cy="504.62" r="1.1" fill="#aadca4"/><circle cx="32.37" cy="504.32" r="1.1" fill="#7ccba5"/><circle cx="33.86" cy="504.85" r="1.1" fill="#a3daa4"/><circle cx="36.11" cy="504.45" r="1.1" fill="#8fd2a4"/><circle cx="37.71" cy="504.31" r="1.1" fill="#77c8a5"/><circle cx="38.92" cy="504.81" r="1.1" fill="#90d2a4"/><circle cx="41.27" cy="504.06" r="1.1" fill="#a7dba4"/><circle cx="42.36" cy="504.85" r="1.1" fill="#8dd1a4"/><circle cx="44.02" cy="504.37" r="1.1" fill="#b7e2a2"/><circle cx="45.38" cy="504.44" r="1.1" fill="#e7f599"/><circle cx="10.42" cy="505.99" r="1.1" fill="#6cc4a5"/><circle cx="12.2" cy="506.31" r="1.1" fill="#85cea5"/><circle cx="13.95" cy="505.9" r="1.1" fill="#a3daa4"/><circle cx="15.63" cy="506.48" r="1.1" fill="#93d4a4"/><circle cx="17.26" cy="506.63" r="1.1" fill="#bce4a1"/><circle cx="19.14" cy="505.85" r="1.1" fill="#4097b7"/><circle cx="21" cy="506.41" r="1.1" fill="#b7e2a2"/><circle cx="22.71" cy="506.43" r="1.1" fill="#8fd2a4"/><circle cx="25.01" cy="506.72" r="1.1" fill="#55afad"/><circle cx="26.39" cy="506.17" r="1.1" fill="#aedea3"/><circle cx="27.93" cy="506.05" r="1.1" fill="#84cea5"/><circle cx="29.83" cy="506.04" r="1.1" fill="#a6dba4"/><circle cx="31.09" cy="506.45" r="1.1" fill="#98d5a4"/><circle cx="33.12" cy="506.59" r="1.1" fill="#75c8a5"/><circle cx="34.52" cy="506.32" r="1.1" fill="#6dc5a5"/><circle cx="36.56" cy="506.15" r="1.1" fill="#a6dba4"/><circle cx="38.15" cy="506.01" r="1.1" fill="#5eb9a9"/><circle cx="39.29" cy="506.48" r="1.1" fill="#93d4a4"/><circle cx="41.37" cy="506.73" r="1.1" fill="#8cd1a4"/><circle cx="43.48" cy="506.11" r="1.1" fill="#96d5a4"/><circle cx="44.82" cy="506.19" r="1.1" fill="#a6dba4"/><circle cx="46.95" cy="506.52" r="1.1" fill="#b5e1a2"/><circle cx="11.89" cy="508.01" r="1.1" fill="#69c3a5"/><circle cx="12.89" cy="507.85" r="1.1" fill="#9cd7a4"/><circle cx="14.67" cy="507.69" r="1.1" fill="#caea9e"/><circle cx="17.07" cy="507.18" r="1.1" fill="#7ccba5"/><circle cx="18.3" cy="508.25" r="1.1" fill="#cbea9d"/><circle cx="19.9" cy="508" r="1.1" fill="#ebf7a0"/><circle cx="21.13" cy="507.78" r="1.1" fill="#bce4a0"/><circle cx="23.45" cy="507.53" r="1.1" fill="#5ab5aa"/><circle cx="24.97" cy="508.04" r="1.1" fill="#9bd7a4"/><circle cx="26.93" cy="507.88" r="1.1" fill="#e5f598"/><circle cx="28.36" cy="508.61" r="1.1" fill="#8fd2a4"/><circle cx="30.43" cy="508.02" r="1.1" fill="#b3e0a2"/><circle cx="32.6" cy="508.13" r="1.1" fill="#e9f69d"/><circle cx="33.23" cy="507.97" r="1.1" fill="#8ad0a4"/><circle cx="35.6" cy="507.83" r="1.1" fill="#bbe4a1"/><circle cx="36.88" cy="507.77" r="1.1" fill="#b1e0a3"/><circle cx="38.71" cy="507.82" r="1.1" fill="#95d4a4"/><circle cx="40.9" cy="507.67" r="1.1" fill="#6cc4a5"/><circle cx="41.35" cy="508.07" r="1.1" fill="#4ba4b1"/><circle cx="43.51" cy="507.94" r="1.1" fill="#61bca7"/><circle cx="45.61" cy="507.96" r="1.1" fill="#8ed2a4"/><circle cx="11.86" cy="509.74" r="1.1" fill="#77c9a5"/><circle cx="13.53" cy="509.58" r="1.1" fill="#a8dca4"/><circle cx="14.64" cy="509.64" r="1.1" fill="#bfe5a0"/><circle cx="16.54" cy="509.12" r="1.1" fill="#caea9e"/><circle cx="18.37" cy="509.66" r="1.1" fill="#54aead"/><circle cx="19.47" cy="510.12" r="1.1" fill="#5ab5ab"/><circle cx="21.6" cy="509.03" r="1.1" fill="#82cda5"/><circle cx="22.99" cy="509.49" r="1.1" fill="#81cda5"/><circle cx="25.23" cy="509.72" r="1.1" fill="#64c0a6"/><circle cx="26.55" cy="509.7" r="1.1" fill="#a5dba4"/><circle cx="28.23" cy="510.02" r="1.1" fill="#73c7a5"/><circle cx="29.79" cy="509.13" r="1.1" fill="#61bca7"/><circle cx="32.01" cy="510.08" r="1.1" fill="#e6f598"/><circle cx="33.34" cy="509.42" r="1.1" fill="#93d4a4"/><circle cx="35.22" cy="509.49" r="1.1" fill="#89d0a4"/><circle cx="37.44" cy="509.58" r="1.1" fill="#8ed1a4"/><circle cx="38.96" cy="509.53" r="1.1" fill="#5ab4ab"/><circle cx="40.71" cy="509.4" r="1.1" fill="#6ac3a5"/><circle cx="42.23" cy="509.19" r="1.1" fill="#aedea3"/><circle cx="43.65" cy="509.61" r="1.1" fill="#c5e79f"/><circle cx="45.42" cy="509.76" r="1.1" fill="#81cca5"/><circle cx="11.23" cy="511.5" r="1.1" fill="#96d5a4"/><circle cx="12.49" cy="511.7" r="1.1" fill="#78c9a5"/><circle cx="14.93" cy="510.7" r="1.1" fill="#b1dfa3"/><circle cx="16.03" cy="511.87" r="1.1" fill="#bfe5a0"/><circle cx="18.06" cy="511.43" r="1.1" fill="#91d3a4"/><circle cx="19.79" cy="511.28" r="1.1" fill="#daf09a"/><circle cx="21.73" cy="511.59" r="1.1" fill="#b4e1a2"/><circle cx="22.65" cy="511.38" r="1.1" fill="#acdda4"/><circle cx="24.57" cy="511.28" r="1.1" fill="#c4e79f"/><circle cx="26.41" cy="511.12" r="1.1" fill="#6ec5a5"/><circle cx="27.93" cy="511.16" r="1.1" fill="#4da6b0"/><circle cx="29.46" cy="510.6" r="1.1" fill="#a2d9a4"/><circle cx="31.57" cy="511.31" r="1.1" fill="#5bb6aa"/><circle cx="33.5" cy="511.39" r="1.1" fill="#dcf19a"/><circle cx="34.79" cy="511.18" r="1.1" fill="#9bd7a4"/><circle cx="36.57" cy="511.63" r="1.1" fill="#b0dfa3"/><circle cx="38.08" cy="510.9" r="1.1" fill="#c3e79f"/><circle cx="39.65" cy="511.19" r="1.1" fill="#9bd7a4"/><circle cx="41.46" cy="511.13" r="1.1" fill="#d0ec9c"/><circle cx="43.44" cy="511.34" r="1.1" fill="#4ba4b1"/><circle cx="45.15" cy="510.9" r="1.1" fill="#5cb7a9"/><circle cx="10.14" cy="513.21" r="1.1" fill="#d3ed9c"/><circle cx="12.27" cy="513.12" r="1.1" fill="#92d3a4"/><circle cx="13.7" cy="512.94" r="1.1" fill="#7bcaa5"/><circle cx="15.87" cy="512.83" r="1.1" fill="#7ccaa5"/><circle cx="17.35" cy="513.18" r="1.1" fill="#8dd1a4"/><circle cx="18.95" cy="513.11" r="1.1" fill="#acdda4"/><circle cx="20.36" cy="512.71" r="1.1" fill="#3382ba"/><circle cx="22.47" cy="513.53" r="1.1" fill="#4ca5b1"/><circle cx="23.66" cy="513.09" r="1.1" fill="#79c9a5"/><circle cx="26.17" cy="512.94" r="1.1" fill="#b1dfa3"/><circle cx="27" cy="513.28" r="1.1" fill="#b3e0a2"/><circle cx="28.86" cy="513.43" r="1.1" fill="#8bd0a4"/><circle cx="31.09" cy="513.22" r="1.1" fill="#3383ba"/><circle cx="31.81" cy="513.17" r="1.1" fill="#6ac3a5"/><circle cx="34.4" cy="512.65" r="1.1" fill="#bce4a1"/><circle cx="35.62" cy="512.51" r="1.1" fill="#c9e99e"/><circle cx="37.75" cy="513.45" r="1.1" fill="#8bd1a4"/><circle cx="39.56" cy="513.04" r="1.1" fill="#86cea5"/><circle cx="40.72" cy="512.65" r="1.1" fill="#a8dca4"/><circle cx="42.48" cy="512.76" r="1.1" fill="#d9f09b"/><circle cx="44.8" cy="512.68" r="1.1" fill="#99d6a4"/><circle cx="46.39" cy="512.61" r="1.1" fill="#ceeb9d"/><circle cx="10.33" cy="514.66" r="1.1" fill="#d5ee9b"/><circle cx="12.08" cy="514.42" r="1.1" fill="#a8dca4"/><circle cx="13.31" cy="514.71" r="1.1" fill="#93d4a4"/><circle cx="15.24" cy="514.94" r="1.1" fill="#64c0a6"/><circle cx="16.57" cy="514.64" r="1.1" fill="#9cd7a4"/><circle cx="18.7" cy="514.72" r="1.1" fill="#62bea7"/><circle cx="20.35" cy="514.59" r="1.1" fill="#4fa8b0"/><circle cx="22.09" cy="514.76" r="1.1" fill="#50aaaf"/><circle cx="23.47" cy="514.55" r="1.1" fill="#ccea9d"/><circle cx="25.4" cy="514.14" r="1.1" fill="#d7ef9b"/><circle cx="26.19" cy="514.99" r="1.1" fill="#7ccaa5"/><circle cx="28.67" cy="514.67" r="1.1" fill="#8dd1a4"/><circle cx="30.05" cy="514.33" r="1.1" fill="#85cea5"/><circle cx="32.11" cy="514.39" r="1.1" fill="#95d4a4"/><circle cx="33.46" cy="514.9" r="1.1" fill="#90d2a4"/><circle cx="35.1" cy="515.28" r="1.1" fill="#7ecba5"/><circle cx="37.39" cy="514.3" r="1.1" fill="#8cd1a4"/><circle cx="39.05" cy="515.11" r="1.1" fill="#8cd1a4"/><circle cx="40.91" cy="514.9" r="1.1" fill="#a6dba4"/><circle cx="42.67" cy="514.87" r="1.1" fill="#96d5a4"/><circle cx="44.05" cy="514.96" r="1.1" fill="#aadda4"/><circle cx="45.9" cy="514.22" r="1.1" fill="#95d5a4"/><circle cx="10.17" cy="516.28" r="1.1" fill="#96d5a4"/><circle cx="12.27" cy="516.1" r="1.1" fill="#a9dca4"/><circle cx="13.56" cy="516.52" r="1.1" fill="#a9dca4"/><circle cx="15.3" cy="516.22" r="1.1" fill="#acdda4"/><circle cx="16.8" cy="516.38" r="1.1" fill="#ecf7a1"/><circle cx="18.19" cy="516.2" r="1.1" fill="#f0f9a8"/><circle cx="20.3" cy="516.47" r="1.1" fill="#8ad0a4"/><circle cx="21.83" cy="516.34" r="1.1" fill="#77c9a5"/><circle cx="23.24" cy="516.47" r="1.1" fill="#96d5a4"/><circle cx="25.22" cy="516.39" r="1.1" fill="#8dd1a4"/><circle cx="27.33" cy="516.44" r="1.1" fill="#96d5a4"/><circle cx="28.77" cy="515.79" r="1.1" fill="#c4e79f"/><circle cx="30.63" cy="516.93" r="1.1" fill="#6ec5a5"/><circle cx="32.05" cy="516.18" r="1.1" fill="#eaf79f"/><circle cx="33.75" cy="517.04" r="1.1" fill="#a4daa4"/><circle cx="35.05" cy="517.17" r="1.1" fill="#b8e2a1"/><circle cx="37.4" cy="516.66" r="1.1" fill="#7bcaa5"/><circle cx="38.76" cy="516.13" r="1.1" fill="#5eb9a9"/><circle cx="40.68" cy="516.12" r="1.1" fill="#66c2a5"/><circle cx="42.45" cy="517" r="1.1" fill="#a2d9a4"/><circle cx="43.91" cy="516.19" r="1.1" fill="#6ec5a5"/><circle cx="45.71" cy="516.6" r="1.1" fill="#9ed8a4"/><circle cx="10.58" cy="518.05" r="1.1" fill="#a4daa4"/><circle cx="12.51" cy="518.2" r="1.1" fill="#6cc4a5"/><circle cx="13.77" cy="518.54" r="1.1" fill="#8ed2a4"/><circle cx="16.14" cy="518.01" r="1.1" fill="#a2d9a4"/><circle cx="17.65" cy="518.32" r="1.1" fill="#90d2a4"/><circle cx="19.42" cy="517.86" r="1.1" fill="#68c3a5"/><circle cx="20.59" cy="517.81" r="1.1" fill="#b1e0a3"/><circle cx="22.51" cy="517.98" r="1.1" fill="#8fd2a4"/><circle cx="24.63" cy="518.12" r="1.1" fill="#b8e2a1"/><circle cx="26.63" cy="518.34" r="1.1" fill="#cceb9d"/><circle cx="27.52" cy="517.77" r="1.1" fill="#e5f498"/><circle cx="29.65" cy="517.71" r="1.1" fill="#d8ef9b"/><circle cx="31.27" cy="517.64" r="1.1" fill="#6ec5a5"/><circle cx="33.37" cy="518.19" r="1.1" fill="#86cea5"/><circle cx="34.49" cy="517.39" r="1.1" fill="#90d3a4"/><circle cx="36.75" cy="517.87" r="1.1" fill="#addea4"/><circle cx="37.91" cy="518.68" r="1.1" fill="#9cd7a4"/><circle cx="39.28" cy="518.5" r="1.1" fill="#d6ee9b"/><circle cx="41.47" cy="517.83" r="1.1" fill="#b9e3a1"/><circle cx="42.97" cy="518.54" r="1.1" fill="#b1dfa3"/><circle cx="44.72" cy="517.9" r="1.1" fill="#54aead"/><circle cx="10.05" cy="519.93" r="1.1" fill="#b5e1a2"/><circle cx="12.43" cy="519.65" r="1.1" fill="#8bd1a4"/><circle cx="13.69" cy="519.86" r="1.1" fill="#5bb5aa"/><circle cx="15.51" cy="519.42" r="1.1" fill="#abdda4"/><circle cx="16.63" cy="519.74" r="1.1" fill="#93d3a4"/><circle cx="18.97" cy="520.19" r="1.1" fill="#87cfa5"/><circle cx="20.66" cy="519.71" r="1.1" fill="#a2daa4"/><circle cx="22.21" cy="519.75" r="1.1" fill="#abdda4"/><circle cx="24.05" cy="519.92" r="1.1" fill="#6fc6a5"/><circle cx="25.94" cy="519.7" r="1.1" fill="#87cfa5"/><circle cx="27.56" cy="519.88" r="1.1" fill="#a8dca4"/><circle cx="29.03" cy="519.71" r="1.1" fill="#85cea5"/><circle cx="30.95" cy="520.21" r="1.1" fill="#74c7a5"/><circle cx="32.63" cy="519.52" r="1.1" fill="#a0d9a4"/><circle cx="33.94" cy="519.61" r="1.1" fill="#e7f69a"/><circle cx="36.22" cy="520.04" r="1.1" fill="#8bd1a4"/><circle cx="37.21" cy="519.71" r="1.1" fill="#acdda4"/><circle cx="39.05" cy="520.43" r="1.1" fill="#59b3ab"/><circle cx="41.06" cy="519.87" r="1.1" fill="#d4ee9c"/><circle cx="42.64" cy="519.71" r="1.1" fill="#7dcba5"/><circle cx="44.33" cy="519.54" r="1.1" fill="#c7e99e"/><circle cx="46.28" cy="520.1" r="1.1" fill="#d3ed9c"/></g></g>
<g transform="translate(381.8,0)"><path d="M14.5,552 C14.5,547 18,544 24,543.8 C28,543.6 31,544 34,544.5 C36,542.5 38,541.2 41,541.2 C44.5,541.2 46.5,543 46,545.5 C45.5,548 42,549.2 38,549 C36,550 35,553 32.5,556 C30,558.5 26,559.6 22,559.5 C17.5,559.2 14.5,556.5 14.5,552 Z" fill="#f46d43"/><g clip-path="url(#cbot)"><circle cx="14.72" cy="540.47" r="1.1" fill="#ce364d"/><circle cx="15.79" cy="540.37" r="1.1" fill="#df4d4b"/><circle cx="17.75" cy="540.48" r="1.1" fill="#f46e44"/><circle cx="18.98" cy="540.22" r="1.1" fill="#f16944"/><circle cx="20.48" cy="540.66" r="1.1" fill="#e65848"/><circle cx="22.27" cy="540.46" r="1.1" fill="#eb5f47"/><circle cx="24.9" cy="540.65" r="1.1" fill="#e35449"/><circle cx="26.13" cy="540.31" r="1.1" fill="#ec6046"/><circle cx="28.13" cy="540.37" r="1.1" fill="#d8424e"/><circle cx="29.66" cy="540.83" r="1.1" fill="#e2514a"/><circle cx="31.73" cy="540.77" r="1.1" fill="#eb5f47"/><circle cx="32.92" cy="540.97" r="1.1" fill="#fdba6b"/><circle cx="34.46" cy="540.7" r="1.1" fill="#fee898"/><circle cx="36.24" cy="540.65" r="1.1" fill="#a5dba4"/><circle cx="37.78" cy="540.63" r="1.1" fill="#a6dba4"/><circle cx="39.64" cy="540.23" r="1.1" fill="#eef8a4"/><circle cx="41.74" cy="540.51" r="1.1" fill="#e4f498"/><circle cx="42.83" cy="540.65" r="1.1" fill="#a5daa4"/><circle cx="45.38" cy="540.6" r="1.1" fill="#84cea5"/><circle cx="46.33" cy="540.23" r="1.1" fill="#98d6a4"/><circle cx="15.21" cy="542.64" r="1.1" fill="#f16844"/><circle cx="16.33" cy="541.99" r="1.1" fill="#ee6545"/><circle cx="18.18" cy="542.46" r="1.1" fill="#e1504a"/><circle cx="20.29" cy="542.15" r="1.1" fill="#e65848"/><circle cx="21.17" cy="541.98" r="1.1" fill="#f67b49"/><circle cx="23.17" cy="542.67" r="1.1" fill="#d9444d"/><circle cx="24.82" cy="541.43" r="1.1" fill="#ec6046"/><circle cx="26.33" cy="542.22" r="1.1" fill="#f99154"/><circle cx="28.41" cy="542.02" r="1.1" fill="#f06745"/><circle cx="29.75" cy="542.23" r="1.1" fill="#dd4b4c"/><circle cx="31.7" cy="542.24" r="1.1" fill="#d0384e"/><circle cx="33.19" cy="542.23" r="1.1" fill="#fffab6"/><circle cx="35.33" cy="542.73" r="1.1" fill="#fee695"/><circle cx="36.14" cy="542.07" r="1.1" fill="#f7fcb3"/><circle cx="38.15" cy="542.42" r="1.1" fill="#9bd7a4"/><circle cx="40.35" cy="542.22" r="1.1" fill="#bae3a1"/><circle cx="41.94" cy="542.14" r="1.1" fill="#9bd7a4"/><circle cx="43.64" cy="542.21" r="1.1" fill="#a6dba4"/><circle cx="45.26" cy="542" r="1.1" fill="#aadda4"/><circle cx="47" cy="542.5" r="1.1" fill="#a0d9a4"/><circle cx="14.15" cy="543.86" r="1.1" fill="#e3534a"/><circle cx="16.21" cy="543.94" r="1.1" fill="#f57346"/><circle cx="17.83" cy="543.73" r="1.1" fill="#cd354d"/><circle cx="19.85" cy="543.76" r="1.1" fill="#ea5d47"/><circle cx="21.48" cy="543.96" r="1.1" fill="#e65749"/><circle cx="23.36" cy="543.5" r="1.1" fill="#ed6246"/><circle cx="25.28" cy="543.75" r="1.1" fill="#f67a49"/><circle cx="26.63" cy="544.23" r="1.1" fill="#da454d"/><circle cx="28.37" cy="544.06" r="1.1" fill="#ea5e47"/><circle cx="29.36" cy="543.98" r="1.1" fill="#ed6346"/><circle cx="31.32" cy="543.99" r="1.1" fill="#eb5f47"/><circle cx="33.23" cy="544.09" r="1.1" fill="#fedc88"/><circle cx="35.17" cy="544.11" r="1.1" fill="#feeea3"/><circle cx="36.54" cy="543.66" r="1.1" fill="#a7dba4"/><circle cx="37.87" cy="543.53" r="1.1" fill="#cbea9d"/><circle cx="40.1" cy="543.96" r="1.1" fill="#bde4a0"/><circle cx="42.17" cy="544.03" r="1.1" fill="#f0f9a7"/><circle cx="43.6" cy="543.87" r="1.1" fill="#eff9a7"/><circle cx="44.74" cy="544.19" r="1.1" fill="#e0f399"/><circle cx="46.45" cy="544.23" r="1.1" fill="#e5f598"/><circle cx="14.84" cy="545.88" r="1.1" fill="#f06844"/><circle cx="16.91" cy="545.58" r="1.1" fill="#c0274a"/><circle cx="18.85" cy="546.01" r="1.1" fill="#da454d"/><circle cx="20.44" cy="545.53" r="1.1" fill="#da454d"/><circle cx="21.75" cy="545.66" r="1.1" fill="#e04f4b"/><circle cx="23.59" cy="545.81" r="1.1" fill="#d0394e"/><circle cx="25.05" cy="545.17" r="1.1" fill="#e75948"/><circle cx="27.14" cy="545.88" r="1.1" fill="#e04e4b"/><circle cx="28.63" cy="545.05" r="1.1" fill="#d7424e"/><circle cx="30.51" cy="545.18" r="1.1" fill="#f06744"/><circle cx="32.47" cy="545.5" r="1.1" fill="#db474d"/><circle cx="33.3" cy="545.37" r="1.1" fill="#fecd7b"/><circle cx="34.99" cy="545.64" r="1.1" fill="#fed27f"/><circle cx="37.04" cy="545.87" r="1.1" fill="#addea4"/><circle cx="38.84" cy="545.32" r="1.1" fill="#b9e3a1"/><circle cx="40.58" cy="545.78" r="1.1" fill="#80cca5"/><circle cx="42.25" cy="545.39" r="1.1" fill="#abdda4"/><circle cx="44.16" cy="546.31" r="1.1" fill="#daf09a"/><circle cx="45.81" cy="545.58" r="1.1" fill="#c0e5a0"/><circle cx="47.28" cy="545.52" r="1.1" fill="#d2ed9c"/><circle cx="13.95" cy="547.57" r="1.1" fill="#c72f4c"/><circle cx="15.74" cy="547.89" r="1.1" fill="#ec6246"/><circle cx="17.02" cy="547.49" r="1.1" fill="#d7414e"/><circle cx="19.01" cy="547.25" r="1.1" fill="#d6404e"/><circle cx="20.92" cy="547.3" r="1.1" fill="#dc494c"/><circle cx="21.79" cy="547.15" r="1.1" fill="#e85a48"/><circle cx="24.33" cy="546.82" r="1.1" fill="#dc494c"/><circle cx="25.35" cy="547.49" r="1.1" fill="#e2514a"/><circle cx="27.54" cy="546.84" r="1.1" fill="#ed6346"/><circle cx="29.18" cy="547.65" r="1.1" fill="#f16944"/><circle cx="30.79" cy="547.36" r="1.1" fill="#e04f4b"/><circle cx="32.44" cy="547.62" r="1.1" fill="#fee492"/><circle cx="34.26" cy="547.45" r="1.1" fill="#fdc171"/><circle cx="35.96" cy="546.65" r="1.1" fill="#c9e99e"/><circle cx="37.29" cy="547.6" r="1.1" fill="#b0dfa3"/><circle cx="39.49" cy="547.67" r="1.1" fill="#a0d9a4"/><circle cx="41.11" cy="547.41" r="1.1" fill="#bee5a0"/><circle cx="43.08" cy="547.55" r="1.1" fill="#acdda4"/><circle cx="44.65" cy="547.39" r="1.1" fill="#c2e69f"/><circle cx="46.23" cy="547.57" r="1.1" fill="#f7fcb2"/><circle cx="14.28" cy="549.06" r="1.1" fill="#ee6345"/><circle cx="16.23" cy="548.96" r="1.1" fill="#c52c4b"/><circle cx="17.66" cy="549.01" r="1.1" fill="#e85a48"/><circle cx="19.13" cy="548.96" r="1.1" fill="#f06645"/><circle cx="21.15" cy="549.31" r="1.1" fill="#f46d43"/><circle cx="23.22" cy="548.97" r="1.1" fill="#d8434e"/><circle cx="24.33" cy="548.7" r="1.1" fill="#ce374d"/><circle cx="26.27" cy="549.31" r="1.1" fill="#de4b4c"/><circle cx="28.24" cy="548.92" r="1.1" fill="#dd4a4c"/><circle cx="29.31" cy="548.66" r="1.1" fill="#f47045"/><circle cx="30.7" cy="548.57" r="1.1" fill="#e65848"/><circle cx="32.83" cy="549.38" r="1.1" fill="#fed07e"/><circle cx="34.81" cy="548.23" r="1.1" fill="#feca78"/><circle cx="35.74" cy="548.51" r="1.1" fill="#b3e0a2"/><circle cx="38.06" cy="548.93" r="1.1" fill="#bee5a0"/><circle cx="39.79" cy="549.1" r="1.1" fill="#a4daa4"/><circle cx="41.24" cy="548.54" r="1.1" fill="#c9e99e"/><circle cx="43.61" cy="549.24" r="1.1" fill="#82cda5"/><circle cx="45.08" cy="548.91" r="1.1" fill="#96d5a4"/><circle cx="46.59" cy="548.92" r="1.1" fill="#d9f09b"/><circle cx="13.17" cy="550.71" r="1.1" fill="#e55749"/><circle cx="15.71" cy="550.67" r="1.1" fill="#e75a48"/><circle cx="16.88" cy="550.5" r="1.1" fill="#e95c47"/><circle cx="19.45" cy="550.57" r="1.1" fill="#da464d"/><circle cx="20.2" cy="550.73" r="1.1" fill="#f57145"/><circle cx="21.96" cy="550.5" r="1.1" fill="#e75a48"/><circle cx="24.14" cy="551.09" r="1.1" fill="#e95c47"/><circle cx="26" cy="550.83" r="1.1" fill="#da464d"/><circle cx="27.89" cy="550.76" r="1.1" fill="#cf374e"/><circle cx="28.97" cy="550.85" r="1.1" fill="#ee6445"/><circle cx="30.88" cy="550.38" r="1.1" fill="#e95c47"/><circle cx="32.49" cy="550.93" r="1.1" fill="#fee28e"/><circle cx="34.19" cy="550.87" r="1.1" fill="#fed380"/><circle cx="35.54" cy="550.49" r="1.1" fill="#feec9f"/><circle cx="37.65" cy="550.57" r="1.1" fill="#93d4a4"/><circle cx="39.48" cy="550.49" r="1.1" fill="#dff29a"/><circle cx="41.17" cy="550.54" r="1.1" fill="#b4e0a2"/><circle cx="42.37" cy="550.76" r="1.1" fill="#6fc6a5"/><circle cx="43.89" cy="550.96" r="1.1" fill="#7ccba5"/><circle cx="45.8" cy="550.71" r="1.1" fill="#f5fbaf"/><circle cx="15.51" cy="552.55" r="1.1" fill="#de4b4c"/><circle cx="16.65" cy="552.69" r="1.1" fill="#e75948"/><circle cx="18.69" cy="552.67" r="1.1" fill="#e55649"/><circle cx="19.99" cy="552.52" r="1.1" fill="#ca314c"/><circle cx="21.51" cy="552.12" r="1.1" fill="#e55649"/><circle cx="23.11" cy="552.16" r="1.1" fill="#f57245"/><circle cx="25.57" cy="552.44" r="1.1" fill="#e75a48"/><circle cx="27.35" cy="552.98" r="1.1" fill="#d23a4e"/><circle cx="28.64" cy="552.22" r="1.1" fill="#e85b47"/><circle cx="30.16" cy="552.13" r="1.1" fill="#ed6346"/><circle cx="32.51" cy="552.31" r="1.1" fill="#f06745"/><circle cx="33.47" cy="552.87" r="1.1" fill="#feeda1"/><circle cx="35.69" cy="551.98" r="1.1" fill="#fff2aa"/><circle cx="37.46" cy="552.17" r="1.1" fill="#c3e79f"/><circle cx="39.13" cy="552.1" r="1.1" fill="#e3f499"/><circle cx="41.06" cy="552.84" r="1.1" fill="#d7ef9b"/><circle cx="42.22" cy="552.02" r="1.1" fill="#bae3a1"/><circle cx="43.69" cy="553" r="1.1" fill="#b2e0a3"/><circle cx="45.52" cy="552.87" r="1.1" fill="#acdda4"/><circle cx="47.98" cy="552.5" r="1.1" fill="#9ed8a4"/><circle cx="13.44" cy="554.1" r="1.1" fill="#e45549"/><circle cx="15.13" cy="554.34" r="1.1" fill="#eb5f47"/><circle cx="17.17" cy="554.14" r="1.1" fill="#d23b4e"/><circle cx="18.91" cy="554.01" r="1.1" fill="#db474d"/><circle cx="19.62" cy="554.61" r="1.1" fill="#f46c43"/><circle cx="21.79" cy="554.09" r="1.1" fill="#f57245"/><circle cx="24.17" cy="554.14" r="1.1" fill="#d43d4f"/><circle cx="25.08" cy="554.37" r="1.1" fill="#e45549"/><circle cx="27.36" cy="554.67" r="1.1" fill="#dd4a4c"/><circle cx="28.96" cy="553.73" r="1.1" fill="#e2514a"/><circle cx="30.63" cy="553.67" r="1.1" fill="#ea5d47"/><circle cx="31.84" cy="554.4" r="1.1" fill="#fed07e"/><circle cx="34.08" cy="553.95" r="1.1" fill="#fee18d"/><circle cx="35.63" cy="554.38" r="1.1" fill="#fee18d"/><circle cx="37.15" cy="553.6" r="1.1" fill="#d7ef9b"/><circle cx="38.68" cy="553.65" r="1.1" fill="#bee5a0"/><circle cx="41.07" cy="554.13" r="1.1" fill="#80cca5"/><circle cx="42.55" cy="553.97" r="1.1" fill="#8cd1a4"/><circle cx="44.02" cy="554.14" r="1.1" fill="#e4f498"/><circle cx="46.52" cy="554.86" r="1.1" fill="#b8e2a1"/><circle cx="13.78" cy="555.66" r="1.1" fill="#f46e43"/><circle cx="15.83" cy="555.96" r="1.1" fill="#de4b4c"/><circle cx="17.22" cy="555.54" r="1.1" fill="#ed6246"/><circle cx="19" cy="555.7" r="1.1" fill="#d9444d"/><circle cx="20.51" cy="555.93" r="1.1" fill="#f26a44"/><circle cx="22.51" cy="556.07" r="1.1" fill="#ea5e47"/><circle cx="24.49" cy="555.7" r="1.1" fill="#d8434e"/><circle cx="25.33" cy="555.56" r="1.1" fill="#f46f44"/><circle cx="27.47" cy="555.79" r="1.1" fill="#f67a49"/><circle cx="29.08" cy="555.71" r="1.1" fill="#e2514a"/><circle cx="31.23" cy="556.24" r="1.1" fill="#e45549"/><circle cx="32.27" cy="556.06" r="1.1" fill="#fedf8a"/><circle cx="34.04" cy="556.09" r="1.1" fill="#fff4ac"/><circle cx="35.94" cy="556.04" r="1.1" fill="#a4daa4"/><circle cx="38.08" cy="555.73" r="1.1" fill="#b3e0a2"/><circle cx="38.76" cy="555.31" r="1.1" fill="#c5e89f"/><circle cx="41.34" cy="555.98" r="1.1" fill="#addea4"/><circle cx="42.88" cy="555.86" r="1.1" fill="#b0dfa3"/><circle cx="44.84" cy="555.91" r="1.1" fill="#d1ec9c"/><circle cx="46.16" cy="556.05" r="1.1" fill="#aedea3"/><circle cx="13.43" cy="557.31" r="1.1" fill="#ee6345"/><circle cx="15.35" cy="557.39" r="1.1" fill="#e55649"/><circle cx="17.66" cy="557.37" r="1.1" fill="#e1514a"/><circle cx="18.53" cy="557.37" r="1.1" fill="#e55749"/><circle cx="21.53" cy="557.78" r="1.1" fill="#d7414e"/><circle cx="21.7" cy="557.63" r="1.1" fill="#cb334d"/><circle cx="24.46" cy="557.72" r="1.1" fill="#ce364d"/><circle cx="25.96" cy="557.68" r="1.1" fill="#db474d"/><circle cx="27.67" cy="557.62" r="1.1" fill="#d63f4f"/><circle cx="28.65" cy="557.21" r="1.1" fill="#e3534a"/><circle cx="31.09" cy="557.41" r="1.1" fill="#f46c43"/><circle cx="32.81" cy="557.37" r="1.1" fill="#fdc776"/><circle cx="34.37" cy="558.09" r="1.1" fill="#fed885"/><circle cx="36" cy="557.34" r="1.1" fill="#b6e1a2"/><circle cx="37.73" cy="557.44" r="1.1" fill="#8cd1a4"/><circle cx="39.43" cy="558.03" r="1.1" fill="#edf8a3"/><circle cx="41.13" cy="556.94" r="1.1" fill="#a8dca4"/><circle cx="42.7" cy="557.47" r="1.1" fill="#b0dfa3"/><circle cx="44.94" cy="557.56" r="1.1" fill="#c6e89e"/><circle cx="45.6" cy="557.44" r="1.1" fill="#c6e89f"/><circle cx="14.22" cy="559.26" r="1.1" fill="#da464d"/><circle cx="16.28" cy="559.46" r="1.1" fill="#f06745"/><circle cx="17.48" cy="559.19" r="1.1" fill="#e1504a"/><circle cx="19.22" cy="559.48" r="1.1" fill="#ee6445"/><circle cx="20.23" cy="559.3" r="1.1" fill="#dc484c"/><circle cx="22.48" cy="558.93" r="1.1" fill="#e55649"/><circle cx="23.97" cy="558.98" r="1.1" fill="#e55649"/><circle cx="25.82" cy="559.34" r="1.1" fill="#e1504a"/><circle cx="27.64" cy="559.48" r="1.1" fill="#ea5f47"/><circle cx="29.42" cy="559.76" r="1.1" fill="#ce364d"/><circle cx="31.11" cy="558.8" r="1.1" fill="#da464d"/><circle cx="32.47" cy="558.82" r="1.1" fill="#fff9b6"/><circle cx="34.41" cy="559.22" r="1.1" fill="#fecc7a"/><circle cx="36.31" cy="559.16" r="1.1" fill="#b7e2a2"/><circle cx="37.88" cy="559.27" r="1.1" fill="#a6dba4"/><circle cx="39.29" cy="558.73" r="1.1" fill="#9ad6a4"/><circle cx="41.32" cy="558.74" r="1.1" fill="#c0e6a0"/><circle cx="42.89" cy="559.48" r="1.1" fill="#7dcba5"/><circle cx="44.4" cy="559.27" r="1.1" fill="#a0d9a4"/><circle cx="46.76" cy="559.07" r="1.1" fill="#bbe4a1"/></g></g>
<g transform="translate(436.9,0)"><path d="M13,500 C17,497.5 28,496.8 36,497.8 C40,498.5 42,501.5 42.5,505 C45.5,506.5 46.5,511 43.5,512.5 C41,513.5 39.5,514 37,516 C32,519 22,520 14,516 C10.5,513.5 10.5,503 13,500 Z" fill="#e6f598"/><g clip-path="url(#ctop)"><circle cx="11.14" cy="496.35" r="1.1" fill="#64c0a6"/><circle cx="12.87" cy="495.32" r="1.1" fill="#89d0a4"/><circle cx="14.3" cy="496.27" r="1.1" fill="#89d0a4"/><circle cx="15.97" cy="495.87" r="1.1" fill="#348abc"/><circle cx="17.66" cy="496.37" r="1.1" fill="#78c9a5"/><circle cx="19.34" cy="495.93" r="1.1" fill="#81cca5"/><circle cx="21.44" cy="495.9" r="1.1" fill="#addea4"/><circle cx="23.13" cy="496.05" r="1.1" fill="#5db8a9"/><circle cx="24.68" cy="496.2" r="1.1" fill="#62bda7"/><circle cx="26.3" cy="496.06" r="1.1" fill="#76c8a5"/><circle cx="27.92" cy="495.96" r="1.1" fill="#4fa9af"/><circle cx="29.37" cy="495.65" r="1.1" fill="#88cfa5"/><circle cx="31.24" cy="495.72" r="1.1" fill="#6dc5a5"/><circle cx="32.94" cy="496.07" r="1.1" fill="#4ca5b1"/><circle cx="35.04" cy="496.09" r="1.1" fill="#77c9a5"/><circle cx="36.55" cy="495.9" r="1.1" fill="#70c6a5"/><circle cx="37.64" cy="496.45" r="1.1" fill="#81cca5"/><circle cx="40.06" cy="496.43" r="1.1" fill="#3b92b9"/><circle cx="41.76" cy="496.38" r="1.1" fill="#76c8a5"/><circle cx="43.37" cy="495.71" r="1.1" fill="#90d3a4"/><circle cx="44.78" cy="496.34" r="1.1" fill="#4ba4b2"/><circle cx="10.24" cy="497.43" r="1.1" fill="#9ad6a4"/><circle cx="11.84" cy="497.33" r="1.1" fill="#4da6b1"/><circle cx="13.58" cy="497.74" r="1.1" fill="#56b0ac"/><circle cx="15.37" cy="497.77" r="1.1" fill="#87cfa5"/><circle cx="17.05" cy="497.48" r="1.1" fill="#a5dba4"/><circle cx="19.01" cy="497.66" r="1.1" fill="#61bca7"/><circle cx="21.14" cy="497.94" r="1.1" fill="#68c3a5"/><circle cx="21.98" cy="497.58" r="1.1" fill="#3a90ba"/><circle cx="23.8" cy="497.67" r="1.1" fill="#6cc4a5"/><circle cx="25.55" cy="498.04" r="1.1" fill="#87cfa5"/><circle cx="27.15" cy="497.87" r="1.1" fill="#99d6a4"/><circle cx="29.26" cy="498.02" r="1.1" fill="#83cda5"/><circle cx="30.91" cy="497.97" r="1.1" fill="#74c8a5"/><circle cx="32.28" cy="497.43" r="1.1" fill="#3f97b7"/><circle cx="34.49" cy="496.97" r="1.1" fill="#5db8a9"/><circle cx="35.39" cy="497.89" r="1.1" fill="#67c2a5"/><circle cx="37.89" cy="497.41" r="1.1" fill="#59b3ab"/><circle cx="39.5" cy="498.18" r="1.1" fill="#97d5a4"/><circle cx="41.42" cy="497.29" r="1.1" fill="#99d6a4"/><circle cx="42.01" cy="498.1" r="1.1" fill="#6bc4a5"/><circle cx="44.99" cy="498.15" r="1.1" fill="#a1d9a4"/><circle cx="45.95" cy="497.82" r="1.1" fill="#7fcca5"/><circle cx="11.9" cy="498.92" r="1.1" fill="#99d6a4"/><circle cx="13.51" cy="498.92" r="1.1" fill="#75c8a5"/><circle cx="14.92" cy="499.57" r="1.1" fill="#65c1a5"/><circle cx="17.02" cy="499.41" r="1.1" fill="#3d94b8"/><circle cx="18.49" cy="499.12" r="1.1" fill="#55afad"/><circle cx="19.65" cy="498.99" r="1.1" fill="#6fc5a5"/><circle cx="22.02" cy="499.19" r="1.1" fill="#64c0a6"/><circle cx="23.55" cy="499.21" r="1.1" fill="#61bca8"/><circle cx="25.37" cy="498.95" r="1.1" fill="#5fbaa8"/><circle cx="27.14" cy="499.2" r="1.1" fill="#82cda5"/><circle cx="28.61" cy="498.92" r="1.1" fill="#65c1a5"/><circle cx="30.55" cy="499.22" r="1.1" fill="#7dcba5"/><circle cx="32.31" cy="499.12" r="1.1" fill="#57b1ac"/><circle cx="34.12" cy="499.9" r="1.1" fill="#48a1b3"/><circle cx="36.14" cy="499.56" r="1.1" fill="#3287bc"/><circle cx="36.81" cy="499.45" r="1.1" fill="#8cd1a4"/><circle cx="38.72" cy="499.67" r="1.1" fill="#5bb6aa"/><circle cx="40.64" cy="499.1" r="1.1" fill="#4aa2b2"/><circle cx="42.47" cy="499.81" r="1.1" fill="#53adae"/><circle cx="44.23" cy="499.25" r="1.1" fill="#aadda4"/><circle cx="45.58" cy="499.59" r="1.1" fill="#82cda5"/><circle cx="11.42" cy="501.03" r="1.1" fill="#7ecba5"/><circle cx="12.62" cy="501.32" r="1.1" fill="#64bfa6"/><circle cx="14.04" cy="500.97" r="1.1" fill="#64c0a6"/><circle cx="16" cy="501.48" r="1.1" fill="#396cae"/><circle cx="17.94" cy="501.95" r="1.1" fill="#65c1a6"/><circle cx="19.42" cy="501.31" r="1.1" fill="#8dd1a4"/><circle cx="20.88" cy="501.32" r="1.1" fill="#3e95b7"/><circle cx="23.39" cy="501.17" r="1.1" fill="#75c8a5"/><circle cx="24.65" cy="500.83" r="1.1" fill="#6bc4a5"/><circle cx="26.08" cy="500.73" r="1.1" fill="#8fd2a4"/><circle cx="28.49" cy="501.23" r="1.1" fill="#66c1a5"/><circle cx="29.58" cy="501.23" r="1.1" fill="#74c8a5"/><circle cx="31.04" cy="501.09" r="1.1" fill="#9bd7a4"/><circle cx="33.02" cy="500.89" r="1.1" fill="#4299b6"/><circle cx="35.14" cy="501.05" r="1.1" fill="#69c3a5"/><circle cx="36.63" cy="501.02" r="1.1" fill="#56b0ac"/><circle cx="38.2" cy="500.93" r="1.1" fill="#86cea5"/><circle cx="39.64" cy="501.55" r="1.1" fill="#65c1a5"/><circle cx="41.46" cy="501.26" r="1.1" fill="#8fd2a4"/><circle cx="43.12" cy="501.04" r="1.1" fill="#4ea8b0"/><circle cx="45.38" cy="501.01" r="1.1" fill="#acdda4"/><circle cx="10.87" cy="503.14" r="1.1" fill="#58b3ab"/><circle cx="12.82" cy="503.12" r="1.1" fill="#81cda5"/><circle cx="14.59" cy="502.42" r="1.1" fill="#84cea5"/><circle cx="15.78" cy="502.59" r="1.1" fill="#a7dba4"/><circle cx="17.38" cy="502.38" r="1.1" fill="#8bd0a4"/><circle cx="19.63" cy="502.39" r="1.1" fill="#3d95b8"/><circle cx="20.53" cy="503.08" r="1.1" fill="#88cfa5"/><circle cx="22.6" cy="502.35" r="1.1" fill="#59b4ab"/><circle cx="24.55" cy="502.45" r="1.1" fill="#8ad0a4"/><circle cx="26.1" cy="502.57" r="1.1" fill="#8ad0a4"/><circle cx="27.82" cy="503.09" r="1.1" fill="#347fb8"/><circle cx="29.7" cy="503.1" r="1.1" fill="#91d3a4"/><circle cx="30.95" cy="502.53" r="1.1" fill="#b1dfa3"/><circle cx="32.57" cy="502.96" r="1.1" fill="#53adae"/><circle cx="35.02" cy="503" r="1.1" fill="#3481ba"/><circle cx="36.75" cy="502.37" r="1.1" fill="#80cca5"/><circle cx="37.35" cy="502.72" r="1.1" fill="#429ab6"/><circle cx="40.07" cy="502.67" r="1.1" fill="#95d4a4"/><circle cx="41.71" cy="502.81" r="1.1" fill="#79c9a5"/><circle cx="43.11" cy="502.54" r="1.1" fill="#a8dca4"/><circle cx="44.56" cy="502.72" r="1.1" fill="#7fcca5"/><circle cx="46.26" cy="502.57" r="1.1" fill="#5bb6aa"/><circle cx="10.17" cy="504.93" r="1.1" fill="#78c9a5"/><circle cx="11.7" cy="504.47" r="1.1" fill="#7acaa5"/><circle cx="13.71" cy="504.45" r="1.1" fill="#91d3a4"/><circle cx="15.43" cy="504.35" r="1.1" fill="#b4e1a2"/><circle cx="16.83" cy="504.82" r="1.1" fill="#6cc5a5"/><circle cx="18.39" cy="504.14" r="1.1" fill="#7fcca5"/><circle cx="19.97" cy="504.25" r="1.1" fill="#56b0ac"/><circle cx="22.42" cy="505.01" r="1.1" fill="#52acae"/><circle cx="23.49" cy="504.9" r="1.1" fill="#9ed8a4"/><circle cx="25.48" cy="504.28" r="1.1" fill="#5eb9a9"/><circle cx="27.44" cy="504.71" r="1.1" fill="#3286bc"/><circle cx="28.6" cy="504.71" r="1.1" fill="#62bda7"/><circle cx="30.79" cy="504.12" r="1.1" fill="#459db4"/><circle cx="32.32" cy="504.96" r="1.1" fill="#a9dca4"/><circle cx="33.67" cy="504.53" r="1.1" fill="#88cfa5"/><circle cx="35.28" cy="504.6" r="1.1" fill="#7fcca5"/><circle cx="37.54" cy="504.69" r="1.1" fill="#5fbaa8"/><circle cx="39.34" cy="504.47" r="1.1" fill="#77c9a5"/><circle cx="41" cy="504.31" r="1.1" fill="#70c6a5"/><circle cx="42.46" cy="505.16" r="1.1" fill="#71c6a5"/><circle cx="44.28" cy="504.03" r="1.1" fill="#64bfa6"/><circle cx="46.13" cy="504.61" r="1.1" fill="#77c9a5"/><circle cx="10.24" cy="506.42" r="1.1" fill="#75c8a5"/><circle cx="11.64" cy="506.12" r="1.1" fill="#99d6a4"/><circle cx="13.59" cy="506.19" r="1.1" fill="#4299b6"/><circle cx="14.7" cy="506.48" r="1.1" fill="#4ba4b1"/><circle cx="17.14" cy="506.61" r="1.1" fill="#52acae"/><circle cx="18.03" cy="506.09" r="1.1" fill="#87cfa5"/><circle cx="20.85" cy="505.77" r="1.1" fill="#79caa5"/><circle cx="21.53" cy="506.46" r="1.1" fill="#79c9a5"/><circle cx="24.02" cy="505.76" r="1.1" fill="#7ecca5"/><circle cx="25.21" cy="506.07" r="1.1" fill="#70c6a5"/><circle cx="27.08" cy="506.33" r="1.1" fill="#6bc4a5"/><circle cx="28.64" cy="506.04" r="1.1" fill="#8ad0a4"/><circle cx="30.59" cy="506.04" r="1.1" fill="#89d0a4"/><circle cx="32" cy="506.03" r="1.1" fill="#6fc6a5"/><circle cx="34.25" cy="506.12" r="1.1" fill="#70c6a5"/><circle cx="35.95" cy="506.26" r="1.1" fill="#398fba"/><circle cx="37.46" cy="506.07" r="1.1" fill="#8ed2a4"/><circle cx="38.91" cy="506.35" r="1.1" fill="#84cea5"/><circle cx="40.64" cy="506.24" r="1.1" fill="#76c8a5"/><circle cx="42.6" cy="505.53" r="1.1" fill="#5eb9a9"/><circle cx="44.36" cy="505.82" r="1.1" fill="#81cca5"/><circle cx="45.51" cy="506.62" r="1.1" fill="#4ba4b1"/><circle cx="11.7" cy="507.45" r="1.1" fill="#62bea7"/><circle cx="13.16" cy="508.34" r="1.1" fill="#8ad0a4"/><circle cx="15.31" cy="508.33" r="1.1" fill="#81cda5"/><circle cx="16.58" cy="507.88" r="1.1" fill="#a1d9a4"/><circle cx="18.62" cy="507.6" r="1.1" fill="#86cea5"/><circle cx="20.65" cy="507.97" r="1.1" fill="#72c7a5"/><circle cx="21.29" cy="507.69" r="1.1" fill="#9dd8a4"/><circle cx="23.99" cy="507.55" r="1.1" fill="#c6e89e"/><circle cx="25.61" cy="507.86" r="1.1" fill="#d5ee9b"/><circle cx="26.74" cy="507.96" r="1.1" fill="#acdda4"/><circle cx="28.48" cy="507.58" r="1.1" fill="#3e95b8"/><circle cx="30.05" cy="508.01" r="1.1" fill="#8fd2a4"/><circle cx="31.64" cy="508.13" r="1.1" fill="#6cc4a5"/><circle cx="33.1" cy="507.95" r="1.1" fill="#76c8a5"/><circle cx="35.39" cy="507.65" r="1.1" fill="#bae3a1"/><circle cx="37.4" cy="508.29" r="1.1" fill="#a9dca4"/><circle cx="38.81" cy="508.06" r="1.1" fill="#c0e6a0"/><circle cx="40.98" cy="507.88" r="1.1" fill="#4299b6"/><circle cx="42.82" cy="507.59" r="1.1" fill="#74c7a5"/><circle cx="43.76" cy="507.77" r="1.1" fill="#6ec5a5"/><circle cx="44.89" cy="508.01" r="1.1" fill="#8cd1a4"/><circle cx="11.16" cy="509.89" r="1.1" fill="#dff299"/><circle cx="13.52" cy="509.91" r="1.1" fill="#e5f598"/><circle cx="15.23" cy="509.72" r="1.1" fill="#e7f59a"/><circle cx="16.13" cy="509.9" r="1.1" fill="#e9f69d"/><circle cx="18.38" cy="509.68" r="1.1" fill="#a7dba4"/><circle cx="20.03" cy="509.54" r="1.1" fill="#addea4"/><circle cx="21.18" cy="509.82" r="1.1" fill="#d9f09b"/><circle cx="23" cy="509.93" r="1.1" fill="#c4e79f"/><circle cx="25.05" cy="509.65" r="1.1" fill="#c2e79f"/><circle cx="26.7" cy="509.86" r="1.1" fill="#bbe4a1"/><circle cx="28.62" cy="509.68" r="1.1" fill="#d8ef9b"/><circle cx="30.63" cy="509.4" r="1.1" fill="#b3e0a2"/><circle cx="31.35" cy="509.43" r="1.1" fill="#ceeb9d"/><circle cx="33.09" cy="510.17" r="1.1" fill="#d8ef9b"/><circle cx="35.43" cy="509.22" r="1.1" fill="#e1f399"/><circle cx="37.27" cy="509.41" r="1.1" fill="#b5e1a2"/><circle cx="39.19" cy="509.68" r="1.1" fill="#b0dfa3"/><circle cx="40.18" cy="509.51" r="1.1" fill="#84cea5"/><circle cx="42.47" cy="508.79" r="1.1" fill="#62bea7"/><circle cx="44.06" cy="509.47" r="1.1" fill="#86cea5"/><circle cx="45.97" cy="509.86" r="1.1" fill="#6ac4a5"/><circle cx="10.7" cy="511.43" r="1.1" fill="#f6fbb1"/><circle cx="12.4" cy="511.24" r="1.1" fill="#fafdb8"/><circle cx="14.11" cy="511.09" r="1.1" fill="#e7f59a"/><circle cx="15.54" cy="511.27" r="1.1" fill="#feffbd"/><circle cx="18.22" cy="511.46" r="1.1" fill="#f0f9a8"/><circle cx="19.41" cy="511.45" r="1.1" fill="#fff9b5"/><circle cx="20.84" cy="511.5" r="1.1" fill="#f1faaa"/><circle cx="21.6" cy="510.89" r="1.1" fill="#e8f69b"/><circle cx="24.41" cy="510.82" r="1.1" fill="#f1f9a9"/><circle cx="26.13" cy="511.17" r="1.1" fill="#f8fcb3"/><circle cx="27.39" cy="511.13" r="1.1" fill="#eff9a6"/><circle cx="29.07" cy="511.36" r="1.1" fill="#e5f598"/><circle cx="30.9" cy="511.2" r="1.1" fill="#f9fdb6"/><circle cx="33.49" cy="511.32" r="1.1" fill="#fcfeba"/><circle cx="34.56" cy="510.98" r="1.1" fill="#fafdb7"/><circle cx="36.67" cy="511.12" r="1.1" fill="#eef8a5"/><circle cx="37.98" cy="511.43" r="1.1" fill="#d6ee9b"/><circle cx="39.31" cy="511.57" r="1.1" fill="#58b2ab"/><circle cx="41.8" cy="510.72" r="1.1" fill="#7acaa5"/><circle cx="42.53" cy="511.71" r="1.1" fill="#7bcaa5"/><circle cx="44.2" cy="511.65" r="1.1" fill="#57b1ac"/><circle cx="46.43" cy="511.77" r="1.1" fill="#5eb9a9"/><circle cx="10" cy="513.08" r="1.1" fill="#fff5af"/><circle cx="11.6" cy="512.45" r="1.1" fill="#f9fdb6"/><circle cx="13.42" cy="513.27" r="1.1" fill="#fee796"/><circle cx="15.4" cy="512.57" r="1.1" fill="#fff4ac"/><circle cx="16.89" cy="513.5" r="1.1" fill="#fffbb8"/><circle cx="18.81" cy="513.16" r="1.1" fill="#fdbe6e"/><circle cx="20.77" cy="513.59" r="1.1" fill="#fff1a7"/><circle cx="21.87" cy="512.94" r="1.1" fill="#fffbb8"/><circle cx="24.12" cy="512.42" r="1.1" fill="#feffbe"/><circle cx="25.4" cy="512.4" r="1.1" fill="#fee491"/><circle cx="27.89" cy="512.72" r="1.1" fill="#fee99b"/><circle cx="28.6" cy="512.75" r="1.1" fill="#feefa5"/><circle cx="30.66" cy="513.3" r="1.1" fill="#fcfeba"/><circle cx="32.24" cy="512.87" r="1.1" fill="#f7fcb3"/><circle cx="34.01" cy="512.76" r="1.1" fill="#feeea3"/><circle cx="35.49" cy="513.55" r="1.1" fill="#fff4ac"/><circle cx="37.31" cy="512.98" r="1.1" fill="#fee99a"/><circle cx="39.28" cy="513.2" r="1.1" fill="#f9fdb6"/><circle cx="40.3" cy="513.42" r="1.1" fill="#4da6b1"/><circle cx="42.05" cy="512.75" r="1.1" fill="#81cda5"/><circle cx="44.62" cy="513.64" r="1.1" fill="#6fc5a5"/><circle cx="46.25" cy="512.97" r="1.1" fill="#8cd1a4"/><circle cx="10.32" cy="514.39" r="1.1" fill="#fdac60"/><circle cx="12.36" cy="514.3" r="1.1" fill="#fece7c"/><circle cx="13.53" cy="514.76" r="1.1" fill="#fed481"/><circle cx="15.46" cy="514.69" r="1.1" fill="#feeea3"/><circle cx="16.96" cy="514.82" r="1.1" fill="#fed986"/><circle cx="18.26" cy="514.74" r="1.1" fill="#fecc7a"/><circle cx="20.25" cy="514.15" r="1.1" fill="#fdc574"/><circle cx="22.45" cy="514.6" r="1.1" fill="#fdb365"/><circle cx="24.09" cy="514.91" r="1.1" fill="#fee18d"/><circle cx="26.14" cy="515.05" r="1.1" fill="#feda86"/><circle cx="27.38" cy="514.72" r="1.1" fill="#fed07d"/><circle cx="29.3" cy="515.02" r="1.1" fill="#fcfeba"/><circle cx="30.36" cy="514.44" r="1.1" fill="#feefa4"/><circle cx="32.51" cy="514.56" r="1.1" fill="#fa9756"/><circle cx="34.22" cy="514.41" r="1.1" fill="#fba25b"/><circle cx="35.79" cy="514.69" r="1.1" fill="#fdb265"/><circle cx="37.32" cy="514.81" r="1.1" fill="#fee796"/><circle cx="39.27" cy="515.27" r="1.1" fill="#469eb4"/><circle cx="41.29" cy="514.67" r="1.1" fill="#62bda7"/><circle cx="43.01" cy="514.36" r="1.1" fill="#7ccba5"/><circle cx="44.56" cy="514.69" r="1.1" fill="#63bfa6"/><circle cx="45.75" cy="514.64" r="1.1" fill="#70c6a5"/><circle cx="10.61" cy="516.7" r="1.1" fill="#fdbd6d"/><circle cx="12.18" cy="516.44" r="1.1" fill="#fba05b"/><circle cx="13.65" cy="517.03" r="1.1" fill="#fba05b"/><circle cx="15.76" cy="516.05" r="1.1" fill="#fca95f"/><circle cx="17.73" cy="516.47" r="1.1" fill="#fa9756"/><circle cx="19.49" cy="516.16" r="1.1" fill="#fede89"/><circle cx="21.01" cy="516.13" r="1.1" fill="#fdb769"/><circle cx="22.63" cy="516.63" r="1.1" fill="#fdb063"/><circle cx="24.23" cy="516.35" r="1.1" fill="#fdb769"/><circle cx="26.14" cy="515.89" r="1.1" fill="#fdb466"/><circle cx="28.37" cy="516.51" r="1.1" fill="#fdc675"/><circle cx="29.64" cy="516.59" r="1.1" fill="#fdbc6d"/><circle cx="31.11" cy="516.22" r="1.1" fill="#fdb567"/><circle cx="33.05" cy="516.69" r="1.1" fill="#f98e52"/><circle cx="35.12" cy="516.59" r="1.1" fill="#fee08b"/><circle cx="36.47" cy="516.78" r="1.1" fill="#fcaa5f"/><circle cx="38.14" cy="516.54" r="1.1" fill="#f88950"/><circle cx="39.34" cy="516.06" r="1.1" fill="#5bb6aa"/><circle cx="41.56" cy="516.31" r="1.1" fill="#66c2a5"/><circle cx="42.94" cy="516.32" r="1.1" fill="#4ca5b1"/><circle cx="44.68" cy="516.77" r="1.1" fill="#75c8a5"/><circle cx="46.45" cy="516.57" r="1.1" fill="#56b0ac"/><circle cx="10.55" cy="518.2" r="1.1" fill="#f67c4a"/><circle cx="12.1" cy="517.93" r="1.1" fill="#f7824d"/><circle cx="13.73" cy="518" r="1.1" fill="#dd4a4c"/><circle cx="15.37" cy="518.29" r="1.1" fill="#e95c47"/><circle cx="17.99" cy="518.44" r="1.1" fill="#e2514a"/><circle cx="19.21" cy="518.53" r="1.1" fill="#f16844"/><circle cx="20.62" cy="518.22" r="1.1" fill="#f88a50"/><circle cx="22.7" cy="518.19" r="1.1" fill="#f57346"/><circle cx="24.29" cy="518.37" r="1.1" fill="#e75a48"/><circle cx="25.75" cy="517.57" r="1.1" fill="#fdba6b"/><circle cx="27.58" cy="518.07" r="1.1" fill="#fb9e59"/><circle cx="29.19" cy="517.84" r="1.1" fill="#f57647"/><circle cx="31.24" cy="518.05" r="1.1" fill="#f67c4a"/><circle cx="32.62" cy="518.28" r="1.1" fill="#e95d47"/><circle cx="35.13" cy="518.15" r="1.1" fill="#f57647"/><circle cx="36.48" cy="518.07" r="1.1" fill="#dc494c"/><circle cx="37.96" cy="518.61" r="1.1" fill="#f36b44"/><circle cx="39.98" cy="518.34" r="1.1" fill="#91d3a4"/><circle cx="40.97" cy="518.1" r="1.1" fill="#6dc5a5"/><circle cx="43.08" cy="518.05" r="1.1" fill="#addea4"/><circle cx="44.64" cy="517.83" r="1.1" fill="#60bca8"/><circle cx="45.91" cy="518.08" r="1.1" fill="#358bbc"/><circle cx="11.46" cy="519.89" r="1.1" fill="#cb334d"/><circle cx="13.3" cy="519.94" r="1.1" fill="#d53f4f"/><circle cx="14.76" cy="520.11" r="1.1" fill="#d13a4e"/><circle cx="16.86" cy="519.86" r="1.1" fill="#e3534a"/><circle cx="18.19" cy="519.4" r="1.1" fill="#c2294a"/><circle cx="19.89" cy="519.43" r="1.1" fill="#ec6146"/><circle cx="21.76" cy="520.13" r="1.1" fill="#d43d4f"/><circle cx="23.75" cy="519.81" r="1.1" fill="#d13a4e"/><circle cx="24.9" cy="519.69" r="1.1" fill="#cc344d"/><circle cx="26.73" cy="519.96" r="1.1" fill="#f16844"/><circle cx="28.77" cy="519.84" r="1.1" fill="#f88950"/><circle cx="30.31" cy="519.42" r="1.1" fill="#d33c4e"/><circle cx="31.43" cy="519.7" r="1.1" fill="#e1504a"/><circle cx="33.97" cy="519.73" r="1.1" fill="#d9444e"/><circle cx="35.22" cy="519.96" r="1.1" fill="#b41a47"/><circle cx="36.97" cy="519.77" r="1.1" fill="#ae1346"/><circle cx="39" cy="519.99" r="1.1" fill="#dc494c"/><circle cx="41" cy="519.62" r="1.1" fill="#8bd1a4"/><circle cx="41.43" cy="519.9" r="1.1" fill="#479fb3"/><circle cx="44.18" cy="519.83" r="1.1" fill="#b1dfa3"/><circle cx="45.35" cy="520.27" r="1.1" fill="#4aa2b2"/></g></g>
<g transform="translate(436.9,0)"><path d="M14.5,552 C14.5,547 18,544 24,543.8 C28,543.6 31,544 34,544.5 C36,542.5 38,541.2 41,541.2 C44.5,541.2 46.5,543 46,545.5 C45.5,548 42,549.2 38,549 C36,550 35,553 32.5,556 C30,558.5 26,559.6 22,559.5 C17.5,559.2 14.5,556.5 14.5,552 Z" fill="#c8e99e"/><g clip-path="url(#cbot)"><circle cx="14.74" cy="540.64" r="1.1" fill="#449db4"/><circle cx="16.06" cy="541.06" r="1.1" fill="#3288bd"/><circle cx="18.29" cy="540.59" r="1.1" fill="#50a9af"/><circle cx="19.69" cy="540.04" r="1.1" fill="#e3f499"/><circle cx="21.61" cy="539.77" r="1.1" fill="#e9f69d"/><circle cx="23.39" cy="540.24" r="1.1" fill="#e8f69b"/><circle cx="25.55" cy="540.6" r="1.1" fill="#f1f9a9"/><circle cx="26.81" cy="540.18" r="1.1" fill="#f4fbaf"/><circle cx="28.13" cy="540.63" r="1.1" fill="#edf8a4"/><circle cx="30.4" cy="540.01" r="1.1" fill="#e2f399"/><circle cx="31.31" cy="539.61" r="1.1" fill="#f2faaa"/><circle cx="33.51" cy="540.32" r="1.1" fill="#50aaaf"/><circle cx="35.22" cy="540.31" r="1.1" fill="#71c6a5"/><circle cx="36.47" cy="540.03" r="1.1" fill="#eaf79e"/><circle cx="38.49" cy="539.97" r="1.1" fill="#e3f499"/><circle cx="40.19" cy="540.1" r="1.1" fill="#e9f69c"/><circle cx="41.83" cy="540.19" r="1.1" fill="#5ab5aa"/><circle cx="43.41" cy="540.82" r="1.1" fill="#dff299"/><circle cx="45.48" cy="541.13" r="1.1" fill="#5ab4ab"/><circle cx="46.9" cy="540.8" r="1.1" fill="#e8f69c"/><circle cx="14.35" cy="541.82" r="1.1" fill="#97d5a4"/><circle cx="15.28" cy="542.3" r="1.1" fill="#f9fdb6"/><circle cx="17.45" cy="542.15" r="1.1" fill="#fffbb9"/><circle cx="19.2" cy="541.72" r="1.1" fill="#fbfdb9"/><circle cx="20.68" cy="541.92" r="1.1" fill="#f2faaa"/><circle cx="22.01" cy="541.94" r="1.1" fill="#6fc6a5"/><circle cx="23.66" cy="541.71" r="1.1" fill="#6fc5a5"/><circle cx="25.69" cy="542.27" r="1.1" fill="#67c2a5"/><circle cx="27.51" cy="542.12" r="1.1" fill="#eaf79e"/><circle cx="29.24" cy="541.95" r="1.1" fill="#feffbd"/><circle cx="30.91" cy="541.75" r="1.1" fill="#f6fbb0"/><circle cx="32.61" cy="541.9" r="1.1" fill="#52acae"/><circle cx="34.09" cy="542.4" r="1.1" fill="#d4ee9c"/><circle cx="35.76" cy="542.46" r="1.1" fill="#def29a"/><circle cx="37.36" cy="542.44" r="1.1" fill="#f1f9a9"/><circle cx="39.07" cy="542.67" r="1.1" fill="#8fd2a4"/><circle cx="40.61" cy="541.56" r="1.1" fill="#e2f399"/><circle cx="42.51" cy="542.51" r="1.1" fill="#e8f69b"/><circle cx="44.45" cy="542.01" r="1.1" fill="#d5ee9b"/><circle cx="45.53" cy="541.93" r="1.1" fill="#f2faab"/><circle cx="14.16" cy="544.05" r="1.1" fill="#daf09a"/><circle cx="15.64" cy="544.8" r="1.1" fill="#60bca8"/><circle cx="17.27" cy="543.63" r="1.1" fill="#e5f598"/><circle cx="18.69" cy="544.22" r="1.1" fill="#e8f69a"/><circle cx="20.45" cy="544.11" r="1.1" fill="#56b1ac"/><circle cx="22.49" cy="543.85" r="1.1" fill="#eff8a6"/><circle cx="23.88" cy="544.15" r="1.1" fill="#e5f598"/><circle cx="25.81" cy="543.61" r="1.1" fill="#c8e99e"/><circle cx="27.72" cy="543.35" r="1.1" fill="#e9f69c"/><circle cx="29.52" cy="543.85" r="1.1" fill="#bee5a0"/><circle cx="30.43" cy="543.98" r="1.1" fill="#4ea7b0"/><circle cx="32.37" cy="543.57" r="1.1" fill="#76c8a5"/><circle cx="34.06" cy="544.18" r="1.1" fill="#fff6b1"/><circle cx="36.01" cy="543.13" r="1.1" fill="#f0f9a7"/><circle cx="37.81" cy="544.04" r="1.1" fill="#429ab5"/><circle cx="39.14" cy="544.21" r="1.1" fill="#eef8a5"/><circle cx="40.99" cy="544" r="1.1" fill="#5ab5aa"/><circle cx="42.51" cy="543.62" r="1.1" fill="#8dd1a4"/><circle cx="44.73" cy="543.41" r="1.1" fill="#53adae"/><circle cx="46.35" cy="543.88" r="1.1" fill="#48a0b3"/><circle cx="13.53" cy="545.25" r="1.1" fill="#7ccba5"/><circle cx="14.95" cy="545.17" r="1.1" fill="#d8ef9b"/><circle cx="17.07" cy="545.77" r="1.1" fill="#d5ee9b"/><circle cx="18.68" cy="545.98" r="1.1" fill="#f5fbb0"/><circle cx="20.71" cy="544.93" r="1.1" fill="#64bfa6"/><circle cx="22.12" cy="545.96" r="1.1" fill="#65c1a5"/><circle cx="24.03" cy="546.17" r="1.1" fill="#59b3ab"/><circle cx="25.34" cy="545.92" r="1.1" fill="#f2faab"/><circle cx="27.23" cy="545.8" r="1.1" fill="#61bda7"/><circle cx="28.39" cy="545.2" r="1.1" fill="#e7f59a"/><circle cx="30.57" cy="545.69" r="1.1" fill="#e3f499"/><circle cx="31.75" cy="545.93" r="1.1" fill="#4199b6"/><circle cx="34.01" cy="545.42" r="1.1" fill="#57b1ac"/><circle cx="35.42" cy="545.56" r="1.1" fill="#cbea9d"/><circle cx="37.02" cy="545.5" r="1.1" fill="#e4f498"/><circle cx="39.01" cy="545.32" r="1.1" fill="#77c9a5"/><circle cx="40.87" cy="545.24" r="1.1" fill="#eaf79e"/><circle cx="42.76" cy="545.62" r="1.1" fill="#dff29a"/><circle cx="43.78" cy="545.74" r="1.1" fill="#ecf8a2"/><circle cx="45.95" cy="545.69" r="1.1" fill="#348abc"/><circle cx="15.21" cy="546.92" r="1.1" fill="#e0f399"/><circle cx="15.98" cy="547.95" r="1.1" fill="#eff9a6"/><circle cx="17.98" cy="546.51" r="1.1" fill="#e7f59a"/><circle cx="19.57" cy="547.12" r="1.1" fill="#5bb5aa"/><circle cx="20.93" cy="547.38" r="1.1" fill="#75c8a5"/><circle cx="22.65" cy="547.07" r="1.1" fill="#ddf19a"/><circle cx="24.56" cy="547.38" r="1.1" fill="#e2f399"/><circle cx="26.1" cy="547.51" r="1.1" fill="#fafdb7"/><circle cx="27.94" cy="547.53" r="1.1" fill="#eff9a6"/><circle cx="29.41" cy="546.82" r="1.1" fill="#cfec9d"/><circle cx="31.37" cy="547.89" r="1.1" fill="#fafdb7"/><circle cx="33.37" cy="546.86" r="1.1" fill="#e4f498"/><circle cx="34.74" cy="547.02" r="1.1" fill="#eef8a5"/><circle cx="36.6" cy="547.41" r="1.1" fill="#d5ee9b"/><circle cx="38.38" cy="547.15" r="1.1" fill="#85cea5"/><circle cx="40.53" cy="547.71" r="1.1" fill="#d1ed9c"/><circle cx="41.34" cy="547.68" r="1.1" fill="#7acaa5"/><circle cx="43.36" cy="547.02" r="1.1" fill="#d6ee9b"/><circle cx="45.14" cy="547.46" r="1.1" fill="#c8e99e"/><circle cx="46.46" cy="547.35" r="1.1" fill="#7acaa5"/><circle cx="13.43" cy="549.19" r="1.1" fill="#74c7a5"/><circle cx="15.86" cy="548.96" r="1.1" fill="#53adae"/><circle cx="17.36" cy="549.08" r="1.1" fill="#eff8a6"/><circle cx="19.06" cy="548.65" r="1.1" fill="#63bea7"/><circle cx="20.68" cy="548.89" r="1.1" fill="#bce4a1"/><circle cx="21.98" cy="548.9" r="1.1" fill="#fdfebb"/><circle cx="24.44" cy="549.22" r="1.1" fill="#5ab5aa"/><circle cx="25.39" cy="549.6" r="1.1" fill="#d9f09b"/><circle cx="27.96" cy="548.82" r="1.1" fill="#60bca8"/><circle cx="28.96" cy="548.69" r="1.1" fill="#61bca8"/><circle cx="30.27" cy="548.92" r="1.1" fill="#4fa9af"/><circle cx="32.55" cy="549.19" r="1.1" fill="#88cfa5"/><circle cx="34.11" cy="549.14" r="1.1" fill="#57b1ac"/><circle cx="35.95" cy="548.73" r="1.1" fill="#eaf79e"/><circle cx="37.62" cy="548.88" r="1.1" fill="#eef8a5"/><circle cx="39.31" cy="549.21" r="1.1" fill="#5db8a9"/><circle cx="41.01" cy="549.69" r="1.1" fill="#ecf7a1"/><circle cx="42.57" cy="548.37" r="1.1" fill="#b9e3a1"/><circle cx="44.77" cy="548.36" r="1.1" fill="#eef8a5"/><circle cx="45.86" cy="549.46" r="1.1" fill="#86cfa5"/><circle cx="14.71" cy="550.91" r="1.1" fill="#ebf7a0"/><circle cx="16.46" cy="550.85" r="1.1" fill="#e3f499"/><circle cx="18.7" cy="550.32" r="1.1" fill="#53adae"/><circle cx="20.35" cy="550.34" r="1.1" fill="#e7f599"/><circle cx="21.85" cy="550.61" r="1.1" fill="#5db8a9"/><circle cx="23.31" cy="550.65" r="1.1" fill="#5db8a9"/><circle cx="24.9" cy="551.24" r="1.1" fill="#8bd0a4"/><circle cx="26.85" cy="550.26" r="1.1" fill="#f1faaa"/><circle cx="28.22" cy="550.98" r="1.1" fill="#64c0a6"/><circle cx="29.78" cy="550.57" r="1.1" fill="#f5fbb0"/><circle cx="31.52" cy="550.61" r="1.1" fill="#eef8a4"/><circle cx="33.52" cy="551.14" r="1.1" fill="#ecf7a1"/><circle cx="35.02" cy="550.25" r="1.1" fill="#f3faac"/><circle cx="36.33" cy="550.89" r="1.1" fill="#f3faad"/><circle cx="38.48" cy="550.59" r="1.1" fill="#79c9a5"/><circle cx="40.47" cy="550.97" r="1.1" fill="#3e96b7"/><circle cx="42.24" cy="550.74" r="1.1" fill="#3b92b9"/><circle cx="43.83" cy="550.23" r="1.1" fill="#3e95b8"/><circle cx="45.57" cy="551.1" r="1.1" fill="#5fbba8"/><circle cx="46.88" cy="550.78" r="1.1" fill="#d6ef9b"/><circle cx="14.23" cy="552.74" r="1.1" fill="#7acaa5"/><circle cx="15.95" cy="552.9" r="1.1" fill="#f2faab"/><circle cx="17.06" cy="551.63" r="1.1" fill="#5eb9a9"/><circle cx="19.13" cy="552.36" r="1.1" fill="#4aa3b2"/><circle cx="21.06" cy="551.97" r="1.1" fill="#e9f69d"/><circle cx="22.05" cy="552.63" r="1.1" fill="#f3faac"/><circle cx="23.76" cy="552.59" r="1.1" fill="#ecf7a1"/><circle cx="25.62" cy="552.29" r="1.1" fill="#ecf7a1"/><circle cx="27.58" cy="552.2" r="1.1" fill="#5bb6aa"/><circle cx="29.16" cy="551.99" r="1.1" fill="#67c2a5"/><circle cx="31.17" cy="552.13" r="1.1" fill="#f1f9a9"/><circle cx="32.61" cy="551.9" r="1.1" fill="#56b0ac"/><circle cx="34.98" cy="552.17" r="1.1" fill="#e3f499"/><circle cx="35.77" cy="552.25" r="1.1" fill="#f7fcb3"/><circle cx="37.92" cy="552.03" r="1.1" fill="#48a1b3"/><circle cx="39.66" cy="552.65" r="1.1" fill="#64c0a6"/><circle cx="41.33" cy="552.2" r="1.1" fill="#daf09a"/><circle cx="43.31" cy="552.25" r="1.1" fill="#f7fcb2"/><circle cx="44.56" cy="553.09" r="1.1" fill="#64c0a6"/><circle cx="46.3" cy="551.95" r="1.1" fill="#7ccba5"/><circle cx="13.78" cy="554.28" r="1.1" fill="#3384bb"/><circle cx="15.07" cy="554.41" r="1.1" fill="#4ca4b1"/><circle cx="16.91" cy="554.34" r="1.1" fill="#f3faad"/><circle cx="18.53" cy="553.9" r="1.1" fill="#58b3ab"/><circle cx="20.25" cy="553.67" r="1.1" fill="#f2faab"/><circle cx="21.63" cy="554.48" r="1.1" fill="#55afad"/><circle cx="23.76" cy="554.49" r="1.1" fill="#f4faad"/><circle cx="25.29" cy="554.31" r="1.1" fill="#d2ed9c"/><circle cx="27.11" cy="554.3" r="1.1" fill="#dff299"/><circle cx="29.2" cy="554.35" r="1.1" fill="#f0f9a8"/><circle cx="30.18" cy="554.05" r="1.1" fill="#56b0ad"/><circle cx="32.11" cy="554.23" r="1.1" fill="#388eba"/><circle cx="34.11" cy="554.01" r="1.1" fill="#54aead"/><circle cx="35.56" cy="553.84" r="1.1" fill="#e3f499"/><circle cx="38.07" cy="554.54" r="1.1" fill="#479fb3"/><circle cx="39.13" cy="554.25" r="1.1" fill="#55afad"/><circle cx="40.86" cy="553.91" r="1.1" fill="#3f96b7"/><circle cx="42.48" cy="554.29" r="1.1" fill="#ebf7a0"/><circle cx="44.13" cy="554.28" r="1.1" fill="#ebf7a0"/><circle cx="45.95" cy="553.89" r="1.1" fill="#bfe5a0"/><circle cx="14.18" cy="556.36" r="1.1" fill="#feec9f"/><circle cx="15.36" cy="556.22" r="1.1" fill="#fff3ab"/><circle cx="16.88" cy="555.98" r="1.1" fill="#fca85e"/><circle cx="19.52" cy="555.55" r="1.1" fill="#fedd88"/><circle cx="20.46" cy="556.04" r="1.1" fill="#dcf19a"/><circle cx="22.13" cy="555.51" r="1.1" fill="#eef8a5"/><circle cx="24.08" cy="555.78" r="1.1" fill="#e1f399"/><circle cx="25.8" cy="555.65" r="1.1" fill="#c3e79f"/><circle cx="28.15" cy="555.42" r="1.1" fill="#fee18d"/><circle cx="29.05" cy="555.19" r="1.1" fill="#ebf7a0"/><circle cx="30.58" cy="555.67" r="1.1" fill="#51aaaf"/><circle cx="32.2" cy="555.63" r="1.1" fill="#c6e89e"/><circle cx="33.9" cy="555.84" r="1.1" fill="#3385bb"/><circle cx="36.03" cy="555.98" r="1.1" fill="#eff8a5"/><circle cx="37.71" cy="556.02" r="1.1" fill="#f1faaa"/><circle cx="39.62" cy="555.51" r="1.1" fill="#e9f69d"/><circle cx="41.25" cy="555.82" r="1.1" fill="#e1f399"/><circle cx="43.12" cy="555.77" r="1.1" fill="#e9f69c"/><circle cx="44.41" cy="555.6" r="1.1" fill="#6bc4a5"/><circle cx="45.83" cy="555.69" r="1.1" fill="#62bea7"/><circle cx="14.87" cy="557.79" r="1.1" fill="#fedc87"/><circle cx="16.67" cy="557.07" r="1.1" fill="#fed07e"/><circle cx="18.15" cy="557.56" r="1.1" fill="#eef8a4"/><circle cx="19.75" cy="557.11" r="1.1" fill="#fee18d"/><circle cx="21.4" cy="557.54" r="1.1" fill="#e8f69b"/><circle cx="23.18" cy="557.56" r="1.1" fill="#fedf8a"/><circle cx="24.5" cy="557.1" r="1.1" fill="#fdb567"/><circle cx="27.01" cy="557.35" r="1.1" fill="#fed582"/><circle cx="28.08" cy="557.22" r="1.1" fill="#feec9e"/><circle cx="30.29" cy="558.22" r="1.1" fill="#f2faaa"/><circle cx="31.85" cy="557.25" r="1.1" fill="#3d94b8"/><circle cx="33.23" cy="557.65" r="1.1" fill="#449cb5"/><circle cx="35.5" cy="557.28" r="1.1" fill="#70c6a5"/><circle cx="36.89" cy="557.63" r="1.1" fill="#64c0a6"/><circle cx="38.09" cy="557.46" r="1.1" fill="#e4f498"/><circle cx="40.63" cy="557.59" r="1.1" fill="#e3f499"/><circle cx="42.29" cy="557.62" r="1.1" fill="#f3faac"/><circle cx="43.86" cy="558.04" r="1.1" fill="#ecf7a1"/><circle cx="45.34" cy="557.56" r="1.1" fill="#eaf69e"/><circle cx="46.66" cy="558.08" r="1.1" fill="#ecf7a1"/><circle cx="14" cy="558.94" r="1.1" fill="#fec776"/><circle cx="15.56" cy="558.94" r="1.1" fill="#fece7c"/><circle cx="17.41" cy="559.61" r="1.1" fill="#fecf7c"/><circle cx="18.76" cy="558.87" r="1.1" fill="#caea9e"/><circle cx="20.58" cy="559.7" r="1.1" fill="#e7f599"/><circle cx="22.37" cy="558.9" r="1.1" fill="#f5fbb0"/><circle cx="24.58" cy="559" r="1.1" fill="#e9f69d"/><circle cx="24.74" cy="559.34" r="1.1" fill="#feda86"/><circle cx="27.25" cy="559.38" r="1.1" fill="#fdc776"/><circle cx="29.61" cy="559" r="1.1" fill="#3389bd"/><circle cx="31.05" cy="559.13" r="1.1" fill="#e3f499"/><circle cx="32.95" cy="559.24" r="1.1" fill="#ecf8a2"/><circle cx="34.37" cy="559.04" r="1.1" fill="#ecf8a2"/><circle cx="36.56" cy="559.37" r="1.1" fill="#eff8a6"/><circle cx="37.45" cy="559.2" r="1.1" fill="#59b3ab"/><circle cx="40.2" cy="559.37" r="1.1" fill="#3481b9"/><circle cx="40.79" cy="558.99" r="1.1" fill="#69c3a5"/><circle cx="42.58" cy="559.23" r="1.1" fill="#c9e99e"/><circle cx="44.54" cy="559.01" r="1.1" fill="#fbfdb8"/><circle cx="46.74" cy="559.08" r="1.1" fill="#fafdb8"/></g></g>
<line x1="255.2" y1="494.4" x2="255.2" y2="562.5" stroke="#231f20" stroke-width="1.2"/>
<line x1="254.6" y1="562" x2="310.5" y2="562" stroke="#231f20" stroke-width="1.2"/>
<text x="282.5" y="571.5" font-size="7.3" text-anchor="middle" font-weight="bold" fill="#2a2a2a" textLength="18" lengthAdjust="spacingAndGlyphs" stroke="#2a2a2a" stroke-width="0.25">UMAP1</text>
<line x1="310.5" y1="494.4" x2="310.5" y2="562.5" stroke="#231f20" stroke-width="1.2"/>
<line x1="309.9" y1="562" x2="361" y2="562" stroke="#231f20" stroke-width="1.2"/>
<text x="335.4" y="571.5" font-size="7.3" text-anchor="middle" font-weight="bold" fill="#2a2a2a" textLength="18" lengthAdjust="spacingAndGlyphs" stroke="#2a2a2a" stroke-width="0.25">UMAP1</text>
<line x1="381.8" y1="494.4" x2="381.8" y2="562.5" stroke="#231f20" stroke-width="1.2"/>
<line x1="381.2" y1="562" x2="436.9" y2="562" stroke="#231f20" stroke-width="1.2"/>
<text x="409" y="571.5" font-size="7.3" text-anchor="middle" font-weight="bold" fill="#2a2a2a" textLength="18" lengthAdjust="spacingAndGlyphs" stroke="#2a2a2a" stroke-width="0.25">UMAP1</text>
<line x1="436.9" y1="494.4" x2="436.9" y2="562.5" stroke="#231f20" stroke-width="1.2"/>
<line x1="436.3" y1="562" x2="487" y2="562" stroke="#231f20" stroke-width="1.2"/>
<text x="461.6" y="571.5" font-size="7.3" text-anchor="middle" font-weight="bold" fill="#2a2a2a" textLength="18" lengthAdjust="spacingAndGlyphs" stroke="#2a2a2a" stroke-width="0.25">UMAP1</text>
<text x="250.5" y="528.3" font-size="7" text-anchor="middle" font-weight="bold" fill="#2a2a2a" transform="rotate(-90 250.5 528.3)" textLength="17.5" lengthAdjust="spacingAndGlyphs" stroke="#2a2a2a" stroke-width="0.25">UMAP2</text>
<text x="378.8" y="528.3" font-size="7" text-anchor="middle" font-weight="bold" fill="#2a2a2a" transform="rotate(-90 378.8 528.3)" textLength="17.5" lengthAdjust="spacingAndGlyphs" stroke="#2a2a2a" stroke-width="0.25">UMAP2</text>
<text x="281.7" y="480.2" font-size="8.4" text-anchor="middle">CD38<tspan baseline-shift="super" font-size="70%">+</tspan></text>
<text x="281.7" y="489.4" font-size="8.2" text-anchor="middle">T-cells</text>
<text x="338" y="480.2" font-size="8.4" text-anchor="middle">HLA-DR<tspan baseline-shift="super" font-size="70%">+</tspan></text>
<text x="338" y="489.4" font-size="8.2" text-anchor="middle">T-cells</text>
<text x="409" y="480.2" font-size="8.4" text-anchor="middle">CD8<tspan baseline-shift="super" font-size="70%">+</tspan></text>
<text x="409" y="489.4" font-size="8.2" text-anchor="middle">T-cells</text>
<text x="462.7" y="480.2" font-size="8.4" text-anchor="middle">PD-1<tspan baseline-shift="super" font-size="70%">+</tspan></text>
<text x="462.7" y="489.4" font-size="8.2" text-anchor="middle">T-cells</text>
<circle cx="276.2" cy="539.6" r="0.8" fill="#4a7aa0"/>
<circle cx="331.5" cy="539.6" r="0.8" fill="#7aa"/>
<circle cx="402.8" cy="539.6" r="0.8" fill="#b04030"/>
<circle cx="457.9" cy="539.6" r="0.8" fill="#5a8a9a"/>
<rect x="493.1" y="501" width="5.6" height="39" fill="url(#cbar)"/>
<text x="501.5" y="505.7" font-size="6" fill="#444" stroke="#444" stroke-width="0.18">1.00</text>
<text x="501.5" y="513.2" font-size="6" fill="#444" stroke="#444" stroke-width="0.18">0.75</text>
<text x="501.5" y="520.7" font-size="6" fill="#444" stroke="#444" stroke-width="0.18">0.50</text>
<text x="501.5" y="528.2" font-size="6" fill="#444" stroke="#444" stroke-width="0.18">0.25</text>
<text x="501.5" y="535.7" font-size="6" fill="#444" stroke="#444" stroke-width="0.18">0.00</text>
<rect x="0.5" y="0.5" width="519" height="582" fill="none" stroke="#606060" stroke-width="1"/>
</svg></body></html>
